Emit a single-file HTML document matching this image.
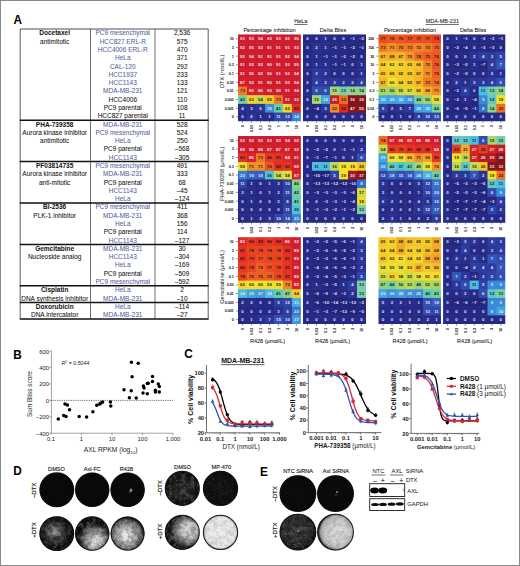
<!DOCTYPE html>
<html><head><meta charset="utf-8"><title>Figure</title>
<style>
html,body{margin:0;padding:0;background:#fff;}
body{width:520px;height:566px;overflow:hidden;}
svg{display:block;font-family:"Liberation Sans", sans-serif;}
</style></head><body>
<svg width="520" height="566" viewBox="0 0 520 566">
<defs>
<style>
text{font-family:"Liberation Sans", sans-serif;}
text.s{stroke-width:0.18px;}
text.w,text.k{font-size:4.3px;text-anchor:middle;font-weight:bold;}
text.w{fill:#e4e4f4;}
text.k{fill:#1c1c1c;}
</style>
<filter id="nW" x="0" y="0" width="1" height="1"><feTurbulence type="fractalNoise" baseFrequency="0.22" numOctaves="3" seed="4"/><feColorMatrix type="matrix" values="0 0 0 0 1  0 0 0 0 1  0 0 0 0 1  4 0 0 0 -1.7"/></filter>
<filter id="nK" x="0" y="0" width="1" height="1"><feTurbulence type="fractalNoise" baseFrequency="0.22" numOctaves="3" seed="11"/><feColorMatrix type="matrix" values="0 0 0 0 0  0 0 0 0 0  0 0 0 0 0  4 0 0 0 -1.6"/></filter>
<filter id="gW" x="0" y="0" width="1" height="1"><feTurbulence type="fractalNoise" baseFrequency="1.1" numOctaves="2" seed="5"/><feColorMatrix type="matrix" values="0 0 0 0 1  0 0 0 0 1  0 0 0 0 1  5 0 0 0 -2.4"/></filter>
<filter id="gK" x="0" y="0" width="1" height="1"><feTurbulence type="fractalNoise" baseFrequency="1.1" numOctaves="2" seed="7"/><feColorMatrix type="matrix" values="0 0 0 0 0  0 0 0 0 0  0 0 0 0 0  5 0 0 0 -2.4"/></filter>
<filter id="sW" x="0" y="0" width="1" height="1"><feTurbulence type="fractalNoise" baseFrequency="0.55" numOctaves="2" seed="21"/><feColorMatrix type="matrix" values="0 0 0 0 1  0 0 0 0 1  0 0 0 0 1  16 0 0 0 -11.2"/></filter>
<filter id="bl"><feGaussianBlur stdDeviation="0.5"/></filter>
<radialGradient id="g0" cx="0.5" cy="0.5" fx="0.5" fy="0.5" r="0.5"><stop offset="0" stop-color="#0b0b0b"/><stop offset="1" stop-color="#080808"/></radialGradient>
<clipPath id="c0"><circle cx="56.8" cy="489.8" r="17.4"/></clipPath>
<radialGradient id="g1" cx="0.5" cy="0.5" fx="0.5" fy="0.5" r="0.5"><stop offset="0" stop-color="#0b0b0b"/><stop offset="1" stop-color="#080808"/></radialGradient>
<clipPath id="c1"><circle cx="92.2" cy="489.8" r="17.2"/></clipPath>
<radialGradient id="g2" cx="0.5" cy="0.5" fx="0.5" fy="0.5" r="0.5"><stop offset="0" stop-color="#0b0b0b"/><stop offset="1" stop-color="#080808"/></radialGradient>
<clipPath id="c2"><circle cx="127.6" cy="489.8" r="17.2"/></clipPath>
<radialGradient id="g3" cx="0.47" cy="0.48" fx="0.4" fy="0.42" r="0.5"><stop offset="0" stop-color="#9a9a9a"/><stop offset="0.3" stop-color="#606060"/><stop offset="0.6" stop-color="#262626"/><stop offset="0.85" stop-color="#0e0e0e"/><stop offset="1" stop-color="#080808"/></radialGradient>
<clipPath id="c3"><circle cx="56.8" cy="533.6" r="17.4"/></clipPath>
<radialGradient id="g4" cx="0.58" cy="0.66" fx="0.6" fy="0.74" r="0.5"><stop offset="0" stop-color="#ececec"/><stop offset="0.3" stop-color="#d0d0d0"/><stop offset="0.6" stop-color="#808080"/><stop offset="0.85" stop-color="#242424"/><stop offset="1" stop-color="#0c0c0c"/></radialGradient>
<clipPath id="c4"><circle cx="92.2" cy="533.6" r="17.2"/></clipPath>
<radialGradient id="g5" cx="0.48" cy="0.54" fx="0.45" fy="0.58" r="0.5"><stop offset="0" stop-color="#f6f6f6"/><stop offset="0.25" stop-color="#e0e0e0"/><stop offset="0.6" stop-color="#a4a4a4"/><stop offset="0.88" stop-color="#5a5a5a"/><stop offset="1" stop-color="#1a1a1a"/></radialGradient>
<clipPath id="c5"><circle cx="127.6" cy="533.6" r="17.0"/></clipPath>
<radialGradient id="g6" cx="0.5" cy="0.55" fx="0.5" fy="0.55" r="0.5"><stop offset="0" stop-color="#262626"/><stop offset="0.5" stop-color="#181818"/><stop offset="0.8" stop-color="#0e0e0e"/><stop offset="1" stop-color="#0a0a0a"/></radialGradient>
<clipPath id="c6"><circle cx="182.3" cy="488.4" r="17.5"/></clipPath>
<radialGradient id="g7" cx="0.5" cy="0.5" fx="0.5" fy="0.5" r="0.5"><stop offset="0" stop-color="#101010"/><stop offset="0.8" stop-color="#0c0c0c"/><stop offset="1" stop-color="#0a0a0a"/></radialGradient>
<clipPath id="c7"><circle cx="220.5" cy="488.4" r="17.6"/></clipPath>
<radialGradient id="g8" cx="0.64" cy="0.45" fx="0.72" fy="0.42" r="0.5"><stop offset="0" stop-color="#e2e2e2"/><stop offset="0.45" stop-color="#c4c4c4"/><stop offset="0.8" stop-color="#505050"/><stop offset="1" stop-color="#101010"/></radialGradient>
<clipPath id="c8"><circle cx="182.3" cy="532.4" r="17.5"/></clipPath>
<radialGradient id="g9" cx="0.5" cy="0.5" fx="0.5" fy="0.5" r="0.5"><stop offset="0" stop-color="#f4f4f4"/><stop offset="0.85" stop-color="#eaeaea"/><stop offset="0.95" stop-color="#bcbcbc"/><stop offset="1" stop-color="#3a3a3a"/></radialGradient>
<clipPath id="c9"><circle cx="220.5" cy="532.4" r="17.6"/></clipPath>
<radialGradient id="g10" cx="0.5" cy="0.5" fx="0.5" fy="0.5" r="0.5"><stop offset="0" stop-color="#0c0c0c"/><stop offset="1" stop-color="#080808"/></radialGradient>
<clipPath id="c10"><circle cx="297.9" cy="493.6" r="18.4"/></clipPath>
<radialGradient id="g11" cx="0.5" cy="0.5" fx="0.5" fy="0.5" r="0.5"><stop offset="0" stop-color="#0c0c0c"/><stop offset="1" stop-color="#090909"/></radialGradient>
<clipPath id="c11"><circle cx="335.5" cy="493.6" r="18.4"/></clipPath>
<radialGradient id="g12" cx="0.45" cy="0.45" fx="0.45" fy="0.45" r="0.5"><stop offset="0" stop-color="#303030"/><stop offset="0.7" stop-color="#242424"/><stop offset="0.9" stop-color="#1c1c1c"/><stop offset="1" stop-color="#0c0c0c"/></radialGradient>
<clipPath id="c12"><circle cx="297.9" cy="532.1" r="18.4"/></clipPath>
<radialGradient id="g13" cx="0.55" cy="0.5" fx="0.58" fy="0.5" r="0.5"><stop offset="0" stop-color="#dedede"/><stop offset="0.6" stop-color="#d2d2d2"/><stop offset="0.86" stop-color="#b4b4b4"/><stop offset="0.96" stop-color="#787878"/><stop offset="1" stop-color="#2a2a2a"/></radialGradient>
<clipPath id="c13"><circle cx="335.5" cy="532.1" r="18.4"/></clipPath>
</defs>
<rect x="0.5" y="0.5" width="519" height="565" fill="#fff" stroke="#8a8a8a" stroke-width="1"/>
<text transform="translate(13.4,23.6) scale(0.88,1)" font-size="13.4" font-weight="bold" fill="#000">A</text>
<text transform="translate(13.2,358.5) scale(0.88,1)" font-size="13.4" font-weight="bold" fill="#000">B</text>
<text transform="translate(184.2,358.4) scale(0.88,1)" font-size="13.4" font-weight="bold" fill="#000">C</text>
<text transform="translate(13.2,475.3) scale(0.88,1)" font-size="13.4" font-weight="bold" fill="#000">D</text>
<text transform="translate(259.9,475.6) scale(0.88,1)" font-size="13.4" font-weight="bold" fill="#000">E</text>
<text x="54.65" y="35.44" font-size="6.5" text-anchor="middle" font-weight="bold" fill="#111" >Docetaxel</text>
<text x="54.65" y="43.73" font-size="6.5" text-anchor="middle" font-weight="normal" fill="#111" stroke="#111" stroke-width="0.05" >antimitotic</text>
<text x="122.75" y="35.44" font-size="6.5" text-anchor="middle" font-weight="normal" fill="#56619f" stroke="#56619f" stroke-width="0.05" >PC9 mesenchymal</text>
<text x="182.10" y="35.44" font-size="6.5" text-anchor="middle" font-weight="normal" fill="#111" stroke="#111" stroke-width="0.05" >2,536</text>
<text x="122.75" y="43.73" font-size="6.5" text-anchor="middle" font-weight="normal" fill="#56619f" stroke="#56619f" stroke-width="0.05" >HCC827 ERL-R</text>
<text x="182.10" y="43.73" font-size="6.5" text-anchor="middle" font-weight="normal" fill="#111" stroke="#111" stroke-width="0.05" >575</text>
<text x="122.75" y="52.01" font-size="6.5" text-anchor="middle" font-weight="normal" fill="#56619f" stroke="#56619f" stroke-width="0.05" >HCC4006 ERL-R</text>
<text x="182.10" y="52.01" font-size="6.5" text-anchor="middle" font-weight="normal" fill="#111" stroke="#111" stroke-width="0.05" >470</text>
<text x="122.75" y="60.30" font-size="6.5" text-anchor="middle" font-weight="normal" fill="#56619f" stroke="#56619f" stroke-width="0.05" >HeLa</text>
<text x="182.10" y="60.30" font-size="6.5" text-anchor="middle" font-weight="normal" fill="#111" stroke="#111" stroke-width="0.05" >371</text>
<text x="122.75" y="68.59" font-size="6.5" text-anchor="middle" font-weight="normal" fill="#56619f" stroke="#56619f" stroke-width="0.05" >CAL-120</text>
<text x="182.10" y="68.59" font-size="6.5" text-anchor="middle" font-weight="normal" fill="#111" stroke="#111" stroke-width="0.05" >292</text>
<text x="122.75" y="76.87" font-size="6.5" text-anchor="middle" font-weight="normal" fill="#56619f" stroke="#56619f" stroke-width="0.05" >HCC1937</text>
<text x="182.10" y="76.87" font-size="6.5" text-anchor="middle" font-weight="normal" fill="#111" stroke="#111" stroke-width="0.05" >233</text>
<text x="122.75" y="85.16" font-size="6.5" text-anchor="middle" font-weight="normal" fill="#56619f" stroke="#56619f" stroke-width="0.05" >HCC1143</text>
<text x="182.10" y="85.16" font-size="6.5" text-anchor="middle" font-weight="normal" fill="#111" stroke="#111" stroke-width="0.05" >133</text>
<text x="122.75" y="93.44" font-size="6.5" text-anchor="middle" font-weight="normal" fill="#56619f" stroke="#56619f" stroke-width="0.05" >MDA-MB-231</text>
<text x="182.10" y="93.44" font-size="6.5" text-anchor="middle" font-weight="normal" fill="#111" stroke="#111" stroke-width="0.05" >121</text>
<text x="122.75" y="101.73" font-size="6.5" text-anchor="middle" font-weight="normal" fill="#111" stroke="#111" stroke-width="0.05" >HCC4006</text>
<text x="182.10" y="101.73" font-size="6.5" text-anchor="middle" font-weight="normal" fill="#111" stroke="#111" stroke-width="0.05" >110</text>
<text x="122.75" y="110.01" font-size="6.5" text-anchor="middle" font-weight="normal" fill="#111" stroke="#111" stroke-width="0.05" >PC9 parental</text>
<text x="182.10" y="110.01" font-size="6.5" text-anchor="middle" font-weight="normal" fill="#111" stroke="#111" stroke-width="0.05" >108</text>
<text x="122.75" y="118.30" font-size="6.5" text-anchor="middle" font-weight="normal" fill="#111" stroke="#111" stroke-width="0.05" >HCC827 parental</text>
<text x="182.10" y="118.30" font-size="6.5" text-anchor="middle" font-weight="normal" fill="#111" stroke="#111" stroke-width="0.05" >11</text>
<text x="54.65" y="126.59" font-size="6.5" text-anchor="middle" font-weight="bold" fill="#111" >PHA-739358</text>
<text x="54.65" y="134.87" font-size="6.5" text-anchor="middle" font-weight="normal" fill="#111" stroke="#111" stroke-width="0.05" >Aurora kinase inhibitor</text>
<text x="54.65" y="143.16" font-size="6.5" text-anchor="middle" font-weight="normal" fill="#111" stroke="#111" stroke-width="0.05" >antimitotic</text>
<text x="122.75" y="126.59" font-size="6.5" text-anchor="middle" font-weight="normal" fill="#56619f" stroke="#56619f" stroke-width="0.05" >MDA-MB-231</text>
<text x="182.10" y="126.59" font-size="6.5" text-anchor="middle" font-weight="normal" fill="#111" stroke="#111" stroke-width="0.05" >528</text>
<text x="122.75" y="134.87" font-size="6.5" text-anchor="middle" font-weight="normal" fill="#56619f" stroke="#56619f" stroke-width="0.05" >PC9 mesenchymal</text>
<text x="182.10" y="134.87" font-size="6.5" text-anchor="middle" font-weight="normal" fill="#111" stroke="#111" stroke-width="0.05" >524</text>
<text x="122.75" y="143.16" font-size="6.5" text-anchor="middle" font-weight="normal" fill="#56619f" stroke="#56619f" stroke-width="0.05" >HeLa</text>
<text x="182.10" y="143.16" font-size="6.5" text-anchor="middle" font-weight="normal" fill="#111" stroke="#111" stroke-width="0.05" >250</text>
<text x="122.75" y="151.44" font-size="6.5" text-anchor="middle" font-weight="normal" fill="#111" stroke="#111" stroke-width="0.05" >PC9 parental</text>
<text x="182.10" y="151.44" font-size="6.5" text-anchor="middle" font-weight="normal" fill="#111" stroke="#111" stroke-width="0.05" >–568</text>
<text x="122.75" y="159.73" font-size="6.5" text-anchor="middle" font-weight="normal" fill="#56619f" stroke="#56619f" stroke-width="0.05" >HCC1143</text>
<text x="182.10" y="159.73" font-size="6.5" text-anchor="middle" font-weight="normal" fill="#111" stroke="#111" stroke-width="0.05" >–305</text>
<text x="54.65" y="168.01" font-size="6.5" text-anchor="middle" font-weight="bold" fill="#111" >PF03814735</text>
<text x="54.65" y="176.30" font-size="6.5" text-anchor="middle" font-weight="normal" fill="#111" stroke="#111" stroke-width="0.05" >Aurora kinase inhibitor</text>
<text x="54.65" y="184.59" font-size="6.5" text-anchor="middle" font-weight="normal" fill="#111" stroke="#111" stroke-width="0.05" >anti-mitotic</text>
<text x="122.75" y="168.01" font-size="6.5" text-anchor="middle" font-weight="normal" fill="#56619f" stroke="#56619f" stroke-width="0.05" >PC9 mesenchymal</text>
<text x="182.10" y="168.01" font-size="6.5" text-anchor="middle" font-weight="normal" fill="#111" stroke="#111" stroke-width="0.05" >491</text>
<text x="122.75" y="176.30" font-size="6.5" text-anchor="middle" font-weight="normal" fill="#56619f" stroke="#56619f" stroke-width="0.05" >MDA-MB-231</text>
<text x="182.10" y="176.30" font-size="6.5" text-anchor="middle" font-weight="normal" fill="#111" stroke="#111" stroke-width="0.05" >333</text>
<text x="122.75" y="184.59" font-size="6.5" text-anchor="middle" font-weight="normal" fill="#111" stroke="#111" stroke-width="0.05" >PC9 parental</text>
<text x="182.10" y="184.59" font-size="6.5" text-anchor="middle" font-weight="normal" fill="#111" stroke="#111" stroke-width="0.05" >68</text>
<text x="122.75" y="192.87" font-size="6.5" text-anchor="middle" font-weight="normal" fill="#56619f" stroke="#56619f" stroke-width="0.05" >HCC1143</text>
<text x="182.10" y="192.87" font-size="6.5" text-anchor="middle" font-weight="normal" fill="#111" stroke="#111" stroke-width="0.05" >–45</text>
<text x="122.75" y="201.16" font-size="6.5" text-anchor="middle" font-weight="normal" fill="#56619f" stroke="#56619f" stroke-width="0.05" >HeLa</text>
<text x="182.10" y="201.16" font-size="6.5" text-anchor="middle" font-weight="normal" fill="#111" stroke="#111" stroke-width="0.05" >–124</text>
<text x="54.65" y="209.44" font-size="6.5" text-anchor="middle" font-weight="bold" fill="#111" >BI-2536</text>
<text x="54.65" y="217.73" font-size="6.5" text-anchor="middle" font-weight="normal" fill="#111" stroke="#111" stroke-width="0.05" >PLK-1 inhibitor</text>
<text x="122.75" y="209.44" font-size="6.5" text-anchor="middle" font-weight="normal" fill="#56619f" stroke="#56619f" stroke-width="0.05" >PC9 mesenchymal</text>
<text x="182.10" y="209.44" font-size="6.5" text-anchor="middle" font-weight="normal" fill="#111" stroke="#111" stroke-width="0.05" >411</text>
<text x="122.75" y="217.73" font-size="6.5" text-anchor="middle" font-weight="normal" fill="#56619f" stroke="#56619f" stroke-width="0.05" >MDA-MB-231</text>
<text x="182.10" y="217.73" font-size="6.5" text-anchor="middle" font-weight="normal" fill="#111" stroke="#111" stroke-width="0.05" >368</text>
<text x="122.75" y="226.01" font-size="6.5" text-anchor="middle" font-weight="normal" fill="#56619f" stroke="#56619f" stroke-width="0.05" >HeLa</text>
<text x="182.10" y="226.01" font-size="6.5" text-anchor="middle" font-weight="normal" fill="#111" stroke="#111" stroke-width="0.05" >156</text>
<text x="122.75" y="234.30" font-size="6.5" text-anchor="middle" font-weight="normal" fill="#111" stroke="#111" stroke-width="0.05" >PC9 parental</text>
<text x="182.10" y="234.30" font-size="6.5" text-anchor="middle" font-weight="normal" fill="#111" stroke="#111" stroke-width="0.05" >114</text>
<text x="122.75" y="242.59" font-size="6.5" text-anchor="middle" font-weight="normal" fill="#56619f" stroke="#56619f" stroke-width="0.05" >HCC1143</text>
<text x="182.10" y="242.59" font-size="6.5" text-anchor="middle" font-weight="normal" fill="#111" stroke="#111" stroke-width="0.05" >–127</text>
<text x="54.65" y="250.87" font-size="6.5" text-anchor="middle" font-weight="bold" fill="#111" >Gemcitabine</text>
<text x="54.65" y="259.16" font-size="6.5" text-anchor="middle" font-weight="normal" fill="#111" stroke="#111" stroke-width="0.05" >Nucleoside analog</text>
<text x="122.75" y="250.87" font-size="6.5" text-anchor="middle" font-weight="normal" fill="#56619f" stroke="#56619f" stroke-width="0.05" >MDA-MB-231</text>
<text x="182.10" y="250.87" font-size="6.5" text-anchor="middle" font-weight="normal" fill="#111" stroke="#111" stroke-width="0.05" >30</text>
<text x="122.75" y="259.16" font-size="6.5" text-anchor="middle" font-weight="normal" fill="#56619f" stroke="#56619f" stroke-width="0.05" >HCC1143</text>
<text x="182.10" y="259.16" font-size="6.5" text-anchor="middle" font-weight="normal" fill="#111" stroke="#111" stroke-width="0.05" >–304</text>
<text x="122.75" y="267.44" font-size="6.5" text-anchor="middle" font-weight="normal" fill="#56619f" stroke="#56619f" stroke-width="0.05" >HeLa</text>
<text x="182.10" y="267.44" font-size="6.5" text-anchor="middle" font-weight="normal" fill="#111" stroke="#111" stroke-width="0.05" >–169</text>
<text x="122.75" y="275.73" font-size="6.5" text-anchor="middle" font-weight="normal" fill="#111" stroke="#111" stroke-width="0.05" >PC9 parental</text>
<text x="182.10" y="275.73" font-size="6.5" text-anchor="middle" font-weight="normal" fill="#111" stroke="#111" stroke-width="0.05" >–509</text>
<text x="122.75" y="284.01" font-size="6.5" text-anchor="middle" font-weight="normal" fill="#56619f" stroke="#56619f" stroke-width="0.05" >PC9 mesenchymal</text>
<text x="182.10" y="284.01" font-size="6.5" text-anchor="middle" font-weight="normal" fill="#111" stroke="#111" stroke-width="0.05" >–592</text>
<text x="54.65" y="292.30" font-size="6.5" text-anchor="middle" font-weight="bold" fill="#111" >Cisplatin</text>
<text x="54.65" y="300.59" font-size="6.5" text-anchor="middle" font-weight="normal" fill="#111" stroke="#111" stroke-width="0.05" >DNA synthesis inhibitor</text>
<text x="122.75" y="292.30" font-size="6.5" text-anchor="middle" font-weight="normal" fill="#56619f" stroke="#56619f" stroke-width="0.05" >HeLa</text>
<text x="182.10" y="292.30" font-size="6.5" text-anchor="middle" font-weight="normal" fill="#111" stroke="#111" stroke-width="0.05" >2</text>
<text x="122.75" y="300.59" font-size="6.5" text-anchor="middle" font-weight="normal" fill="#56619f" stroke="#56619f" stroke-width="0.05" >MDA-MB-231</text>
<text x="182.10" y="300.59" font-size="6.5" text-anchor="middle" font-weight="normal" fill="#111" stroke="#111" stroke-width="0.05" >–10</text>
<text x="54.65" y="308.87" font-size="6.5" text-anchor="middle" font-weight="bold" fill="#111" >Doxorubicin</text>
<text x="54.65" y="317.16" font-size="6.5" text-anchor="middle" font-weight="normal" fill="#111" stroke="#111" stroke-width="0.05" >DNA intercalator</text>
<text x="122.75" y="308.87" font-size="6.5" text-anchor="middle" font-weight="normal" fill="#56619f" stroke="#56619f" stroke-width="0.05" >HeLa</text>
<text x="182.10" y="308.87" font-size="6.5" text-anchor="middle" font-weight="normal" fill="#111" stroke="#111" stroke-width="0.05" >–114</text>
<text x="122.75" y="317.16" font-size="6.5" text-anchor="middle" font-weight="normal" fill="#56619f" stroke="#56619f" stroke-width="0.05" >MDA-MB-231</text>
<text x="182.10" y="317.16" font-size="6.5" text-anchor="middle" font-weight="normal" fill="#111" stroke="#111" stroke-width="0.05" >–27</text>
<line x1="20.20" y1="29.00" x2="208.20" y2="29.00" stroke="#222" stroke-width="0.8" />
<line x1="20.20" y1="29.00" x2="20.20" y2="319.00" stroke="#333" stroke-width="0.8" />
<line x1="208.20" y1="29.00" x2="208.20" y2="319.00" stroke="#333" stroke-width="0.8" />
<line x1="90.50" y1="29.00" x2="90.50" y2="319.00" stroke="#333" stroke-width="0.7" />
<line x1="155.00" y1="29.00" x2="155.00" y2="319.00" stroke="#333" stroke-width="0.7" />
<line x1="19.80" y1="120.14" x2="208.60" y2="120.14" stroke="#111" stroke-width="1.5" />
<line x1="19.80" y1="161.57" x2="208.60" y2="161.57" stroke="#111" stroke-width="1.5" />
<line x1="19.80" y1="203.00" x2="208.60" y2="203.00" stroke="#111" stroke-width="1.5" />
<line x1="19.80" y1="244.43" x2="208.60" y2="244.43" stroke="#111" stroke-width="1.5" />
<line x1="19.80" y1="285.86" x2="208.60" y2="285.86" stroke="#111" stroke-width="1.5" />
<line x1="19.80" y1="302.43" x2="208.60" y2="302.43" stroke="#111" stroke-width="1.5" />
<line x1="19.80" y1="319.00" x2="208.60" y2="319.00" stroke="#111" stroke-width="1.5" />
<g>
<rect x="238.00" y="34.45" width="9.58" height="9.28" fill="#d01c2c"/>
<rect x="246.98" y="34.45" width="9.58" height="9.28" fill="#d01c2c"/>
<rect x="255.96" y="34.45" width="9.58" height="9.28" fill="#d01c2c"/>
<rect x="264.94" y="34.45" width="9.58" height="9.28" fill="#d01c2c"/>
<rect x="273.92" y="34.45" width="9.58" height="9.28" fill="#d01c2c"/>
<rect x="282.90" y="34.45" width="9.58" height="9.28" fill="#d01c2c"/>
<rect x="291.88" y="34.45" width="8.98" height="9.28" fill="#d01c2c"/>
<rect x="238.00" y="43.13" width="9.58" height="9.28" fill="#d01c2c"/>
<rect x="246.98" y="43.13" width="9.58" height="9.28" fill="#d01c2c"/>
<rect x="255.96" y="43.13" width="9.58" height="9.28" fill="#d01c2c"/>
<rect x="264.94" y="43.13" width="9.58" height="9.28" fill="#d11c2c"/>
<rect x="273.92" y="43.13" width="9.58" height="9.28" fill="#d11c2c"/>
<rect x="282.90" y="43.13" width="9.58" height="9.28" fill="#d11c2c"/>
<rect x="291.88" y="43.13" width="8.98" height="9.28" fill="#d01c2c"/>
<rect x="238.00" y="51.81" width="9.58" height="9.28" fill="#d01c2c"/>
<rect x="246.98" y="51.81" width="9.58" height="9.28" fill="#d01c2c"/>
<rect x="255.96" y="51.81" width="9.58" height="9.28" fill="#d11c2c"/>
<rect x="264.94" y="51.81" width="9.58" height="9.28" fill="#d11c2c"/>
<rect x="273.92" y="51.81" width="9.58" height="9.28" fill="#d11c2c"/>
<rect x="282.90" y="51.81" width="9.58" height="9.28" fill="#d01c2c"/>
<rect x="291.88" y="51.81" width="8.98" height="9.28" fill="#d01c2c"/>
<rect x="238.00" y="60.49" width="9.58" height="9.28" fill="#d11c2c"/>
<rect x="246.98" y="60.49" width="9.58" height="9.28" fill="#d01c2c"/>
<rect x="255.96" y="60.49" width="9.58" height="9.28" fill="#d01c2c"/>
<rect x="264.94" y="60.49" width="9.58" height="9.28" fill="#d21d2b"/>
<rect x="273.92" y="60.49" width="9.58" height="9.28" fill="#d11c2c"/>
<rect x="282.90" y="60.49" width="9.58" height="9.28" fill="#d01c2c"/>
<rect x="291.88" y="60.49" width="8.98" height="9.28" fill="#d01c2c"/>
<rect x="238.00" y="69.17" width="9.58" height="9.28" fill="#d11c2c"/>
<rect x="246.98" y="69.17" width="9.58" height="9.28" fill="#d01c2c"/>
<rect x="255.96" y="69.17" width="9.58" height="9.28" fill="#d01c2c"/>
<rect x="264.94" y="69.17" width="9.58" height="9.28" fill="#d21d2b"/>
<rect x="273.92" y="69.17" width="9.58" height="9.28" fill="#d11c2c"/>
<rect x="282.90" y="69.17" width="9.58" height="9.28" fill="#d01c2c"/>
<rect x="291.88" y="69.17" width="8.98" height="9.28" fill="#d01c2c"/>
<rect x="238.00" y="77.85" width="9.58" height="9.28" fill="#d62029"/>
<rect x="246.98" y="77.85" width="9.58" height="9.28" fill="#d01c2c"/>
<rect x="255.96" y="77.85" width="9.58" height="9.28" fill="#d11c2c"/>
<rect x="264.94" y="77.85" width="9.58" height="9.28" fill="#d21d2b"/>
<rect x="273.92" y="77.85" width="9.58" height="9.28" fill="#d11c2c"/>
<rect x="282.90" y="77.85" width="9.58" height="9.28" fill="#d01c2c"/>
<rect x="291.88" y="77.85" width="8.98" height="9.28" fill="#d01c2c"/>
<rect x="238.00" y="86.53" width="9.58" height="9.28" fill="#ef7a25"/>
<rect x="246.98" y="86.53" width="9.58" height="9.28" fill="#d92228"/>
<rect x="255.96" y="86.53" width="9.58" height="9.28" fill="#d92228"/>
<rect x="264.94" y="86.53" width="9.58" height="9.28" fill="#d21d2b"/>
<rect x="273.92" y="86.53" width="9.58" height="9.28" fill="#d21d2b"/>
<rect x="282.90" y="86.53" width="9.58" height="9.28" fill="#d11c2c"/>
<rect x="291.88" y="86.53" width="8.98" height="9.28" fill="#d01c2c"/>
<rect x="238.00" y="95.21" width="9.58" height="9.28" fill="#71cfa0"/>
<rect x="246.98" y="95.21" width="9.58" height="9.28" fill="#f5d22a"/>
<rect x="255.96" y="95.21" width="9.58" height="9.28" fill="#c6da4b"/>
<rect x="264.94" y="95.21" width="9.58" height="9.28" fill="#f5c828"/>
<rect x="273.92" y="95.21" width="9.58" height="9.28" fill="#ef7a25"/>
<rect x="282.90" y="95.21" width="9.58" height="9.28" fill="#d11c2c"/>
<rect x="291.88" y="95.21" width="8.98" height="9.28" fill="#d01c2c"/>
<rect x="238.00" y="103.89" width="9.58" height="9.28" fill="#29308f"/>
<rect x="246.98" y="103.89" width="9.58" height="9.28" fill="#282f8d"/>
<rect x="255.96" y="103.89" width="9.58" height="9.28" fill="#2b3595"/>
<rect x="264.94" y="103.89" width="9.58" height="9.28" fill="#3c8cd7"/>
<rect x="273.92" y="103.89" width="9.58" height="9.28" fill="#64cdaf"/>
<rect x="282.90" y="103.89" width="9.58" height="9.28" fill="#f5d72b"/>
<rect x="291.88" y="103.89" width="8.98" height="9.28" fill="#e22e24"/>
<rect x="238.00" y="112.57" width="9.58" height="8.68" fill="#262a87"/>
<rect x="246.98" y="112.57" width="9.58" height="8.68" fill="#2b3595"/>
<rect x="255.96" y="112.57" width="9.58" height="8.68" fill="#272c89"/>
<rect x="264.94" y="112.57" width="9.58" height="8.68" fill="#272c89"/>
<rect x="273.92" y="112.57" width="9.58" height="8.68" fill="#3144a8"/>
<rect x="282.90" y="112.57" width="9.58" height="8.68" fill="#3247ab"/>
<rect x="291.88" y="112.57" width="8.98" height="8.68" fill="#3b85d4"/>
<text x="242.5" y="40.3" class="w">93</text>
<text x="251.5" y="40.3" class="w">93</text>
<text x="260.4" y="40.3" class="w">94</text>
<text x="269.4" y="40.3" class="w">93</text>
<text x="278.4" y="40.3" class="w">93</text>
<text x="287.4" y="40.3" class="w">92</text>
<text x="296.4" y="40.3" class="w">95</text>
<text x="242.5" y="49.0" class="w">92</text>
<text x="251.5" y="49.0" class="w">95</text>
<text x="260.4" y="49.0" class="w">92</text>
<text x="269.4" y="49.0" class="w">91</text>
<text x="278.4" y="49.0" class="w">91</text>
<text x="287.4" y="49.0" class="w">91</text>
<text x="296.4" y="49.0" class="w">93</text>
<text x="242.5" y="57.7" class="w">92</text>
<text x="251.5" y="57.7" class="w">94</text>
<text x="260.4" y="57.7" class="w">91</text>
<text x="269.4" y="57.7" class="w">91</text>
<text x="278.4" y="57.7" class="w">91</text>
<text x="287.4" y="57.7" class="w">92</text>
<text x="296.4" y="57.7" class="w">94</text>
<text x="242.5" y="66.3" class="w">91</text>
<text x="251.5" y="66.3" class="w">93</text>
<text x="260.4" y="66.3" class="w">92</text>
<text x="269.4" y="66.3" class="w">90</text>
<text x="278.4" y="66.3" class="w">91</text>
<text x="287.4" y="66.3" class="w">93</text>
<text x="296.4" y="66.3" class="w">95</text>
<text x="242.5" y="75.0" class="w">91</text>
<text x="251.5" y="75.0" class="w">95</text>
<text x="260.4" y="75.0" class="w">92</text>
<text x="269.4" y="75.0" class="w">90</text>
<text x="278.4" y="75.0" class="w">91</text>
<text x="287.4" y="75.0" class="w">92</text>
<text x="296.4" y="75.0" class="w">94</text>
<text x="242.5" y="83.7" class="w">87</text>
<text x="251.5" y="83.7" class="w">93</text>
<text x="260.4" y="83.7" class="w">91</text>
<text x="269.4" y="83.7" class="w">90</text>
<text x="278.4" y="83.7" class="w">91</text>
<text x="287.4" y="83.7" class="w">93</text>
<text x="296.4" y="83.7" class="w">94</text>
<text x="242.5" y="92.4" class="k">73</text>
<text x="251.5" y="92.4" class="w">86</text>
<text x="260.4" y="92.4" class="w">86</text>
<text x="269.4" y="92.4" class="w">90</text>
<text x="278.4" y="92.4" class="w">90</text>
<text x="287.4" y="92.4" class="w">91</text>
<text x="296.4" y="92.4" class="w">94</text>
<text x="242.5" y="101.1" class="k">43</text>
<text x="251.5" y="101.1" class="k">63</text>
<text x="260.4" y="101.1" class="k">54</text>
<text x="269.4" y="101.1" class="k">65</text>
<text x="278.4" y="101.1" class="k">73</text>
<text x="287.4" y="101.1" class="w">91</text>
<text x="296.4" y="101.1" class="w">93</text>
<text x="242.5" y="109.7" class="w">4</text>
<text x="251.5" y="109.7" class="w">3</text>
<text x="260.4" y="109.7" class="w">6</text>
<text x="269.4" y="109.7" class="w">25</text>
<text x="278.4" y="109.7" class="k">41</text>
<text x="287.4" y="109.7" class="k">62</text>
<text x="296.4" y="109.7" class="k">82</text>
<text x="242.5" y="118.4" class="w">0</text>
<text x="251.5" y="118.4" class="w">6</text>
<text x="260.4" y="118.4" class="w">1</text>
<text x="269.4" y="118.4" class="w">1</text>
<text x="278.4" y="118.4" class="w">11</text>
<text x="287.4" y="118.4" class="w">12</text>
<text x="296.4" y="118.4" class="w">24</text>
</g>
<line x1="242.49" y1="121.25" x2="242.49" y2="123.05" stroke="#333" stroke-width="0.5" />
<text transform="translate(243.89,125.45) rotate(-90)" font-size="3.8" font-weight="bold" letter-spacing="-0.2" text-anchor="end" fill="#1a1a1a">0</text>
<line x1="251.47" y1="121.25" x2="251.47" y2="123.05" stroke="#333" stroke-width="0.5" />
<text transform="translate(252.87,125.45) rotate(-90)" font-size="3.8" font-weight="bold" letter-spacing="-0.2" text-anchor="end" fill="#1a1a1a">0.03</text>
<line x1="260.45" y1="121.25" x2="260.45" y2="123.05" stroke="#333" stroke-width="0.5" />
<text transform="translate(261.85,125.45) rotate(-90)" font-size="3.8" font-weight="bold" letter-spacing="-0.2" text-anchor="end" fill="#1a1a1a">0.1</text>
<line x1="269.43" y1="121.25" x2="269.43" y2="123.05" stroke="#333" stroke-width="0.5" />
<text transform="translate(270.83,125.45) rotate(-90)" font-size="3.8" font-weight="bold" letter-spacing="-0.2" text-anchor="end" fill="#1a1a1a">0.3</text>
<line x1="278.41" y1="121.25" x2="278.41" y2="123.05" stroke="#333" stroke-width="0.5" />
<text transform="translate(279.81,125.45) rotate(-90)" font-size="3.8" font-weight="bold" letter-spacing="-0.2" text-anchor="end" fill="#1a1a1a">1</text>
<line x1="287.39" y1="121.25" x2="287.39" y2="123.05" stroke="#333" stroke-width="0.5" />
<text transform="translate(288.79,125.45) rotate(-90)" font-size="3.8" font-weight="bold" letter-spacing="-0.2" text-anchor="end" fill="#1a1a1a">3</text>
<line x1="296.37" y1="121.25" x2="296.37" y2="123.05" stroke="#333" stroke-width="0.5" />
<text transform="translate(297.77,125.45) rotate(-90)" font-size="3.8" font-weight="bold" letter-spacing="-0.2" text-anchor="end" fill="#1a1a1a">10</text>
<line x1="235.80" y1="38.79" x2="238.00" y2="38.79" stroke="#333" stroke-width="0.5" />
<text x="233.60" y="40.19" font-size="3.9" text-anchor="end" font-weight="bold" fill="#1a1a1a" letter-spacing="-0.2">10</text>
<line x1="235.80" y1="47.47" x2="238.00" y2="47.47" stroke="#333" stroke-width="0.5" />
<text x="233.60" y="48.87" font-size="3.9" text-anchor="end" font-weight="bold" fill="#1a1a1a" letter-spacing="-0.2">3</text>
<line x1="235.80" y1="56.15" x2="238.00" y2="56.15" stroke="#333" stroke-width="0.5" />
<text x="233.60" y="57.55" font-size="3.9" text-anchor="end" font-weight="bold" fill="#1a1a1a" letter-spacing="-0.2">1</text>
<line x1="235.80" y1="64.83" x2="238.00" y2="64.83" stroke="#333" stroke-width="0.5" />
<text x="233.60" y="66.23" font-size="3.9" text-anchor="end" font-weight="bold" fill="#1a1a1a" letter-spacing="-0.2">0.3</text>
<line x1="235.80" y1="73.51" x2="238.00" y2="73.51" stroke="#333" stroke-width="0.5" />
<text x="233.60" y="74.91" font-size="3.9" text-anchor="end" font-weight="bold" fill="#1a1a1a" letter-spacing="-0.2">0.1</text>
<line x1="235.80" y1="82.19" x2="238.00" y2="82.19" stroke="#333" stroke-width="0.5" />
<text x="233.60" y="83.59" font-size="3.9" text-anchor="end" font-weight="bold" fill="#1a1a1a" letter-spacing="-0.2">0.03</text>
<line x1="235.80" y1="90.87" x2="238.00" y2="90.87" stroke="#333" stroke-width="0.5" />
<text x="233.60" y="92.27" font-size="3.9" text-anchor="end" font-weight="bold" fill="#1a1a1a" letter-spacing="-0.2">0.01</text>
<line x1="235.80" y1="99.55" x2="238.00" y2="99.55" stroke="#333" stroke-width="0.5" />
<text x="233.60" y="100.95" font-size="3.9" text-anchor="end" font-weight="bold" fill="#1a1a1a" letter-spacing="-0.2">0.003</text>
<line x1="235.80" y1="108.23" x2="238.00" y2="108.23" stroke="#333" stroke-width="0.5" />
<text x="233.60" y="109.63" font-size="3.9" text-anchor="end" font-weight="bold" fill="#1a1a1a" letter-spacing="-0.2">0.001</text>
<line x1="235.80" y1="116.91" x2="238.00" y2="116.91" stroke="#333" stroke-width="0.5" />
<text x="233.60" y="118.31" font-size="3.9" text-anchor="end" font-weight="bold" fill="#1a1a1a" letter-spacing="-0.2">0</text>
<g>
<rect x="303.00" y="34.45" width="9.60" height="9.28" fill="#262a87"/>
<rect x="312.00" y="34.45" width="9.60" height="9.28" fill="#262a87"/>
<rect x="321.00" y="34.45" width="9.60" height="9.28" fill="#282e8d"/>
<rect x="330.00" y="34.45" width="9.60" height="9.28" fill="#262a87"/>
<rect x="339.00" y="34.45" width="9.60" height="9.28" fill="#262a87"/>
<rect x="348.00" y="34.45" width="9.60" height="9.28" fill="#262986"/>
<rect x="357.00" y="34.45" width="9.00" height="9.28" fill="#252984"/>
<rect x="303.00" y="43.13" width="9.60" height="9.28" fill="#262a87"/>
<rect x="312.00" y="43.13" width="9.60" height="9.28" fill="#2a3394"/>
<rect x="321.00" y="43.13" width="9.60" height="9.28" fill="#282e8d"/>
<rect x="330.00" y="43.13" width="9.60" height="9.28" fill="#262986"/>
<rect x="339.00" y="43.13" width="9.60" height="9.28" fill="#262986"/>
<rect x="348.00" y="43.13" width="9.60" height="9.28" fill="#252984"/>
<rect x="357.00" y="43.13" width="9.00" height="9.28" fill="#262986"/>
<rect x="303.00" y="51.81" width="9.60" height="9.28" fill="#262a87"/>
<rect x="312.00" y="51.81" width="9.60" height="9.28" fill="#282e8d"/>
<rect x="321.00" y="51.81" width="9.60" height="9.28" fill="#262986"/>
<rect x="330.00" y="51.81" width="9.60" height="9.28" fill="#262986"/>
<rect x="339.00" y="51.81" width="9.60" height="9.28" fill="#252984"/>
<rect x="348.00" y="51.81" width="9.60" height="9.28" fill="#252984"/>
<rect x="357.00" y="51.81" width="9.00" height="9.28" fill="#262a87"/>
<rect x="303.00" y="60.49" width="9.60" height="9.28" fill="#262a87"/>
<rect x="312.00" y="60.49" width="9.60" height="9.28" fill="#282e8d"/>
<rect x="321.00" y="60.49" width="9.60" height="9.28" fill="#282e8d"/>
<rect x="330.00" y="60.49" width="9.60" height="9.28" fill="#262986"/>
<rect x="339.00" y="60.49" width="9.60" height="9.28" fill="#262986"/>
<rect x="348.00" y="60.49" width="9.60" height="9.28" fill="#262a87"/>
<rect x="357.00" y="60.49" width="9.00" height="9.28" fill="#282e8d"/>
<rect x="303.00" y="69.17" width="9.60" height="9.28" fill="#262a87"/>
<rect x="312.00" y="69.17" width="9.60" height="9.28" fill="#2b389a"/>
<rect x="321.00" y="69.17" width="9.60" height="9.28" fill="#2a3394"/>
<rect x="330.00" y="69.17" width="9.60" height="9.28" fill="#262a87"/>
<rect x="339.00" y="69.17" width="9.60" height="9.28" fill="#262a87"/>
<rect x="348.00" y="69.17" width="9.60" height="9.28" fill="#262a87"/>
<rect x="357.00" y="69.17" width="9.00" height="9.28" fill="#282e8d"/>
<rect x="303.00" y="77.85" width="9.60" height="9.28" fill="#262a87"/>
<rect x="312.00" y="77.85" width="9.60" height="9.28" fill="#2d3ca0"/>
<rect x="321.00" y="77.85" width="9.60" height="9.28" fill="#2b389a"/>
<rect x="330.00" y="77.85" width="9.60" height="9.28" fill="#2b389a"/>
<rect x="339.00" y="77.85" width="9.60" height="9.28" fill="#2a3394"/>
<rect x="348.00" y="77.85" width="9.60" height="9.28" fill="#2a3394"/>
<rect x="357.00" y="77.85" width="9.00" height="9.28" fill="#2d3ca0"/>
<rect x="303.00" y="86.53" width="9.60" height="9.28" fill="#262a87"/>
<rect x="312.00" y="86.53" width="9.60" height="9.28" fill="#304db1"/>
<rect x="321.00" y="86.53" width="9.60" height="9.28" fill="#304db1"/>
<rect x="330.00" y="86.53" width="9.60" height="9.28" fill="#a5d773"/>
<rect x="339.00" y="86.53" width="9.60" height="9.28" fill="#78cdaa"/>
<rect x="348.00" y="86.53" width="9.60" height="9.28" fill="#8ed28e"/>
<rect x="357.00" y="86.53" width="9.00" height="9.28" fill="#8ed28e"/>
<rect x="303.00" y="95.21" width="9.60" height="9.28" fill="#262a87"/>
<rect x="312.00" y="95.21" width="9.60" height="9.28" fill="#a5d773"/>
<rect x="321.00" y="95.21" width="9.60" height="9.28" fill="#41a5dc"/>
<rect x="330.00" y="95.21" width="9.60" height="9.28" fill="#c31e20"/>
<rect x="339.00" y="95.21" width="9.60" height="9.28" fill="#f06e23"/>
<rect x="348.00" y="95.21" width="9.60" height="9.28" fill="#871419"/>
<rect x="357.00" y="95.21" width="9.00" height="9.28" fill="#871419"/>
<rect x="303.00" y="103.89" width="9.60" height="9.28" fill="#262a87"/>
<rect x="312.00" y="103.89" width="9.60" height="9.28" fill="#242882"/>
<rect x="321.00" y="103.89" width="9.60" height="9.28" fill="#2b389a"/>
<rect x="330.00" y="103.89" width="9.60" height="9.28" fill="#f28c26"/>
<rect x="339.00" y="103.89" width="9.60" height="9.28" fill="#e12823"/>
<rect x="348.00" y="103.89" width="9.60" height="9.28" fill="#871419"/>
<rect x="357.00" y="103.89" width="9.00" height="9.28" fill="#871419"/>
<rect x="303.00" y="112.57" width="9.60" height="8.68" fill="#262a87"/>
<rect x="312.00" y="112.57" width="9.60" height="8.68" fill="#262a87"/>
<rect x="321.00" y="112.57" width="9.60" height="8.68" fill="#262a87"/>
<rect x="330.00" y="112.57" width="9.60" height="8.68" fill="#262a87"/>
<rect x="339.00" y="112.57" width="9.60" height="8.68" fill="#262a87"/>
<rect x="348.00" y="112.57" width="9.60" height="8.68" fill="#262a87"/>
<rect x="357.00" y="112.57" width="9.00" height="8.68" fill="#262a87"/>
<text x="307.5" y="40.3" class="w">0</text>
<text x="316.5" y="40.3" class="w">0</text>
<text x="325.5" y="40.3" class="w">1</text>
<text x="334.5" y="40.3" class="w">0</text>
<text x="343.5" y="40.3" class="w">0</text>
<text x="352.5" y="40.3" class="w">–1</text>
<text x="361.5" y="40.3" class="w">–2</text>
<text x="307.5" y="49.0" class="w">0</text>
<text x="316.5" y="49.0" class="w">2</text>
<text x="325.5" y="49.0" class="w">1</text>
<text x="334.5" y="49.0" class="w">–1</text>
<text x="343.5" y="49.0" class="w">–1</text>
<text x="352.5" y="49.0" class="w">–2</text>
<text x="361.5" y="49.0" class="w">–1</text>
<text x="307.5" y="57.7" class="w">0</text>
<text x="316.5" y="57.7" class="w">1</text>
<text x="325.5" y="57.7" class="w">–1</text>
<text x="334.5" y="57.7" class="w">–1</text>
<text x="343.5" y="57.7" class="w">–2</text>
<text x="352.5" y="57.7" class="w">–2</text>
<text x="361.5" y="57.7" class="w">0</text>
<text x="307.5" y="66.3" class="w">0</text>
<text x="316.5" y="66.3" class="w">1</text>
<text x="325.5" y="66.3" class="w">1</text>
<text x="334.5" y="66.3" class="w">–1</text>
<text x="343.5" y="66.3" class="w">–1</text>
<text x="352.5" y="66.3" class="w">0</text>
<text x="361.5" y="66.3" class="w">1</text>
<text x="307.5" y="75.0" class="w">0</text>
<text x="316.5" y="75.0" class="w">3</text>
<text x="325.5" y="75.0" class="w">2</text>
<text x="334.5" y="75.0" class="w">0</text>
<text x="343.5" y="75.0" class="w">0</text>
<text x="352.5" y="75.0" class="w">0</text>
<text x="361.5" y="75.0" class="w">1</text>
<text x="307.5" y="83.7" class="w">0</text>
<text x="316.5" y="83.7" class="w">4</text>
<text x="325.5" y="83.7" class="w">3</text>
<text x="334.5" y="83.7" class="w">3</text>
<text x="343.5" y="83.7" class="w">2</text>
<text x="352.5" y="83.7" class="w">2</text>
<text x="361.5" y="83.7" class="w">4</text>
<text x="307.5" y="92.4" class="w">0</text>
<text x="316.5" y="92.4" class="w">6</text>
<text x="325.5" y="92.4" class="w">6</text>
<text x="334.5" y="92.4" class="k">15</text>
<text x="343.5" y="92.4" class="k">13</text>
<text x="352.5" y="92.4" class="k">14</text>
<text x="361.5" y="92.4" class="k">14</text>
<text x="307.5" y="101.1" class="w">0</text>
<text x="316.5" y="101.1" class="k">15</text>
<text x="325.5" y="101.1" class="w">10</text>
<text x="334.5" y="101.1" class="w">28</text>
<text x="343.5" y="101.1" class="k">23</text>
<text x="352.5" y="101.1" class="w">36</text>
<text x="361.5" y="101.1" class="w">39</text>
<text x="307.5" y="109.7" class="w">0</text>
<text x="316.5" y="109.7" class="w">–4</text>
<text x="325.5" y="109.7" class="w">3</text>
<text x="334.5" y="109.7" class="k">22</text>
<text x="343.5" y="109.7" class="k">26</text>
<text x="352.5" y="109.7" class="w">47</text>
<text x="361.5" y="109.7" class="w">55</text>
<text x="307.5" y="118.4" class="w">0</text>
<text x="316.5" y="118.4" class="w">0</text>
<text x="325.5" y="118.4" class="w">0</text>
<text x="334.5" y="118.4" class="w">0</text>
<text x="343.5" y="118.4" class="w">0</text>
<text x="352.5" y="118.4" class="w">0</text>
<text x="361.5" y="118.4" class="w">0</text>
</g>
<line x1="307.50" y1="121.25" x2="307.50" y2="123.05" stroke="#333" stroke-width="0.5" />
<text transform="translate(308.90,125.45) rotate(-90)" font-size="3.8" font-weight="bold" letter-spacing="-0.2" text-anchor="end" fill="#1a1a1a">0</text>
<line x1="316.50" y1="121.25" x2="316.50" y2="123.05" stroke="#333" stroke-width="0.5" />
<text transform="translate(317.90,125.45) rotate(-90)" font-size="3.8" font-weight="bold" letter-spacing="-0.2" text-anchor="end" fill="#1a1a1a">0.03</text>
<line x1="325.50" y1="121.25" x2="325.50" y2="123.05" stroke="#333" stroke-width="0.5" />
<text transform="translate(326.90,125.45) rotate(-90)" font-size="3.8" font-weight="bold" letter-spacing="-0.2" text-anchor="end" fill="#1a1a1a">0.1</text>
<line x1="334.50" y1="121.25" x2="334.50" y2="123.05" stroke="#333" stroke-width="0.5" />
<text transform="translate(335.90,125.45) rotate(-90)" font-size="3.8" font-weight="bold" letter-spacing="-0.2" text-anchor="end" fill="#1a1a1a">0.3</text>
<line x1="343.50" y1="121.25" x2="343.50" y2="123.05" stroke="#333" stroke-width="0.5" />
<text transform="translate(344.90,125.45) rotate(-90)" font-size="3.8" font-weight="bold" letter-spacing="-0.2" text-anchor="end" fill="#1a1a1a">1</text>
<line x1="352.50" y1="121.25" x2="352.50" y2="123.05" stroke="#333" stroke-width="0.5" />
<text transform="translate(353.90,125.45) rotate(-90)" font-size="3.8" font-weight="bold" letter-spacing="-0.2" text-anchor="end" fill="#1a1a1a">3</text>
<line x1="361.50" y1="121.25" x2="361.50" y2="123.05" stroke="#333" stroke-width="0.5" />
<text transform="translate(362.90,125.45) rotate(-90)" font-size="3.8" font-weight="bold" letter-spacing="-0.2" text-anchor="end" fill="#1a1a1a">10</text>
<g>
<rect x="378.50" y="34.45" width="9.52" height="9.28" fill="#eb4d23"/>
<rect x="387.42" y="34.45" width="9.52" height="9.28" fill="#ed5624"/>
<rect x="396.34" y="34.45" width="9.52" height="9.28" fill="#ed5624"/>
<rect x="405.26" y="34.45" width="9.52" height="9.28" fill="#eb4d23"/>
<rect x="414.18" y="34.45" width="9.52" height="9.28" fill="#eb4d23"/>
<rect x="423.10" y="34.45" width="9.52" height="9.28" fill="#eb4d23"/>
<rect x="432.02" y="34.45" width="8.92" height="9.28" fill="#e83e23"/>
<rect x="378.50" y="43.13" width="9.52" height="9.28" fill="#ef7a25"/>
<rect x="387.42" y="43.13" width="9.52" height="9.28" fill="#f19026"/>
<rect x="396.34" y="43.13" width="9.52" height="9.28" fill="#ef7a25"/>
<rect x="405.26" y="43.13" width="9.52" height="9.28" fill="#ef7a25"/>
<rect x="414.18" y="43.13" width="9.52" height="9.28" fill="#f08726"/>
<rect x="423.10" y="43.13" width="9.52" height="9.28" fill="#ef7a25"/>
<rect x="432.02" y="43.13" width="8.92" height="9.28" fill="#ee5f24"/>
<rect x="378.50" y="51.81" width="9.52" height="9.28" fill="#f5b428"/>
<rect x="387.42" y="51.81" width="9.52" height="9.28" fill="#f5aa28"/>
<rect x="396.34" y="51.81" width="9.52" height="9.28" fill="#f5b428"/>
<rect x="405.26" y="51.81" width="9.52" height="9.28" fill="#f29827"/>
<rect x="414.18" y="51.81" width="9.52" height="9.28" fill="#ef6c25"/>
<rect x="423.10" y="51.81" width="9.52" height="9.28" fill="#ee5f24"/>
<rect x="432.02" y="51.81" width="8.92" height="9.28" fill="#ed5624"/>
<rect x="378.50" y="60.49" width="9.52" height="9.28" fill="#f5cd29"/>
<rect x="387.42" y="60.49" width="9.52" height="9.28" fill="#f5d72b"/>
<rect x="396.34" y="60.49" width="9.52" height="9.28" fill="#f5d22a"/>
<rect x="405.26" y="60.49" width="9.52" height="9.28" fill="#f5c828"/>
<rect x="414.18" y="60.49" width="9.52" height="9.28" fill="#f5be28"/>
<rect x="423.10" y="60.49" width="9.52" height="9.28" fill="#f08726"/>
<rect x="432.02" y="60.49" width="8.92" height="9.28" fill="#ed5624"/>
<rect x="378.50" y="69.17" width="9.52" height="9.28" fill="#f5c828"/>
<rect x="387.42" y="69.17" width="9.52" height="9.28" fill="#f5c828"/>
<rect x="396.34" y="69.17" width="9.52" height="9.28" fill="#f5c828"/>
<rect x="405.26" y="69.17" width="9.52" height="9.28" fill="#f5c828"/>
<rect x="414.18" y="69.17" width="9.52" height="9.28" fill="#f5b428"/>
<rect x="423.10" y="69.17" width="9.52" height="9.28" fill="#f19026"/>
<rect x="432.02" y="69.17" width="8.92" height="9.28" fill="#ee5f24"/>
<rect x="378.50" y="77.85" width="9.52" height="9.28" fill="#f5b428"/>
<rect x="387.42" y="77.85" width="9.52" height="9.28" fill="#f5e12d"/>
<rect x="396.34" y="77.85" width="9.52" height="9.28" fill="#f5cd29"/>
<rect x="405.26" y="77.85" width="9.52" height="9.28" fill="#f5c828"/>
<rect x="414.18" y="77.85" width="9.52" height="9.28" fill="#f5b428"/>
<rect x="423.10" y="77.85" width="9.52" height="9.28" fill="#ef7a25"/>
<rect x="432.02" y="77.85" width="8.92" height="9.28" fill="#ef6c25"/>
<rect x="378.50" y="86.53" width="9.52" height="9.28" fill="#acd662"/>
<rect x="387.42" y="86.53" width="9.52" height="9.28" fill="#a4d56a"/>
<rect x="396.34" y="86.53" width="9.52" height="9.28" fill="#cedb44"/>
<rect x="405.26" y="86.53" width="9.52" height="9.28" fill="#dedd38"/>
<rect x="414.18" y="86.53" width="9.52" height="9.28" fill="#f5c828"/>
<rect x="423.10" y="86.53" width="9.52" height="9.28" fill="#f5aa28"/>
<rect x="432.02" y="86.53" width="8.92" height="9.28" fill="#f19026"/>
<rect x="378.50" y="95.21" width="9.52" height="9.28" fill="#41aae1"/>
<rect x="387.42" y="95.21" width="9.52" height="9.28" fill="#40a4df"/>
<rect x="396.34" y="95.21" width="9.52" height="9.28" fill="#41aae1"/>
<rect x="405.26" y="95.21" width="9.52" height="9.28" fill="#3d92d9"/>
<rect x="414.18" y="95.21" width="9.52" height="9.28" fill="#78d098"/>
<rect x="423.10" y="95.21" width="9.52" height="9.28" fill="#a4d56a"/>
<rect x="432.02" y="95.21" width="8.92" height="9.28" fill="#e6de34"/>
<rect x="378.50" y="103.89" width="9.52" height="9.28" fill="#2f3ea1"/>
<rect x="387.42" y="103.89" width="9.52" height="9.28" fill="#282d8b"/>
<rect x="396.34" y="103.89" width="9.52" height="9.28" fill="#2a3291"/>
<rect x="405.26" y="103.89" width="9.52" height="9.28" fill="#2c3899"/>
<rect x="414.18" y="103.89" width="9.52" height="9.28" fill="#3f9edd"/>
<rect x="423.10" y="103.89" width="9.52" height="9.28" fill="#41aae1"/>
<rect x="432.02" y="103.89" width="8.92" height="9.28" fill="#78d098"/>
<rect x="378.50" y="112.57" width="9.52" height="8.68" fill="#262a87"/>
<rect x="387.42" y="112.57" width="9.52" height="8.68" fill="#262a87"/>
<rect x="396.34" y="112.57" width="9.52" height="8.68" fill="#272c89"/>
<rect x="405.26" y="112.57" width="9.52" height="8.68" fill="#262a87"/>
<rect x="414.18" y="112.57" width="9.52" height="8.68" fill="#2e3b9d"/>
<rect x="423.10" y="112.57" width="9.52" height="8.68" fill="#3041a5"/>
<rect x="432.02" y="112.57" width="8.92" height="8.68" fill="#324aae"/>
<text x="383.0" y="40.3" class="k">77</text>
<text x="391.9" y="40.3" class="k">76</text>
<text x="400.8" y="40.3" class="k">76</text>
<text x="409.7" y="40.3" class="k">77</text>
<text x="418.6" y="40.3" class="k">77</text>
<text x="427.6" y="40.3" class="k">77</text>
<text x="436.5" y="40.3" class="k">79</text>
<text x="383.0" y="49.0" class="k">73</text>
<text x="391.9" y="49.0" class="k">71</text>
<text x="400.8" y="49.0" class="k">73</text>
<text x="409.7" y="49.0" class="k">73</text>
<text x="418.6" y="49.0" class="k">72</text>
<text x="427.6" y="49.0" class="k">73</text>
<text x="436.5" y="49.0" class="k">75</text>
<text x="383.0" y="57.7" class="k">67</text>
<text x="391.9" y="57.7" class="k">68</text>
<text x="400.8" y="57.7" class="k">67</text>
<text x="409.7" y="57.7" class="k">70</text>
<text x="418.6" y="57.7" class="k">74</text>
<text x="427.6" y="57.7" class="k">75</text>
<text x="436.5" y="57.7" class="k">76</text>
<text x="383.0" y="66.3" class="k">64</text>
<text x="391.9" y="66.3" class="k">62</text>
<text x="400.8" y="66.3" class="k">63</text>
<text x="409.7" y="66.3" class="k">65</text>
<text x="418.6" y="66.3" class="k">66</text>
<text x="427.6" y="66.3" class="k">72</text>
<text x="436.5" y="66.3" class="k">76</text>
<text x="383.0" y="75.0" class="k">65</text>
<text x="391.9" y="75.0" class="k">65</text>
<text x="400.8" y="75.0" class="k">65</text>
<text x="409.7" y="75.0" class="k">65</text>
<text x="418.6" y="75.0" class="k">67</text>
<text x="427.6" y="75.0" class="k">71</text>
<text x="436.5" y="75.0" class="k">75</text>
<text x="383.0" y="83.7" class="k">67</text>
<text x="391.9" y="83.7" class="k">60</text>
<text x="400.8" y="83.7" class="k">64</text>
<text x="409.7" y="83.7" class="k">65</text>
<text x="418.6" y="83.7" class="k">67</text>
<text x="427.6" y="83.7" class="k">73</text>
<text x="436.5" y="83.7" class="k">74</text>
<text x="383.0" y="92.4" class="k">51</text>
<text x="391.9" y="92.4" class="k">50</text>
<text x="400.8" y="92.4" class="k">55</text>
<text x="409.7" y="92.4" class="k">57</text>
<text x="418.6" y="92.4" class="k">65</text>
<text x="427.6" y="92.4" class="k">68</text>
<text x="436.5" y="92.4" class="k">71</text>
<text x="383.0" y="101.1" class="w">30</text>
<text x="391.9" y="101.1" class="w">29</text>
<text x="400.8" y="101.1" class="w">30</text>
<text x="409.7" y="101.1" class="w">26</text>
<text x="418.6" y="101.1" class="k">44</text>
<text x="427.6" y="101.1" class="k">50</text>
<text x="436.5" y="101.1" class="k">58</text>
<text x="383.0" y="109.7" class="w">9</text>
<text x="391.9" y="109.7" class="w">2</text>
<text x="400.8" y="109.7" class="w">5</text>
<text x="409.7" y="109.7" class="w">7</text>
<text x="418.6" y="109.7" class="w">28</text>
<text x="427.6" y="109.7" class="w">30</text>
<text x="436.5" y="109.7" class="k">44</text>
<text x="383.0" y="118.4" class="w">0</text>
<text x="391.9" y="118.4" class="w">0</text>
<text x="400.8" y="118.4" class="w">1</text>
<text x="409.7" y="118.4" class="w">0</text>
<text x="418.6" y="118.4" class="w">8</text>
<text x="427.6" y="118.4" class="w">10</text>
<text x="436.5" y="118.4" class="w">13</text>
</g>
<line x1="382.96" y1="121.25" x2="382.96" y2="123.05" stroke="#333" stroke-width="0.5" />
<text transform="translate(384.36,125.45) rotate(-90)" font-size="3.8" font-weight="bold" letter-spacing="-0.2" text-anchor="end" fill="#1a1a1a">0</text>
<line x1="391.88" y1="121.25" x2="391.88" y2="123.05" stroke="#333" stroke-width="0.5" />
<text transform="translate(393.28,125.45) rotate(-90)" font-size="3.8" font-weight="bold" letter-spacing="-0.2" text-anchor="end" fill="#1a1a1a">0.03</text>
<line x1="400.80" y1="121.25" x2="400.80" y2="123.05" stroke="#333" stroke-width="0.5" />
<text transform="translate(402.20,125.45) rotate(-90)" font-size="3.8" font-weight="bold" letter-spacing="-0.2" text-anchor="end" fill="#1a1a1a">0.1</text>
<line x1="409.72" y1="121.25" x2="409.72" y2="123.05" stroke="#333" stroke-width="0.5" />
<text transform="translate(411.12,125.45) rotate(-90)" font-size="3.8" font-weight="bold" letter-spacing="-0.2" text-anchor="end" fill="#1a1a1a">0.3</text>
<line x1="418.64" y1="121.25" x2="418.64" y2="123.05" stroke="#333" stroke-width="0.5" />
<text transform="translate(420.04,125.45) rotate(-90)" font-size="3.8" font-weight="bold" letter-spacing="-0.2" text-anchor="end" fill="#1a1a1a">1</text>
<line x1="427.56" y1="121.25" x2="427.56" y2="123.05" stroke="#333" stroke-width="0.5" />
<text transform="translate(428.96,125.45) rotate(-90)" font-size="3.8" font-weight="bold" letter-spacing="-0.2" text-anchor="end" fill="#1a1a1a">3</text>
<line x1="436.48" y1="121.25" x2="436.48" y2="123.05" stroke="#333" stroke-width="0.5" />
<text transform="translate(437.88,125.45) rotate(-90)" font-size="3.8" font-weight="bold" letter-spacing="-0.2" text-anchor="end" fill="#1a1a1a">10</text>
<line x1="376.30" y1="38.79" x2="378.50" y2="38.79" stroke="#333" stroke-width="0.5" />
<text x="374.10" y="40.19" font-size="3.9" text-anchor="end" font-weight="bold" fill="#1a1a1a" letter-spacing="-0.2">200</text>
<line x1="376.30" y1="47.47" x2="378.50" y2="47.47" stroke="#333" stroke-width="0.5" />
<text x="374.10" y="48.87" font-size="3.9" text-anchor="end" font-weight="bold" fill="#1a1a1a" letter-spacing="-0.2">100</text>
<line x1="376.30" y1="56.15" x2="378.50" y2="56.15" stroke="#333" stroke-width="0.5" />
<text x="374.10" y="57.55" font-size="3.9" text-anchor="end" font-weight="bold" fill="#1a1a1a" letter-spacing="-0.2">30</text>
<line x1="376.30" y1="64.83" x2="378.50" y2="64.83" stroke="#333" stroke-width="0.5" />
<text x="374.10" y="66.23" font-size="3.9" text-anchor="end" font-weight="bold" fill="#1a1a1a" letter-spacing="-0.2">10</text>
<line x1="376.30" y1="73.51" x2="378.50" y2="73.51" stroke="#333" stroke-width="0.5" />
<text x="374.10" y="74.91" font-size="3.9" text-anchor="end" font-weight="bold" fill="#1a1a1a" letter-spacing="-0.2">3</text>
<line x1="376.30" y1="82.19" x2="378.50" y2="82.19" stroke="#333" stroke-width="0.5" />
<text x="374.10" y="83.59" font-size="3.9" text-anchor="end" font-weight="bold" fill="#1a1a1a" letter-spacing="-0.2">1</text>
<line x1="376.30" y1="90.87" x2="378.50" y2="90.87" stroke="#333" stroke-width="0.5" />
<text x="374.10" y="92.27" font-size="3.9" text-anchor="end" font-weight="bold" fill="#1a1a1a" letter-spacing="-0.2">0.3</text>
<line x1="376.30" y1="99.55" x2="378.50" y2="99.55" stroke="#333" stroke-width="0.5" />
<text x="374.10" y="100.95" font-size="3.9" text-anchor="end" font-weight="bold" fill="#1a1a1a" letter-spacing="-0.2">0.1</text>
<line x1="376.30" y1="108.23" x2="378.50" y2="108.23" stroke="#333" stroke-width="0.5" />
<text x="374.10" y="109.63" font-size="3.9" text-anchor="end" font-weight="bold" fill="#1a1a1a" letter-spacing="-0.2">0.03</text>
<line x1="376.30" y1="116.91" x2="378.50" y2="116.91" stroke="#333" stroke-width="0.5" />
<text x="374.10" y="118.31" font-size="3.9" text-anchor="end" font-weight="bold" fill="#1a1a1a" letter-spacing="-0.2">0</text>
<g>
<rect x="443.10" y="34.45" width="9.48" height="9.28" fill="#262a87"/>
<rect x="451.98" y="34.45" width="9.48" height="9.28" fill="#282e8d"/>
<rect x="460.86" y="34.45" width="9.48" height="9.28" fill="#262986"/>
<rect x="469.74" y="34.45" width="9.48" height="9.28" fill="#262a87"/>
<rect x="478.62" y="34.45" width="9.48" height="9.28" fill="#252984"/>
<rect x="487.50" y="34.45" width="9.48" height="9.28" fill="#252984"/>
<rect x="496.38" y="34.45" width="8.88" height="9.28" fill="#262986"/>
<rect x="443.10" y="43.13" width="9.48" height="9.28" fill="#262a87"/>
<rect x="451.98" y="43.13" width="9.48" height="9.28" fill="#252984"/>
<rect x="460.86" y="43.13" width="9.48" height="9.28" fill="#242882"/>
<rect x="469.74" y="43.13" width="9.48" height="9.28" fill="#262a87"/>
<rect x="478.62" y="43.13" width="9.48" height="9.28" fill="#242883"/>
<rect x="487.50" y="43.13" width="9.48" height="9.28" fill="#242883"/>
<rect x="496.38" y="43.13" width="8.88" height="9.28" fill="#262a87"/>
<rect x="443.10" y="51.81" width="9.48" height="9.28" fill="#262a87"/>
<rect x="451.98" y="51.81" width="9.48" height="9.28" fill="#262a87"/>
<rect x="460.86" y="51.81" width="9.48" height="9.28" fill="#262a87"/>
<rect x="469.74" y="51.81" width="9.48" height="9.28" fill="#2a3394"/>
<rect x="478.62" y="51.81" width="9.48" height="9.28" fill="#2d3ca0"/>
<rect x="487.50" y="51.81" width="9.48" height="9.28" fill="#2b389a"/>
<rect x="496.38" y="51.81" width="8.88" height="9.28" fill="#2f44a8"/>
<rect x="443.10" y="60.49" width="9.48" height="9.28" fill="#262a87"/>
<rect x="451.98" y="60.49" width="9.48" height="9.28" fill="#242883"/>
<rect x="460.86" y="60.49" width="9.48" height="9.28" fill="#252984"/>
<rect x="469.74" y="60.49" width="9.48" height="9.28" fill="#282e8d"/>
<rect x="478.62" y="60.49" width="9.48" height="9.28" fill="#22267e"/>
<rect x="487.50" y="60.49" width="9.48" height="9.28" fill="#2d3ca0"/>
<rect x="496.38" y="60.49" width="8.88" height="9.28" fill="#3255b9"/>
<rect x="443.10" y="69.17" width="9.48" height="9.28" fill="#262a87"/>
<rect x="451.98" y="69.17" width="9.48" height="9.28" fill="#252984"/>
<rect x="460.86" y="69.17" width="9.48" height="9.28" fill="#252984"/>
<rect x="469.74" y="69.17" width="9.48" height="9.28" fill="#262a87"/>
<rect x="478.62" y="69.17" width="9.48" height="9.28" fill="#262a87"/>
<rect x="487.50" y="69.17" width="9.48" height="9.28" fill="#2a3394"/>
<rect x="496.38" y="69.17" width="8.88" height="9.28" fill="#282e8d"/>
<rect x="443.10" y="77.85" width="9.48" height="9.28" fill="#262a87"/>
<rect x="451.98" y="77.85" width="9.48" height="9.28" fill="#2a3394"/>
<rect x="460.86" y="77.85" width="9.48" height="9.28" fill="#282e8d"/>
<rect x="469.74" y="77.85" width="9.48" height="9.28" fill="#2b389a"/>
<rect x="478.62" y="77.85" width="9.48" height="9.28" fill="#2b389a"/>
<rect x="487.50" y="77.85" width="9.48" height="9.28" fill="#2d3ca0"/>
<rect x="496.38" y="77.85" width="8.88" height="9.28" fill="#304db1"/>
<rect x="443.10" y="86.53" width="9.48" height="9.28" fill="#262a87"/>
<rect x="451.98" y="86.53" width="9.48" height="9.28" fill="#252984"/>
<rect x="460.86" y="86.53" width="9.48" height="9.28" fill="#2d3ca0"/>
<rect x="469.74" y="86.53" width="9.48" height="9.28" fill="#262a87"/>
<rect x="478.62" y="86.53" width="9.48" height="9.28" fill="#4bbee1"/>
<rect x="487.50" y="86.53" width="9.48" height="9.28" fill="#78cdaa"/>
<rect x="496.38" y="86.53" width="8.88" height="9.28" fill="#8ed28e"/>
<rect x="443.10" y="95.21" width="9.48" height="9.28" fill="#262a87"/>
<rect x="451.98" y="95.21" width="9.48" height="9.28" fill="#252984"/>
<rect x="460.86" y="95.21" width="9.48" height="9.28" fill="#282e8d"/>
<rect x="469.74" y="95.21" width="9.48" height="9.28" fill="#242882"/>
<rect x="478.62" y="95.21" width="9.48" height="9.28" fill="#378cd7"/>
<rect x="487.50" y="95.21" width="9.48" height="9.28" fill="#62c6c6"/>
<rect x="496.38" y="95.21" width="8.88" height="9.28" fill="#f5e128"/>
<rect x="443.10" y="103.89" width="9.48" height="9.28" fill="#262a87"/>
<rect x="451.98" y="103.89" width="9.48" height="9.28" fill="#23267f"/>
<rect x="460.86" y="103.89" width="9.48" height="9.28" fill="#242780"/>
<rect x="469.74" y="103.89" width="9.48" height="9.28" fill="#262986"/>
<rect x="478.62" y="103.89" width="9.48" height="9.28" fill="#3470c8"/>
<rect x="487.50" y="103.89" width="9.48" height="9.28" fill="#8ed28e"/>
<rect x="496.38" y="103.89" width="8.88" height="9.28" fill="#f06e23"/>
<rect x="443.10" y="112.57" width="9.48" height="8.68" fill="#262a87"/>
<rect x="451.98" y="112.57" width="9.48" height="8.68" fill="#262a87"/>
<rect x="460.86" y="112.57" width="9.48" height="8.68" fill="#262a87"/>
<rect x="469.74" y="112.57" width="9.48" height="8.68" fill="#262a87"/>
<rect x="478.62" y="112.57" width="9.48" height="8.68" fill="#262a87"/>
<rect x="487.50" y="112.57" width="9.48" height="8.68" fill="#262a87"/>
<rect x="496.38" y="112.57" width="8.88" height="8.68" fill="#262a87"/>
<text x="447.5" y="40.3" class="w">0</text>
<text x="456.4" y="40.3" class="w">1</text>
<text x="465.3" y="40.3" class="w">–1</text>
<text x="474.2" y="40.3" class="w">0</text>
<text x="483.1" y="40.3" class="w">–2</text>
<text x="491.9" y="40.3" class="w">–2</text>
<text x="500.8" y="40.3" class="w">–1</text>
<text x="447.5" y="49.0" class="w">0</text>
<text x="456.4" y="49.0" class="w">–2</text>
<text x="465.3" y="49.0" class="w">–4</text>
<text x="474.2" y="49.0" class="w">0</text>
<text x="483.1" y="49.0" class="w">–3</text>
<text x="491.9" y="49.0" class="w">–3</text>
<text x="500.8" y="49.0" class="w">0</text>
<text x="447.5" y="57.7" class="w">0</text>
<text x="456.4" y="57.7" class="w">0</text>
<text x="465.3" y="57.7" class="w">0</text>
<text x="474.2" y="57.7" class="w">2</text>
<text x="483.1" y="57.7" class="w">4</text>
<text x="491.9" y="57.7" class="w">3</text>
<text x="500.8" y="57.7" class="w">5</text>
<text x="447.5" y="66.3" class="w">0</text>
<text x="456.4" y="66.3" class="w">–3</text>
<text x="465.3" y="66.3" class="w">–2</text>
<text x="474.2" y="66.3" class="w">1</text>
<text x="483.1" y="66.3" class="w">–7</text>
<text x="491.9" y="66.3" class="w">4</text>
<text x="500.8" y="66.3" class="w">7</text>
<text x="447.5" y="75.0" class="w">0</text>
<text x="456.4" y="75.0" class="w">–2</text>
<text x="465.3" y="75.0" class="w">–2</text>
<text x="474.2" y="75.0" class="w">0</text>
<text x="483.1" y="75.0" class="w">0</text>
<text x="491.9" y="75.0" class="w">2</text>
<text x="500.8" y="75.0" class="w">1</text>
<text x="447.5" y="83.7" class="w">0</text>
<text x="456.4" y="83.7" class="w">2</text>
<text x="465.3" y="83.7" class="w">1</text>
<text x="474.2" y="83.7" class="w">3</text>
<text x="483.1" y="83.7" class="w">3</text>
<text x="491.9" y="83.7" class="w">4</text>
<text x="500.8" y="83.7" class="w">6</text>
<text x="447.5" y="92.4" class="w">0</text>
<text x="456.4" y="92.4" class="w">–2</text>
<text x="465.3" y="92.4" class="w">4</text>
<text x="474.2" y="92.4" class="w">0</text>
<text x="483.1" y="92.4" class="k">11</text>
<text x="491.9" y="92.4" class="k">13</text>
<text x="500.8" y="92.4" class="k">14</text>
<text x="447.5" y="101.1" class="w">0</text>
<text x="456.4" y="101.1" class="w">–2</text>
<text x="465.3" y="101.1" class="w">1</text>
<text x="474.2" y="101.1" class="w">–4</text>
<text x="483.1" y="101.1" class="w">9</text>
<text x="491.9" y="101.1" class="k">12</text>
<text x="500.8" y="101.1" class="k">19</text>
<text x="447.5" y="109.7" class="w">0</text>
<text x="456.4" y="109.7" class="w">–6</text>
<text x="465.3" y="109.7" class="w">–5</text>
<text x="474.2" y="109.7" class="w">–1</text>
<text x="483.1" y="109.7" class="w">8</text>
<text x="491.9" y="109.7" class="k">14</text>
<text x="500.8" y="109.7" class="k">23</text>
<text x="447.5" y="118.4" class="w">0</text>
<text x="456.4" y="118.4" class="w">0</text>
<text x="465.3" y="118.4" class="w">0</text>
<text x="474.2" y="118.4" class="w">0</text>
<text x="483.1" y="118.4" class="w">0</text>
<text x="491.9" y="118.4" class="w">0</text>
<text x="500.8" y="118.4" class="w">0</text>
</g>
<line x1="447.54" y1="121.25" x2="447.54" y2="123.05" stroke="#333" stroke-width="0.5" />
<text transform="translate(448.94,125.45) rotate(-90)" font-size="3.8" font-weight="bold" letter-spacing="-0.2" text-anchor="end" fill="#1a1a1a">0</text>
<line x1="456.42" y1="121.25" x2="456.42" y2="123.05" stroke="#333" stroke-width="0.5" />
<text transform="translate(457.82,125.45) rotate(-90)" font-size="3.8" font-weight="bold" letter-spacing="-0.2" text-anchor="end" fill="#1a1a1a">0.03</text>
<line x1="465.30" y1="121.25" x2="465.30" y2="123.05" stroke="#333" stroke-width="0.5" />
<text transform="translate(466.70,125.45) rotate(-90)" font-size="3.8" font-weight="bold" letter-spacing="-0.2" text-anchor="end" fill="#1a1a1a">0.1</text>
<line x1="474.18" y1="121.25" x2="474.18" y2="123.05" stroke="#333" stroke-width="0.5" />
<text transform="translate(475.58,125.45) rotate(-90)" font-size="3.8" font-weight="bold" letter-spacing="-0.2" text-anchor="end" fill="#1a1a1a">0.3</text>
<line x1="483.06" y1="121.25" x2="483.06" y2="123.05" stroke="#333" stroke-width="0.5" />
<text transform="translate(484.46,125.45) rotate(-90)" font-size="3.8" font-weight="bold" letter-spacing="-0.2" text-anchor="end" fill="#1a1a1a">1</text>
<line x1="491.94" y1="121.25" x2="491.94" y2="123.05" stroke="#333" stroke-width="0.5" />
<text transform="translate(493.34,125.45) rotate(-90)" font-size="3.8" font-weight="bold" letter-spacing="-0.2" text-anchor="end" fill="#1a1a1a">3</text>
<line x1="500.82" y1="121.25" x2="500.82" y2="123.05" stroke="#333" stroke-width="0.5" />
<text transform="translate(502.22,125.45) rotate(-90)" font-size="3.8" font-weight="bold" letter-spacing="-0.2" text-anchor="end" fill="#1a1a1a">10</text>
<g>
<rect x="238.00" y="136.00" width="9.58" height="9.28" fill="#d01c2c"/>
<rect x="246.98" y="136.00" width="9.58" height="9.28" fill="#d01c2c"/>
<rect x="255.96" y="136.00" width="9.58" height="9.28" fill="#d01c2c"/>
<rect x="264.94" y="136.00" width="9.58" height="9.28" fill="#d01c2c"/>
<rect x="273.92" y="136.00" width="9.58" height="9.28" fill="#d01c2c"/>
<rect x="282.90" y="136.00" width="9.58" height="9.28" fill="#d01c2c"/>
<rect x="291.88" y="136.00" width="8.98" height="9.28" fill="#d01c2c"/>
<rect x="238.00" y="144.68" width="9.58" height="9.28" fill="#d31e2a"/>
<rect x="246.98" y="144.68" width="9.58" height="9.28" fill="#d21d2b"/>
<rect x="255.96" y="144.68" width="9.58" height="9.28" fill="#d41e2a"/>
<rect x="264.94" y="144.68" width="9.58" height="9.28" fill="#d62029"/>
<rect x="273.92" y="144.68" width="9.58" height="9.28" fill="#d62029"/>
<rect x="282.90" y="144.68" width="9.58" height="9.28" fill="#d62029"/>
<rect x="291.88" y="144.68" width="8.98" height="9.28" fill="#d01c2c"/>
<rect x="238.00" y="153.36" width="9.58" height="9.28" fill="#e43223"/>
<rect x="246.98" y="153.36" width="9.58" height="9.28" fill="#d92228"/>
<rect x="255.96" y="153.36" width="9.58" height="9.28" fill="#ef7a25"/>
<rect x="264.94" y="153.36" width="9.58" height="9.28" fill="#e63823"/>
<rect x="273.92" y="153.36" width="9.58" height="9.28" fill="#e43223"/>
<rect x="282.90" y="153.36" width="9.58" height="9.28" fill="#de2626"/>
<rect x="291.88" y="153.36" width="8.98" height="9.28" fill="#d11c2c"/>
<rect x="238.00" y="162.04" width="9.58" height="9.28" fill="#eee031"/>
<rect x="246.98" y="162.04" width="9.58" height="9.28" fill="#f19026"/>
<rect x="255.96" y="162.04" width="9.58" height="9.28" fill="#f19026"/>
<rect x="264.94" y="162.04" width="9.58" height="9.28" fill="#ed5624"/>
<rect x="273.92" y="162.04" width="9.58" height="9.28" fill="#e22e24"/>
<rect x="282.90" y="162.04" width="9.58" height="9.28" fill="#e43223"/>
<rect x="291.88" y="162.04" width="8.98" height="9.28" fill="#d41e2a"/>
<rect x="238.00" y="170.72" width="9.58" height="9.28" fill="#3a7ed1"/>
<rect x="246.98" y="170.72" width="9.58" height="9.28" fill="#3664c4"/>
<rect x="255.96" y="170.72" width="9.58" height="9.28" fill="#365fc0"/>
<rect x="264.94" y="170.72" width="9.58" height="9.28" fill="#4bc3dc"/>
<rect x="273.92" y="170.72" width="9.58" height="9.28" fill="#c6da4b"/>
<rect x="282.90" y="170.72" width="9.58" height="9.28" fill="#e6de34"/>
<rect x="291.88" y="170.72" width="8.98" height="9.28" fill="#d62029"/>
<rect x="238.00" y="179.40" width="9.58" height="9.28" fill="#3144a8"/>
<rect x="246.98" y="179.40" width="9.58" height="9.28" fill="#272c89"/>
<rect x="255.96" y="179.40" width="9.58" height="9.28" fill="#262a87"/>
<rect x="264.94" y="179.40" width="9.58" height="9.28" fill="#272c89"/>
<rect x="273.92" y="179.40" width="9.58" height="9.28" fill="#282f8d"/>
<rect x="282.90" y="179.40" width="9.58" height="9.28" fill="#3041a5"/>
<rect x="291.88" y="179.40" width="8.98" height="9.28" fill="#85d18a"/>
<rect x="238.00" y="188.08" width="9.58" height="9.28" fill="#282f8d"/>
<rect x="246.98" y="188.08" width="9.58" height="9.28" fill="#272c89"/>
<rect x="255.96" y="188.08" width="9.58" height="9.28" fill="#262a87"/>
<rect x="264.94" y="188.08" width="9.58" height="9.28" fill="#272c89"/>
<rect x="273.92" y="188.08" width="9.58" height="9.28" fill="#282d8b"/>
<rect x="282.90" y="188.08" width="9.58" height="9.28" fill="#3144a8"/>
<rect x="291.88" y="188.08" width="8.98" height="9.28" fill="#6bcea8"/>
<rect x="238.00" y="196.76" width="9.58" height="9.28" fill="#262a87"/>
<rect x="246.98" y="196.76" width="9.58" height="9.28" fill="#272c89"/>
<rect x="255.96" y="196.76" width="9.58" height="9.28" fill="#262a87"/>
<rect x="264.94" y="196.76" width="9.58" height="9.28" fill="#262a87"/>
<rect x="273.92" y="196.76" width="9.58" height="9.28" fill="#282d8b"/>
<rect x="282.90" y="196.76" width="9.58" height="9.28" fill="#2e3b9d"/>
<rect x="291.88" y="196.76" width="8.98" height="9.28" fill="#64cdaf"/>
<rect x="238.00" y="205.44" width="9.58" height="9.28" fill="#262a87"/>
<rect x="246.98" y="205.44" width="9.58" height="9.28" fill="#262a87"/>
<rect x="255.96" y="205.44" width="9.58" height="9.28" fill="#262a87"/>
<rect x="264.94" y="205.44" width="9.58" height="9.28" fill="#262a87"/>
<rect x="273.92" y="205.44" width="9.58" height="9.28" fill="#262a87"/>
<rect x="282.90" y="205.44" width="9.58" height="9.28" fill="#3144a8"/>
<rect x="291.88" y="205.44" width="8.98" height="9.28" fill="#4bc3dc"/>
<rect x="238.00" y="214.12" width="9.58" height="8.68" fill="#262a87"/>
<rect x="246.98" y="214.12" width="9.58" height="8.68" fill="#272c89"/>
<rect x="255.96" y="214.12" width="9.58" height="8.68" fill="#282d8b"/>
<rect x="264.94" y="214.12" width="9.58" height="8.68" fill="#282f8d"/>
<rect x="273.92" y="214.12" width="9.58" height="8.68" fill="#3041a5"/>
<rect x="282.90" y="214.12" width="9.58" height="8.68" fill="#334db1"/>
<rect x="291.88" y="214.12" width="8.98" height="8.68" fill="#3a7ed1"/>
<text x="242.5" y="141.8" class="w">93</text>
<text x="251.5" y="141.8" class="w">93</text>
<text x="260.4" y="141.8" class="w">93</text>
<text x="269.4" y="141.8" class="w">93</text>
<text x="278.4" y="141.8" class="w">93</text>
<text x="287.4" y="141.8" class="w">94</text>
<text x="296.4" y="141.8" class="w">95</text>
<text x="242.5" y="150.5" class="w">89</text>
<text x="251.5" y="150.5" class="w">90</text>
<text x="260.4" y="150.5" class="w">88</text>
<text x="269.4" y="150.5" class="w">87</text>
<text x="278.4" y="150.5" class="w">87</text>
<text x="287.4" y="150.5" class="w">87</text>
<text x="296.4" y="150.5" class="w">92</text>
<text x="242.5" y="159.2" class="k">81</text>
<text x="251.5" y="159.2" class="w">86</text>
<text x="260.4" y="159.2" class="k">73</text>
<text x="269.4" y="159.2" class="k">80</text>
<text x="278.4" y="159.2" class="k">81</text>
<text x="287.4" y="159.2" class="w">84</text>
<text x="296.4" y="159.2" class="w">91</text>
<text x="242.5" y="167.9" class="k">59</text>
<text x="251.5" y="167.9" class="k">71</text>
<text x="260.4" y="167.9" class="k">71</text>
<text x="269.4" y="167.9" class="k">76</text>
<text x="278.4" y="167.9" class="k">82</text>
<text x="287.4" y="167.9" class="k">81</text>
<text x="296.4" y="167.9" class="w">88</text>
<text x="242.5" y="176.6" class="w">23</text>
<text x="251.5" y="176.6" class="w">19</text>
<text x="260.4" y="176.6" class="w">18</text>
<text x="269.4" y="176.6" class="k">36</text>
<text x="278.4" y="176.6" class="k">54</text>
<text x="287.4" y="176.6" class="k">58</text>
<text x="296.4" y="176.6" class="w">87</text>
<text x="242.5" y="185.2" class="w">11</text>
<text x="251.5" y="185.2" class="w">1</text>
<text x="260.4" y="185.2" class="w">0</text>
<text x="269.4" y="185.2" class="w">1</text>
<text x="278.4" y="185.2" class="w">3</text>
<text x="287.4" y="185.2" class="w">10</text>
<text x="296.4" y="185.2" class="k">46</text>
<text x="242.5" y="193.9" class="w">3</text>
<text x="251.5" y="193.9" class="w">1</text>
<text x="260.4" y="193.9" class="w">0</text>
<text x="269.4" y="193.9" class="w">1</text>
<text x="278.4" y="193.9" class="w">2</text>
<text x="287.4" y="193.9" class="w">11</text>
<text x="296.4" y="193.9" class="k">42</text>
<text x="242.5" y="202.6" class="w">0</text>
<text x="251.5" y="202.6" class="w">1</text>
<text x="260.4" y="202.6" class="w">0</text>
<text x="269.4" y="202.6" class="w">0</text>
<text x="278.4" y="202.6" class="w">2</text>
<text x="287.4" y="202.6" class="w">8</text>
<text x="296.4" y="202.6" class="k">41</text>
<text x="242.5" y="211.3" class="w">0</text>
<text x="251.5" y="211.3" class="w">0</text>
<text x="260.4" y="211.3" class="w">0</text>
<text x="269.4" y="211.3" class="w">0</text>
<text x="278.4" y="211.3" class="w">0</text>
<text x="287.4" y="211.3" class="w">11</text>
<text x="296.4" y="211.3" class="k">36</text>
<text x="242.5" y="220.0" class="w">0</text>
<text x="251.5" y="220.0" class="w">1</text>
<text x="260.4" y="220.0" class="w">2</text>
<text x="269.4" y="220.0" class="w">3</text>
<text x="278.4" y="220.0" class="w">10</text>
<text x="287.4" y="220.0" class="w">14</text>
<text x="296.4" y="220.0" class="w">23</text>
</g>
<line x1="242.49" y1="222.80" x2="242.49" y2="224.60" stroke="#333" stroke-width="0.5" />
<text transform="translate(243.89,227.00) rotate(-90)" font-size="3.8" font-weight="bold" letter-spacing="-0.2" text-anchor="end" fill="#1a1a1a">0</text>
<line x1="251.47" y1="222.80" x2="251.47" y2="224.60" stroke="#333" stroke-width="0.5" />
<text transform="translate(252.87,227.00) rotate(-90)" font-size="3.8" font-weight="bold" letter-spacing="-0.2" text-anchor="end" fill="#1a1a1a">0.03</text>
<line x1="260.45" y1="222.80" x2="260.45" y2="224.60" stroke="#333" stroke-width="0.5" />
<text transform="translate(261.85,227.00) rotate(-90)" font-size="3.8" font-weight="bold" letter-spacing="-0.2" text-anchor="end" fill="#1a1a1a">0.1</text>
<line x1="269.43" y1="222.80" x2="269.43" y2="224.60" stroke="#333" stroke-width="0.5" />
<text transform="translate(270.83,227.00) rotate(-90)" font-size="3.8" font-weight="bold" letter-spacing="-0.2" text-anchor="end" fill="#1a1a1a">0.3</text>
<line x1="278.41" y1="222.80" x2="278.41" y2="224.60" stroke="#333" stroke-width="0.5" />
<text transform="translate(279.81,227.00) rotate(-90)" font-size="3.8" font-weight="bold" letter-spacing="-0.2" text-anchor="end" fill="#1a1a1a">1</text>
<line x1="287.39" y1="222.80" x2="287.39" y2="224.60" stroke="#333" stroke-width="0.5" />
<text transform="translate(288.79,227.00) rotate(-90)" font-size="3.8" font-weight="bold" letter-spacing="-0.2" text-anchor="end" fill="#1a1a1a">3</text>
<line x1="296.37" y1="222.80" x2="296.37" y2="224.60" stroke="#333" stroke-width="0.5" />
<text transform="translate(297.77,227.00) rotate(-90)" font-size="3.8" font-weight="bold" letter-spacing="-0.2" text-anchor="end" fill="#1a1a1a">10</text>
<line x1="235.80" y1="140.34" x2="238.00" y2="140.34" stroke="#333" stroke-width="0.5" />
<text x="233.60" y="141.74" font-size="3.9" text-anchor="end" font-weight="bold" fill="#1a1a1a" letter-spacing="-0.2">10</text>
<line x1="235.80" y1="149.02" x2="238.00" y2="149.02" stroke="#333" stroke-width="0.5" />
<text x="233.60" y="150.42" font-size="3.9" text-anchor="end" font-weight="bold" fill="#1a1a1a" letter-spacing="-0.2">3</text>
<line x1="235.80" y1="157.70" x2="238.00" y2="157.70" stroke="#333" stroke-width="0.5" />
<text x="233.60" y="159.10" font-size="3.9" text-anchor="end" font-weight="bold" fill="#1a1a1a" letter-spacing="-0.2">1</text>
<line x1="235.80" y1="166.38" x2="238.00" y2="166.38" stroke="#333" stroke-width="0.5" />
<text x="233.60" y="167.78" font-size="3.9" text-anchor="end" font-weight="bold" fill="#1a1a1a" letter-spacing="-0.2">0.3</text>
<line x1="235.80" y1="175.06" x2="238.00" y2="175.06" stroke="#333" stroke-width="0.5" />
<text x="233.60" y="176.46" font-size="3.9" text-anchor="end" font-weight="bold" fill="#1a1a1a" letter-spacing="-0.2">0.1</text>
<line x1="235.80" y1="183.74" x2="238.00" y2="183.74" stroke="#333" stroke-width="0.5" />
<text x="233.60" y="185.14" font-size="3.9" text-anchor="end" font-weight="bold" fill="#1a1a1a" letter-spacing="-0.2">0.03</text>
<line x1="235.80" y1="192.42" x2="238.00" y2="192.42" stroke="#333" stroke-width="0.5" />
<text x="233.60" y="193.82" font-size="3.9" text-anchor="end" font-weight="bold" fill="#1a1a1a" letter-spacing="-0.2">0.01</text>
<line x1="235.80" y1="201.10" x2="238.00" y2="201.10" stroke="#333" stroke-width="0.5" />
<text x="233.60" y="202.50" font-size="3.9" text-anchor="end" font-weight="bold" fill="#1a1a1a" letter-spacing="-0.2">0.003</text>
<line x1="235.80" y1="209.78" x2="238.00" y2="209.78" stroke="#333" stroke-width="0.5" />
<text x="233.60" y="211.18" font-size="3.9" text-anchor="end" font-weight="bold" fill="#1a1a1a" letter-spacing="-0.2">0.001</text>
<line x1="235.80" y1="218.46" x2="238.00" y2="218.46" stroke="#333" stroke-width="0.5" />
<text x="233.60" y="219.86" font-size="3.9" text-anchor="end" font-weight="bold" fill="#1a1a1a" letter-spacing="-0.2">0</text>
<g>
<rect x="303.00" y="136.00" width="9.60" height="9.28" fill="#262a87"/>
<rect x="312.00" y="136.00" width="9.60" height="9.28" fill="#262a87"/>
<rect x="321.00" y="136.00" width="9.60" height="9.28" fill="#262a87"/>
<rect x="330.00" y="136.00" width="9.60" height="9.28" fill="#262a87"/>
<rect x="339.00" y="136.00" width="9.60" height="9.28" fill="#262a87"/>
<rect x="348.00" y="136.00" width="9.60" height="9.28" fill="#262a87"/>
<rect x="357.00" y="136.00" width="9.00" height="9.28" fill="#262a87"/>
<rect x="303.00" y="144.68" width="9.60" height="9.28" fill="#262a87"/>
<rect x="312.00" y="144.68" width="9.60" height="9.28" fill="#252984"/>
<rect x="321.00" y="144.68" width="9.60" height="9.28" fill="#252984"/>
<rect x="330.00" y="144.68" width="9.60" height="9.28" fill="#262a87"/>
<rect x="339.00" y="144.68" width="9.60" height="9.28" fill="#262986"/>
<rect x="348.00" y="144.68" width="9.60" height="9.28" fill="#262986"/>
<rect x="357.00" y="144.68" width="9.00" height="9.28" fill="#2a3394"/>
<rect x="303.00" y="153.36" width="9.60" height="9.28" fill="#262a87"/>
<rect x="312.00" y="153.36" width="9.60" height="9.28" fill="#262986"/>
<rect x="321.00" y="153.36" width="9.60" height="9.28" fill="#22267e"/>
<rect x="330.00" y="153.36" width="9.60" height="9.28" fill="#262986"/>
<rect x="339.00" y="153.36" width="9.60" height="9.28" fill="#262a87"/>
<rect x="348.00" y="153.36" width="9.60" height="9.28" fill="#282e8d"/>
<rect x="357.00" y="153.36" width="9.00" height="9.28" fill="#304db1"/>
<rect x="303.00" y="162.04" width="9.60" height="9.28" fill="#262a87"/>
<rect x="312.00" y="162.04" width="9.60" height="9.28" fill="#4bbee1"/>
<rect x="321.00" y="162.04" width="9.60" height="9.28" fill="#4bbee1"/>
<rect x="330.00" y="162.04" width="9.60" height="9.28" fill="#bcda58"/>
<rect x="339.00" y="162.04" width="9.60" height="9.28" fill="#f5e128"/>
<rect x="348.00" y="162.04" width="9.60" height="9.28" fill="#f5e128"/>
<rect x="357.00" y="162.04" width="9.00" height="9.28" fill="#f5c628"/>
<rect x="303.00" y="170.72" width="9.60" height="9.28" fill="#262a87"/>
<rect x="312.00" y="170.72" width="9.60" height="9.28" fill="#21247a"/>
<rect x="321.00" y="170.72" width="9.60" height="9.28" fill="#21247a"/>
<rect x="330.00" y="170.72" width="9.60" height="9.28" fill="#2f44a8"/>
<rect x="339.00" y="170.72" width="9.60" height="9.28" fill="#f5e128"/>
<rect x="348.00" y="170.72" width="9.60" height="9.28" fill="#a9181d"/>
<rect x="357.00" y="170.72" width="9.00" height="9.28" fill="#871419"/>
<rect x="303.00" y="179.40" width="9.60" height="9.28" fill="#262a87"/>
<rect x="312.00" y="179.40" width="9.60" height="9.28" fill="#21247a"/>
<rect x="321.00" y="179.40" width="9.60" height="9.28" fill="#21247a"/>
<rect x="330.00" y="179.40" width="9.60" height="9.28" fill="#21247a"/>
<rect x="339.00" y="179.40" width="9.60" height="9.28" fill="#21247a"/>
<rect x="348.00" y="179.40" width="9.60" height="9.28" fill="#21247a"/>
<rect x="357.00" y="179.40" width="9.00" height="9.28" fill="#3470c8"/>
<rect x="303.00" y="188.08" width="9.60" height="9.28" fill="#262a87"/>
<rect x="312.00" y="188.08" width="9.60" height="9.28" fill="#242883"/>
<rect x="321.00" y="188.08" width="9.60" height="9.28" fill="#242883"/>
<rect x="330.00" y="188.08" width="9.60" height="9.28" fill="#242883"/>
<rect x="339.00" y="188.08" width="9.60" height="9.28" fill="#242883"/>
<rect x="348.00" y="188.08" width="9.60" height="9.28" fill="#23267f"/>
<rect x="357.00" y="188.08" width="9.00" height="9.28" fill="#d2dc3c"/>
<rect x="303.00" y="196.76" width="9.60" height="9.28" fill="#262a87"/>
<rect x="312.00" y="196.76" width="9.60" height="9.28" fill="#262a87"/>
<rect x="321.00" y="196.76" width="9.60" height="9.28" fill="#242883"/>
<rect x="330.00" y="196.76" width="9.60" height="9.28" fill="#242883"/>
<rect x="339.00" y="196.76" width="9.60" height="9.28" fill="#242883"/>
<rect x="348.00" y="196.76" width="9.60" height="9.28" fill="#242882"/>
<rect x="357.00" y="196.76" width="9.00" height="9.28" fill="#e4de32"/>
<rect x="303.00" y="205.44" width="9.60" height="9.28" fill="#262a87"/>
<rect x="312.00" y="205.44" width="9.60" height="9.28" fill="#262986"/>
<rect x="321.00" y="205.44" width="9.60" height="9.28" fill="#242883"/>
<rect x="330.00" y="205.44" width="9.60" height="9.28" fill="#252984"/>
<rect x="339.00" y="205.44" width="9.60" height="9.28" fill="#262986"/>
<rect x="348.00" y="205.44" width="9.60" height="9.28" fill="#252984"/>
<rect x="357.00" y="205.44" width="9.00" height="9.28" fill="#78cdaa"/>
<rect x="303.00" y="214.12" width="9.60" height="8.68" fill="#262a87"/>
<rect x="312.00" y="214.12" width="9.60" height="8.68" fill="#262a87"/>
<rect x="321.00" y="214.12" width="9.60" height="8.68" fill="#262a87"/>
<rect x="330.00" y="214.12" width="9.60" height="8.68" fill="#262a87"/>
<rect x="339.00" y="214.12" width="9.60" height="8.68" fill="#262a87"/>
<rect x="348.00" y="214.12" width="9.60" height="8.68" fill="#262a87"/>
<rect x="357.00" y="214.12" width="9.00" height="8.68" fill="#262a87"/>
<text x="307.5" y="141.8" class="w">0</text>
<text x="316.5" y="141.8" class="w">0</text>
<text x="325.5" y="141.8" class="w">0</text>
<text x="334.5" y="141.8" class="w">0</text>
<text x="343.5" y="141.8" class="w">0</text>
<text x="352.5" y="141.8" class="w">0</text>
<text x="361.5" y="141.8" class="w">0</text>
<text x="307.5" y="150.5" class="w">0</text>
<text x="316.5" y="150.5" class="w">–2</text>
<text x="325.5" y="150.5" class="w">–2</text>
<text x="334.5" y="150.5" class="w">0</text>
<text x="343.5" y="150.5" class="w">–1</text>
<text x="352.5" y="150.5" class="w">–1</text>
<text x="361.5" y="150.5" class="w">2</text>
<text x="307.5" y="159.2" class="w">0</text>
<text x="316.5" y="159.2" class="w">–1</text>
<text x="325.5" y="159.2" class="w">–7</text>
<text x="334.5" y="159.2" class="w">–1</text>
<text x="343.5" y="159.2" class="w">0</text>
<text x="352.5" y="159.2" class="w">1</text>
<text x="361.5" y="159.2" class="w">6</text>
<text x="307.5" y="167.9" class="w">0</text>
<text x="316.5" y="167.9" class="k">11</text>
<text x="325.5" y="167.9" class="k">11</text>
<text x="334.5" y="167.9" class="k">16</text>
<text x="343.5" y="167.9" class="k">19</text>
<text x="352.5" y="167.9" class="k">19</text>
<text x="361.5" y="167.9" class="k">20</text>
<text x="307.5" y="176.6" class="w">0</text>
<text x="316.5" y="176.6" class="w">–10</text>
<text x="325.5" y="176.6" class="w">–17</text>
<text x="334.5" y="176.6" class="w">5</text>
<text x="343.5" y="176.6" class="k">19</text>
<text x="352.5" y="176.6" class="w">30</text>
<text x="361.5" y="176.6" class="w">37</text>
<text x="307.5" y="185.2" class="w">0</text>
<text x="316.5" y="185.2" class="w">–13</text>
<text x="325.5" y="185.2" class="w">–13</text>
<text x="334.5" y="185.2" class="w">–12</text>
<text x="343.5" y="185.2" class="w">–12</text>
<text x="352.5" y="185.2" class="w">–10</text>
<text x="361.5" y="185.2" class="w">8</text>
<text x="307.5" y="193.9" class="w">0</text>
<text x="316.5" y="193.9" class="w">–3</text>
<text x="325.5" y="193.9" class="w">–3</text>
<text x="334.5" y="193.9" class="w">–3</text>
<text x="343.5" y="193.9" class="w">–3</text>
<text x="352.5" y="193.9" class="w">–6</text>
<text x="361.5" y="193.9" class="k">17</text>
<text x="307.5" y="202.6" class="w">0</text>
<text x="316.5" y="202.6" class="w">0</text>
<text x="325.5" y="202.6" class="w">–3</text>
<text x="334.5" y="202.6" class="w">–3</text>
<text x="343.5" y="202.6" class="w">–3</text>
<text x="352.5" y="202.6" class="w">–4</text>
<text x="361.5" y="202.6" class="k">18</text>
<text x="307.5" y="211.3" class="w">0</text>
<text x="316.5" y="211.3" class="w">–1</text>
<text x="325.5" y="211.3" class="w">–3</text>
<text x="334.5" y="211.3" class="w">–2</text>
<text x="343.5" y="211.3" class="w">–1</text>
<text x="352.5" y="211.3" class="w">–2</text>
<text x="361.5" y="211.3" class="k">13</text>
<text x="307.5" y="220.0" class="w">0</text>
<text x="316.5" y="220.0" class="w">0</text>
<text x="325.5" y="220.0" class="w">0</text>
<text x="334.5" y="220.0" class="w">0</text>
<text x="343.5" y="220.0" class="w">0</text>
<text x="352.5" y="220.0" class="w">0</text>
<text x="361.5" y="220.0" class="w">0</text>
</g>
<line x1="307.50" y1="222.80" x2="307.50" y2="224.60" stroke="#333" stroke-width="0.5" />
<text transform="translate(308.90,227.00) rotate(-90)" font-size="3.8" font-weight="bold" letter-spacing="-0.2" text-anchor="end" fill="#1a1a1a">0</text>
<line x1="316.50" y1="222.80" x2="316.50" y2="224.60" stroke="#333" stroke-width="0.5" />
<text transform="translate(317.90,227.00) rotate(-90)" font-size="3.8" font-weight="bold" letter-spacing="-0.2" text-anchor="end" fill="#1a1a1a">0.03</text>
<line x1="325.50" y1="222.80" x2="325.50" y2="224.60" stroke="#333" stroke-width="0.5" />
<text transform="translate(326.90,227.00) rotate(-90)" font-size="3.8" font-weight="bold" letter-spacing="-0.2" text-anchor="end" fill="#1a1a1a">0.1</text>
<line x1="334.50" y1="222.80" x2="334.50" y2="224.60" stroke="#333" stroke-width="0.5" />
<text transform="translate(335.90,227.00) rotate(-90)" font-size="3.8" font-weight="bold" letter-spacing="-0.2" text-anchor="end" fill="#1a1a1a">0.3</text>
<line x1="343.50" y1="222.80" x2="343.50" y2="224.60" stroke="#333" stroke-width="0.5" />
<text transform="translate(344.90,227.00) rotate(-90)" font-size="3.8" font-weight="bold" letter-spacing="-0.2" text-anchor="end" fill="#1a1a1a">1</text>
<line x1="352.50" y1="222.80" x2="352.50" y2="224.60" stroke="#333" stroke-width="0.5" />
<text transform="translate(353.90,227.00) rotate(-90)" font-size="3.8" font-weight="bold" letter-spacing="-0.2" text-anchor="end" fill="#1a1a1a">3</text>
<line x1="361.50" y1="222.80" x2="361.50" y2="224.60" stroke="#333" stroke-width="0.5" />
<text transform="translate(362.90,227.00) rotate(-90)" font-size="3.8" font-weight="bold" letter-spacing="-0.2" text-anchor="end" fill="#1a1a1a">10</text>
<g>
<rect x="378.50" y="136.00" width="9.52" height="9.28" fill="#ef6c25"/>
<rect x="387.42" y="136.00" width="9.52" height="9.28" fill="#d62029"/>
<rect x="396.34" y="136.00" width="9.52" height="9.28" fill="#d41e2a"/>
<rect x="405.26" y="136.00" width="9.52" height="9.28" fill="#dc2427"/>
<rect x="414.18" y="136.00" width="9.52" height="9.28" fill="#d41e2a"/>
<rect x="423.10" y="136.00" width="9.52" height="9.28" fill="#d41e2a"/>
<rect x="432.02" y="136.00" width="8.92" height="9.28" fill="#d11c2c"/>
<rect x="378.50" y="144.68" width="9.52" height="9.28" fill="#c6da4b"/>
<rect x="387.42" y="144.68" width="9.52" height="9.28" fill="#e63823"/>
<rect x="396.34" y="144.68" width="9.52" height="9.28" fill="#e83e23"/>
<rect x="405.26" y="144.68" width="9.52" height="9.28" fill="#e43223"/>
<rect x="414.18" y="144.68" width="9.52" height="9.28" fill="#e22e24"/>
<rect x="423.10" y="144.68" width="9.52" height="9.28" fill="#e22e24"/>
<rect x="432.02" y="144.68" width="8.92" height="9.28" fill="#de2626"/>
<rect x="378.50" y="153.36" width="9.52" height="9.28" fill="#40a4df"/>
<rect x="387.42" y="153.36" width="9.52" height="9.28" fill="#f5e12d"/>
<rect x="396.34" y="153.36" width="9.52" height="9.28" fill="#eee031"/>
<rect x="405.26" y="153.36" width="9.52" height="9.28" fill="#f5be28"/>
<rect x="414.18" y="153.36" width="9.52" height="9.28" fill="#f19026"/>
<rect x="423.10" y="153.36" width="9.52" height="9.28" fill="#f4a128"/>
<rect x="432.02" y="153.36" width="8.92" height="9.28" fill="#e63823"/>
<rect x="378.50" y="162.04" width="9.52" height="9.28" fill="#3c8cd7"/>
<rect x="387.42" y="162.04" width="9.52" height="9.28" fill="#5fcbb8"/>
<rect x="396.34" y="162.04" width="9.52" height="9.28" fill="#50c5d3"/>
<rect x="405.26" y="162.04" width="9.52" height="9.28" fill="#64cdaf"/>
<rect x="414.18" y="162.04" width="9.52" height="9.28" fill="#9cd472"/>
<rect x="423.10" y="162.04" width="9.52" height="9.28" fill="#eee031"/>
<rect x="432.02" y="162.04" width="8.92" height="9.28" fill="#f29827"/>
<rect x="378.50" y="170.72" width="9.52" height="9.28" fill="#3247ab"/>
<rect x="387.42" y="170.72" width="9.52" height="9.28" fill="#365fc0"/>
<rect x="396.34" y="170.72" width="9.52" height="9.28" fill="#3450b4"/>
<rect x="405.26" y="170.72" width="9.52" height="9.28" fill="#3555b8"/>
<rect x="414.18" y="170.72" width="9.52" height="9.28" fill="#3b85d4"/>
<rect x="423.10" y="170.72" width="9.52" height="9.28" fill="#46b6de"/>
<rect x="432.02" y="170.72" width="8.92" height="9.28" fill="#6bcea8"/>
<rect x="378.50" y="179.40" width="9.52" height="9.28" fill="#2a3291"/>
<rect x="387.42" y="179.40" width="9.52" height="9.28" fill="#262a87"/>
<rect x="396.34" y="179.40" width="9.52" height="9.28" fill="#262a87"/>
<rect x="405.26" y="179.40" width="9.52" height="9.28" fill="#262a87"/>
<rect x="414.18" y="179.40" width="9.52" height="9.28" fill="#2a3291"/>
<rect x="423.10" y="179.40" width="9.52" height="9.28" fill="#3247ab"/>
<rect x="432.02" y="179.40" width="8.92" height="9.28" fill="#3870cb"/>
<rect x="378.50" y="188.08" width="9.52" height="9.28" fill="#282f8d"/>
<rect x="387.42" y="188.08" width="9.52" height="9.28" fill="#262a87"/>
<rect x="396.34" y="188.08" width="9.52" height="9.28" fill="#262a87"/>
<rect x="405.26" y="188.08" width="9.52" height="9.28" fill="#262a87"/>
<rect x="414.18" y="188.08" width="9.52" height="9.28" fill="#272c89"/>
<rect x="423.10" y="188.08" width="9.52" height="9.28" fill="#3041a5"/>
<rect x="432.02" y="188.08" width="8.92" height="9.28" fill="#3769c8"/>
<rect x="378.50" y="196.76" width="9.52" height="9.28" fill="#2b3595"/>
<rect x="387.42" y="196.76" width="9.52" height="9.28" fill="#282d8b"/>
<rect x="396.34" y="196.76" width="9.52" height="9.28" fill="#262a87"/>
<rect x="405.26" y="196.76" width="9.52" height="9.28" fill="#262a87"/>
<rect x="414.18" y="196.76" width="9.52" height="9.28" fill="#29308f"/>
<rect x="423.10" y="196.76" width="9.52" height="9.28" fill="#2a3291"/>
<rect x="432.02" y="196.76" width="8.92" height="9.28" fill="#3555b8"/>
<rect x="378.50" y="205.44" width="9.52" height="9.28" fill="#262a87"/>
<rect x="387.42" y="205.44" width="9.52" height="9.28" fill="#282d8b"/>
<rect x="396.34" y="205.44" width="9.52" height="9.28" fill="#262a87"/>
<rect x="405.26" y="205.44" width="9.52" height="9.28" fill="#262a87"/>
<rect x="414.18" y="205.44" width="9.52" height="9.28" fill="#2a3291"/>
<rect x="423.10" y="205.44" width="9.52" height="9.28" fill="#3247ab"/>
<rect x="432.02" y="205.44" width="8.92" height="9.28" fill="#355abc"/>
<rect x="378.50" y="214.12" width="9.52" height="8.68" fill="#262a87"/>
<rect x="387.42" y="214.12" width="9.52" height="8.68" fill="#282f8d"/>
<rect x="396.34" y="214.12" width="9.52" height="8.68" fill="#272c89"/>
<rect x="405.26" y="214.12" width="9.52" height="8.68" fill="#262a87"/>
<rect x="414.18" y="214.12" width="9.52" height="8.68" fill="#262a87"/>
<rect x="423.10" y="214.12" width="9.52" height="8.68" fill="#282d8b"/>
<rect x="432.02" y="214.12" width="8.92" height="8.68" fill="#2e3b9d"/>
<text x="383.0" y="141.8" class="k">74</text>
<text x="391.9" y="141.8" class="w">87</text>
<text x="400.8" y="141.8" class="w">88</text>
<text x="409.7" y="141.8" class="w">85</text>
<text x="418.6" y="141.8" class="w">88</text>
<text x="427.6" y="141.8" class="w">88</text>
<text x="436.5" y="141.8" class="w">91</text>
<text x="383.0" y="150.5" class="k">54</text>
<text x="391.9" y="150.5" class="k">80</text>
<text x="400.8" y="150.5" class="k">79</text>
<text x="409.7" y="150.5" class="k">81</text>
<text x="418.6" y="150.5" class="k">82</text>
<text x="427.6" y="150.5" class="k">82</text>
<text x="436.5" y="150.5" class="w">84</text>
<text x="383.0" y="159.2" class="w">29</text>
<text x="391.9" y="159.2" class="k">60</text>
<text x="400.8" y="159.2" class="k">59</text>
<text x="409.7" y="159.2" class="k">66</text>
<text x="418.6" y="159.2" class="k">71</text>
<text x="427.6" y="159.2" class="k">69</text>
<text x="436.5" y="159.2" class="k">80</text>
<text x="383.0" y="167.9" class="w">25</text>
<text x="391.9" y="167.9" class="k">40</text>
<text x="400.8" y="167.9" class="k">37</text>
<text x="409.7" y="167.9" class="k">41</text>
<text x="418.6" y="167.9" class="k">49</text>
<text x="427.6" y="167.9" class="k">59</text>
<text x="436.5" y="167.9" class="k">70</text>
<text x="383.0" y="176.6" class="w">12</text>
<text x="391.9" y="176.6" class="w">18</text>
<text x="400.8" y="176.6" class="w">15</text>
<text x="409.7" y="176.6" class="w">16</text>
<text x="418.6" y="176.6" class="w">24</text>
<text x="427.6" y="176.6" class="w">33</text>
<text x="436.5" y="176.6" class="k">42</text>
<text x="383.0" y="185.2" class="w">5</text>
<text x="391.9" y="185.2" class="w">0</text>
<text x="400.8" y="185.2" class="w">0</text>
<text x="409.7" y="185.2" class="w">0</text>
<text x="418.6" y="185.2" class="w">5</text>
<text x="427.6" y="185.2" class="w">12</text>
<text x="436.5" y="185.2" class="w">21</text>
<text x="383.0" y="193.9" class="w">3</text>
<text x="391.9" y="193.9" class="w">0</text>
<text x="400.8" y="193.9" class="w">0</text>
<text x="409.7" y="193.9" class="w">0</text>
<text x="418.6" y="193.9" class="w">1</text>
<text x="427.6" y="193.9" class="w">10</text>
<text x="436.5" y="193.9" class="w">20</text>
<text x="383.0" y="202.6" class="w">6</text>
<text x="391.9" y="202.6" class="w">2</text>
<text x="400.8" y="202.6" class="w">0</text>
<text x="409.7" y="202.6" class="w">0</text>
<text x="418.6" y="202.6" class="w">4</text>
<text x="427.6" y="202.6" class="w">5</text>
<text x="436.5" y="202.6" class="w">16</text>
<text x="383.0" y="211.3" class="w">0</text>
<text x="391.9" y="211.3" class="w">2</text>
<text x="400.8" y="211.3" class="w">0</text>
<text x="409.7" y="211.3" class="w">0</text>
<text x="418.6" y="211.3" class="w">5</text>
<text x="427.6" y="211.3" class="w">12</text>
<text x="436.5" y="211.3" class="w">17</text>
<text x="383.0" y="220.0" class="w">0</text>
<text x="391.9" y="220.0" class="w">3</text>
<text x="400.8" y="220.0" class="w">1</text>
<text x="409.7" y="220.0" class="w">0</text>
<text x="418.6" y="220.0" class="w">0</text>
<text x="427.6" y="220.0" class="w">2</text>
<text x="436.5" y="220.0" class="w">8</text>
</g>
<line x1="382.96" y1="222.80" x2="382.96" y2="224.60" stroke="#333" stroke-width="0.5" />
<text transform="translate(384.36,227.00) rotate(-90)" font-size="3.8" font-weight="bold" letter-spacing="-0.2" text-anchor="end" fill="#1a1a1a">0</text>
<line x1="391.88" y1="222.80" x2="391.88" y2="224.60" stroke="#333" stroke-width="0.5" />
<text transform="translate(393.28,227.00) rotate(-90)" font-size="3.8" font-weight="bold" letter-spacing="-0.2" text-anchor="end" fill="#1a1a1a">0.03</text>
<line x1="400.80" y1="222.80" x2="400.80" y2="224.60" stroke="#333" stroke-width="0.5" />
<text transform="translate(402.20,227.00) rotate(-90)" font-size="3.8" font-weight="bold" letter-spacing="-0.2" text-anchor="end" fill="#1a1a1a">0.1</text>
<line x1="409.72" y1="222.80" x2="409.72" y2="224.60" stroke="#333" stroke-width="0.5" />
<text transform="translate(411.12,227.00) rotate(-90)" font-size="3.8" font-weight="bold" letter-spacing="-0.2" text-anchor="end" fill="#1a1a1a">0.3</text>
<line x1="418.64" y1="222.80" x2="418.64" y2="224.60" stroke="#333" stroke-width="0.5" />
<text transform="translate(420.04,227.00) rotate(-90)" font-size="3.8" font-weight="bold" letter-spacing="-0.2" text-anchor="end" fill="#1a1a1a">1</text>
<line x1="427.56" y1="222.80" x2="427.56" y2="224.60" stroke="#333" stroke-width="0.5" />
<text transform="translate(428.96,227.00) rotate(-90)" font-size="3.8" font-weight="bold" letter-spacing="-0.2" text-anchor="end" fill="#1a1a1a">3</text>
<line x1="436.48" y1="222.80" x2="436.48" y2="224.60" stroke="#333" stroke-width="0.5" />
<text transform="translate(437.88,227.00) rotate(-90)" font-size="3.8" font-weight="bold" letter-spacing="-0.2" text-anchor="end" fill="#1a1a1a">10</text>
<g>
<rect x="443.10" y="136.00" width="9.48" height="9.28" fill="#262a87"/>
<rect x="451.98" y="136.00" width="9.48" height="9.28" fill="#62c6c6"/>
<rect x="460.86" y="136.00" width="9.48" height="9.28" fill="#62c6c6"/>
<rect x="469.74" y="136.00" width="9.48" height="9.28" fill="#4bbee1"/>
<rect x="478.62" y="136.00" width="9.48" height="9.28" fill="#304db1"/>
<rect x="487.50" y="136.00" width="9.48" height="9.28" fill="#a5d773"/>
<rect x="496.38" y="136.00" width="8.88" height="9.28" fill="#78cdaa"/>
<rect x="443.10" y="144.68" width="9.48" height="9.28" fill="#262a87"/>
<rect x="451.98" y="144.68" width="9.48" height="9.28" fill="#e63f23"/>
<rect x="460.86" y="144.68" width="9.48" height="9.28" fill="#f5aa28"/>
<rect x="469.74" y="144.68" width="9.48" height="9.28" fill="#d22321"/>
<rect x="478.62" y="144.68" width="9.48" height="9.28" fill="#e63f23"/>
<rect x="487.50" y="144.68" width="9.48" height="9.28" fill="#d22321"/>
<rect x="496.38" y="144.68" width="8.88" height="9.28" fill="#c31e20"/>
<rect x="443.10" y="153.36" width="9.48" height="9.28" fill="#262a87"/>
<rect x="451.98" y="153.36" width="9.48" height="9.28" fill="#f5e128"/>
<rect x="460.86" y="153.36" width="9.48" height="9.28" fill="#bcda58"/>
<rect x="469.74" y="153.36" width="9.48" height="9.28" fill="#d22321"/>
<rect x="478.62" y="153.36" width="9.48" height="9.28" fill="#b4191e"/>
<rect x="487.50" y="153.36" width="9.48" height="9.28" fill="#b4191e"/>
<rect x="496.38" y="153.36" width="8.88" height="9.28" fill="#871419"/>
<rect x="443.10" y="162.04" width="9.48" height="9.28" fill="#262a87"/>
<rect x="451.98" y="162.04" width="9.48" height="9.28" fill="#bcda58"/>
<rect x="460.86" y="162.04" width="9.48" height="9.28" fill="#62c6c6"/>
<rect x="469.74" y="162.04" width="9.48" height="9.28" fill="#bcda58"/>
<rect x="478.62" y="162.04" width="9.48" height="9.28" fill="#f5c628"/>
<rect x="487.50" y="162.04" width="9.48" height="9.28" fill="#871419"/>
<rect x="496.38" y="162.04" width="8.88" height="9.28" fill="#871419"/>
<rect x="443.10" y="170.72" width="9.48" height="9.28" fill="#262a87"/>
<rect x="451.98" y="170.72" width="9.48" height="9.28" fill="#2b389a"/>
<rect x="460.86" y="170.72" width="9.48" height="9.28" fill="#2b389a"/>
<rect x="469.74" y="170.72" width="9.48" height="9.28" fill="#3255b9"/>
<rect x="478.62" y="170.72" width="9.48" height="9.28" fill="#2a3394"/>
<rect x="487.50" y="170.72" width="9.48" height="9.28" fill="#f5e128"/>
<rect x="496.38" y="170.72" width="8.88" height="9.28" fill="#f06e23"/>
<rect x="443.10" y="179.40" width="9.48" height="9.28" fill="#262a87"/>
<rect x="451.98" y="179.40" width="9.48" height="9.28" fill="#242780"/>
<rect x="460.86" y="179.40" width="9.48" height="9.28" fill="#242883"/>
<rect x="469.74" y="179.40" width="9.48" height="9.28" fill="#242883"/>
<rect x="478.62" y="179.40" width="9.48" height="9.28" fill="#242780"/>
<rect x="487.50" y="179.40" width="9.48" height="9.28" fill="#62c6c6"/>
<rect x="496.38" y="179.40" width="8.88" height="9.28" fill="#4bbee1"/>
<rect x="443.10" y="188.08" width="9.48" height="9.28" fill="#262a87"/>
<rect x="451.98" y="188.08" width="9.48" height="9.28" fill="#242780"/>
<rect x="460.86" y="188.08" width="9.48" height="9.28" fill="#242883"/>
<rect x="469.74" y="188.08" width="9.48" height="9.28" fill="#242883"/>
<rect x="478.62" y="188.08" width="9.48" height="9.28" fill="#23267f"/>
<rect x="487.50" y="188.08" width="9.48" height="9.28" fill="#304db1"/>
<rect x="496.38" y="188.08" width="8.88" height="9.28" fill="#378cd7"/>
<rect x="443.10" y="196.76" width="9.48" height="9.28" fill="#262a87"/>
<rect x="451.98" y="196.76" width="9.48" height="9.28" fill="#22267e"/>
<rect x="460.86" y="196.76" width="9.48" height="9.28" fill="#22267e"/>
<rect x="469.74" y="196.76" width="9.48" height="9.28" fill="#22267e"/>
<rect x="478.62" y="196.76" width="9.48" height="9.28" fill="#242882"/>
<rect x="487.50" y="196.76" width="9.48" height="9.28" fill="#242883"/>
<rect x="496.38" y="196.76" width="8.88" height="9.28" fill="#2d3ca0"/>
<rect x="443.10" y="205.44" width="9.48" height="9.28" fill="#262a87"/>
<rect x="451.98" y="205.44" width="9.48" height="9.28" fill="#22267e"/>
<rect x="460.86" y="205.44" width="9.48" height="9.28" fill="#22267e"/>
<rect x="469.74" y="205.44" width="9.48" height="9.28" fill="#22267e"/>
<rect x="478.62" y="205.44" width="9.48" height="9.28" fill="#22267e"/>
<rect x="487.50" y="205.44" width="9.48" height="9.28" fill="#2f44a8"/>
<rect x="496.38" y="205.44" width="8.88" height="9.28" fill="#2a3394"/>
<rect x="443.10" y="214.12" width="9.48" height="8.68" fill="#262a87"/>
<rect x="451.98" y="214.12" width="9.48" height="8.68" fill="#262a87"/>
<rect x="460.86" y="214.12" width="9.48" height="8.68" fill="#262a87"/>
<rect x="469.74" y="214.12" width="9.48" height="8.68" fill="#262a87"/>
<rect x="478.62" y="214.12" width="9.48" height="8.68" fill="#262a87"/>
<rect x="487.50" y="214.12" width="9.48" height="8.68" fill="#262a87"/>
<rect x="496.38" y="214.12" width="8.88" height="8.68" fill="#262a87"/>
<text x="447.5" y="141.8" class="w">0</text>
<text x="456.4" y="141.8" class="k">12</text>
<text x="465.3" y="141.8" class="k">12</text>
<text x="474.2" y="141.8" class="k">11</text>
<text x="483.1" y="141.8" class="w">6</text>
<text x="491.9" y="141.8" class="k">15</text>
<text x="500.8" y="141.8" class="k">13</text>
<text x="447.5" y="150.5" class="w">0</text>
<text x="456.4" y="150.5" class="k">25</text>
<text x="465.3" y="150.5" class="k">21</text>
<text x="474.2" y="150.5" class="w">27</text>
<text x="483.1" y="150.5" class="k">25</text>
<text x="491.9" y="150.5" class="w">27</text>
<text x="500.8" y="150.5" class="w">28</text>
<text x="447.5" y="159.2" class="w">0</text>
<text x="456.4" y="159.2" class="k">19</text>
<text x="465.3" y="159.2" class="k">16</text>
<text x="474.2" y="159.2" class="w">27</text>
<text x="483.1" y="159.2" class="w">29</text>
<text x="491.9" y="159.2" class="w">29</text>
<text x="500.8" y="159.2" class="w">36</text>
<text x="447.5" y="167.9" class="w">0</text>
<text x="456.4" y="167.9" class="k">16</text>
<text x="465.3" y="167.9" class="k">12</text>
<text x="474.2" y="167.9" class="k">16</text>
<text x="483.1" y="167.9" class="k">20</text>
<text x="491.9" y="167.9" class="w">33</text>
<text x="500.8" y="167.9" class="w">33</text>
<text x="447.5" y="176.6" class="w">0</text>
<text x="456.4" y="176.6" class="w">3</text>
<text x="465.3" y="176.6" class="w">3</text>
<text x="474.2" y="176.6" class="w">7</text>
<text x="483.1" y="176.6" class="w">2</text>
<text x="491.9" y="176.6" class="k">19</text>
<text x="500.8" y="176.6" class="k">23</text>
<text x="447.5" y="185.2" class="w">0</text>
<text x="456.4" y="185.2" class="w">–5</text>
<text x="465.3" y="185.2" class="w">–3</text>
<text x="474.2" y="185.2" class="w">–3</text>
<text x="483.1" y="185.2" class="w">–5</text>
<text x="491.9" y="185.2" class="k">12</text>
<text x="500.8" y="185.2" class="k">11</text>
<text x="447.5" y="193.9" class="w">0</text>
<text x="456.4" y="193.9" class="w">–5</text>
<text x="465.3" y="193.9" class="w">–3</text>
<text x="474.2" y="193.9" class="w">–3</text>
<text x="483.1" y="193.9" class="w">–6</text>
<text x="491.9" y="193.9" class="w">6</text>
<text x="500.8" y="193.9" class="w">9</text>
<text x="447.5" y="202.6" class="w">0</text>
<text x="456.4" y="202.6" class="w">–7</text>
<text x="465.3" y="202.6" class="w">–7</text>
<text x="474.2" y="202.6" class="w">–7</text>
<text x="483.1" y="202.6" class="w">–4</text>
<text x="491.9" y="202.6" class="w">–3</text>
<text x="500.8" y="202.6" class="w">4</text>
<text x="447.5" y="211.3" class="w">0</text>
<text x="456.4" y="211.3" class="w">–7</text>
<text x="465.3" y="211.3" class="w">–7</text>
<text x="474.2" y="211.3" class="w">–7</text>
<text x="483.1" y="211.3" class="w">–7</text>
<text x="491.9" y="211.3" class="w">5</text>
<text x="500.8" y="211.3" class="w">2</text>
<text x="447.5" y="220.0" class="w">0</text>
<text x="456.4" y="220.0" class="w">0</text>
<text x="465.3" y="220.0" class="w">0</text>
<text x="474.2" y="220.0" class="w">0</text>
<text x="483.1" y="220.0" class="w">0</text>
<text x="491.9" y="220.0" class="w">0</text>
<text x="500.8" y="220.0" class="w">0</text>
</g>
<line x1="447.54" y1="222.80" x2="447.54" y2="224.60" stroke="#333" stroke-width="0.5" />
<text transform="translate(448.94,227.00) rotate(-90)" font-size="3.8" font-weight="bold" letter-spacing="-0.2" text-anchor="end" fill="#1a1a1a">0</text>
<line x1="456.42" y1="222.80" x2="456.42" y2="224.60" stroke="#333" stroke-width="0.5" />
<text transform="translate(457.82,227.00) rotate(-90)" font-size="3.8" font-weight="bold" letter-spacing="-0.2" text-anchor="end" fill="#1a1a1a">0.03</text>
<line x1="465.30" y1="222.80" x2="465.30" y2="224.60" stroke="#333" stroke-width="0.5" />
<text transform="translate(466.70,227.00) rotate(-90)" font-size="3.8" font-weight="bold" letter-spacing="-0.2" text-anchor="end" fill="#1a1a1a">0.1</text>
<line x1="474.18" y1="222.80" x2="474.18" y2="224.60" stroke="#333" stroke-width="0.5" />
<text transform="translate(475.58,227.00) rotate(-90)" font-size="3.8" font-weight="bold" letter-spacing="-0.2" text-anchor="end" fill="#1a1a1a">0.3</text>
<line x1="483.06" y1="222.80" x2="483.06" y2="224.60" stroke="#333" stroke-width="0.5" />
<text transform="translate(484.46,227.00) rotate(-90)" font-size="3.8" font-weight="bold" letter-spacing="-0.2" text-anchor="end" fill="#1a1a1a">1</text>
<line x1="491.94" y1="222.80" x2="491.94" y2="224.60" stroke="#333" stroke-width="0.5" />
<text transform="translate(493.34,227.00) rotate(-90)" font-size="3.8" font-weight="bold" letter-spacing="-0.2" text-anchor="end" fill="#1a1a1a">3</text>
<line x1="500.82" y1="222.80" x2="500.82" y2="224.60" stroke="#333" stroke-width="0.5" />
<text transform="translate(502.22,227.00) rotate(-90)" font-size="3.8" font-weight="bold" letter-spacing="-0.2" text-anchor="end" fill="#1a1a1a">10</text>
<g>
<rect x="238.00" y="237.20" width="9.58" height="9.28" fill="#e02a25"/>
<rect x="246.98" y="237.20" width="9.58" height="9.28" fill="#e63823"/>
<rect x="255.96" y="237.20" width="9.58" height="9.28" fill="#e22e24"/>
<rect x="264.94" y="237.20" width="9.58" height="9.28" fill="#e63823"/>
<rect x="273.92" y="237.20" width="9.58" height="9.28" fill="#e22e24"/>
<rect x="282.90" y="237.20" width="9.58" height="9.28" fill="#d92228"/>
<rect x="291.88" y="237.20" width="8.98" height="9.28" fill="#d01c2c"/>
<rect x="238.00" y="245.88" width="9.58" height="9.28" fill="#e43223"/>
<rect x="246.98" y="245.88" width="9.58" height="9.28" fill="#ea4423"/>
<rect x="255.96" y="245.88" width="9.58" height="9.28" fill="#ea4423"/>
<rect x="264.94" y="245.88" width="9.58" height="9.28" fill="#ea4423"/>
<rect x="273.92" y="245.88" width="9.58" height="9.28" fill="#ea4423"/>
<rect x="282.90" y="245.88" width="9.58" height="9.28" fill="#e22e24"/>
<rect x="291.88" y="245.88" width="8.98" height="9.28" fill="#d31e2a"/>
<rect x="238.00" y="254.56" width="9.58" height="9.28" fill="#e43223"/>
<rect x="246.98" y="254.56" width="9.58" height="9.28" fill="#e83e23"/>
<rect x="255.96" y="254.56" width="9.58" height="9.28" fill="#eb4d23"/>
<rect x="264.94" y="254.56" width="9.58" height="9.28" fill="#ea4423"/>
<rect x="273.92" y="254.56" width="9.58" height="9.28" fill="#ea4423"/>
<rect x="282.90" y="254.56" width="9.58" height="9.28" fill="#e43223"/>
<rect x="291.88" y="254.56" width="8.98" height="9.28" fill="#d31e2a"/>
<rect x="238.00" y="263.24" width="9.58" height="9.28" fill="#e63823"/>
<rect x="246.98" y="263.24" width="9.58" height="9.28" fill="#ea4423"/>
<rect x="255.96" y="263.24" width="9.58" height="9.28" fill="#ee5f24"/>
<rect x="264.94" y="263.24" width="9.58" height="9.28" fill="#eb4d23"/>
<rect x="273.92" y="263.24" width="9.58" height="9.28" fill="#ea4423"/>
<rect x="282.90" y="263.24" width="9.58" height="9.28" fill="#e43223"/>
<rect x="291.88" y="263.24" width="8.98" height="9.28" fill="#d31e2a"/>
<rect x="238.00" y="271.92" width="9.58" height="9.28" fill="#ea4423"/>
<rect x="246.98" y="271.92" width="9.58" height="9.28" fill="#ee5f24"/>
<rect x="255.96" y="271.92" width="9.58" height="9.28" fill="#ee5f24"/>
<rect x="264.94" y="271.92" width="9.58" height="9.28" fill="#ee5f24"/>
<rect x="273.92" y="271.92" width="9.58" height="9.28" fill="#ea4423"/>
<rect x="282.90" y="271.92" width="9.58" height="9.28" fill="#e43223"/>
<rect x="291.88" y="271.92" width="8.98" height="9.28" fill="#d31e2a"/>
<rect x="238.00" y="280.60" width="9.58" height="9.28" fill="#f5d72b"/>
<rect x="246.98" y="280.60" width="9.58" height="9.28" fill="#f5e12d"/>
<rect x="255.96" y="280.60" width="9.58" height="9.28" fill="#f5e12d"/>
<rect x="264.94" y="280.60" width="9.58" height="9.28" fill="#eee031"/>
<rect x="273.92" y="280.60" width="9.58" height="9.28" fill="#eee031"/>
<rect x="282.90" y="280.60" width="9.58" height="9.28" fill="#f08726"/>
<rect x="291.88" y="280.60" width="8.98" height="9.28" fill="#dc2427"/>
<rect x="238.00" y="289.28" width="9.58" height="9.28" fill="#48bbde"/>
<rect x="246.98" y="289.28" width="9.58" height="9.28" fill="#40a4df"/>
<rect x="255.96" y="289.28" width="9.58" height="9.28" fill="#3e98db"/>
<rect x="264.94" y="289.28" width="9.58" height="9.28" fill="#48bbde"/>
<rect x="273.92" y="289.28" width="9.58" height="9.28" fill="#64cdaf"/>
<rect x="282.90" y="289.28" width="9.58" height="9.28" fill="#8cd282"/>
<rect x="291.88" y="289.28" width="8.98" height="9.28" fill="#f5cd29"/>
<rect x="238.00" y="297.96" width="9.58" height="9.28" fill="#282d8b"/>
<rect x="246.98" y="297.96" width="9.58" height="9.28" fill="#282d8b"/>
<rect x="255.96" y="297.96" width="9.58" height="9.28" fill="#262a87"/>
<rect x="264.94" y="297.96" width="9.58" height="9.28" fill="#262a87"/>
<rect x="273.92" y="297.96" width="9.58" height="9.28" fill="#2f3ea1"/>
<rect x="282.90" y="297.96" width="9.58" height="9.28" fill="#3247ab"/>
<rect x="291.88" y="297.96" width="8.98" height="9.28" fill="#43aee0"/>
<rect x="238.00" y="306.64" width="9.58" height="9.28" fill="#262a87"/>
<rect x="246.98" y="306.64" width="9.58" height="9.28" fill="#262a87"/>
<rect x="255.96" y="306.64" width="9.58" height="9.28" fill="#262a87"/>
<rect x="264.94" y="306.64" width="9.58" height="9.28" fill="#262a87"/>
<rect x="273.92" y="306.64" width="9.58" height="9.28" fill="#282f8d"/>
<rect x="282.90" y="306.64" width="9.58" height="9.28" fill="#2f3ea1"/>
<rect x="291.88" y="306.64" width="8.98" height="9.28" fill="#3977ce"/>
<rect x="238.00" y="315.32" width="9.58" height="8.68" fill="#262a87"/>
<rect x="246.98" y="315.32" width="9.58" height="8.68" fill="#272c89"/>
<rect x="255.96" y="315.32" width="9.58" height="8.68" fill="#282f8d"/>
<rect x="264.94" y="315.32" width="9.58" height="8.68" fill="#2c3899"/>
<rect x="273.92" y="315.32" width="9.58" height="8.68" fill="#3450b4"/>
<rect x="282.90" y="315.32" width="9.58" height="8.68" fill="#3041a5"/>
<rect x="291.88" y="315.32" width="8.98" height="8.68" fill="#3e98db"/>
<text x="242.5" y="243.0" class="w">83</text>
<text x="251.5" y="243.0" class="k">80</text>
<text x="260.4" y="243.0" class="k">82</text>
<text x="269.4" y="243.0" class="k">80</text>
<text x="278.4" y="243.0" class="k">82</text>
<text x="287.4" y="243.0" class="w">86</text>
<text x="296.4" y="243.0" class="w">92</text>
<text x="242.5" y="251.7" class="k">81</text>
<text x="251.5" y="251.7" class="k">78</text>
<text x="260.4" y="251.7" class="k">78</text>
<text x="269.4" y="251.7" class="k">78</text>
<text x="278.4" y="251.7" class="k">78</text>
<text x="287.4" y="251.7" class="k">82</text>
<text x="296.4" y="251.7" class="w">89</text>
<text x="242.5" y="260.4" class="k">81</text>
<text x="251.5" y="260.4" class="k">79</text>
<text x="260.4" y="260.4" class="k">77</text>
<text x="269.4" y="260.4" class="k">78</text>
<text x="278.4" y="260.4" class="k">78</text>
<text x="287.4" y="260.4" class="k">81</text>
<text x="296.4" y="260.4" class="w">89</text>
<text x="242.5" y="269.1" class="k">80</text>
<text x="251.5" y="269.1" class="k">78</text>
<text x="260.4" y="269.1" class="k">75</text>
<text x="269.4" y="269.1" class="k">77</text>
<text x="278.4" y="269.1" class="k">78</text>
<text x="287.4" y="269.1" class="k">81</text>
<text x="296.4" y="269.1" class="w">89</text>
<text x="242.5" y="277.8" class="k">78</text>
<text x="251.5" y="277.8" class="k">75</text>
<text x="260.4" y="277.8" class="k">75</text>
<text x="269.4" y="277.8" class="k">75</text>
<text x="278.4" y="277.8" class="k">78</text>
<text x="287.4" y="277.8" class="k">81</text>
<text x="296.4" y="277.8" class="w">89</text>
<text x="242.5" y="286.4" class="k">62</text>
<text x="251.5" y="286.4" class="k">60</text>
<text x="260.4" y="286.4" class="k">60</text>
<text x="269.4" y="286.4" class="k">59</text>
<text x="278.4" y="286.4" class="k">59</text>
<text x="287.4" y="286.4" class="k">72</text>
<text x="296.4" y="286.4" class="w">85</text>
<text x="242.5" y="295.1" class="w">34</text>
<text x="251.5" y="295.1" class="w">29</text>
<text x="260.4" y="295.1" class="w">27</text>
<text x="269.4" y="295.1" class="w">34</text>
<text x="278.4" y="295.1" class="k">41</text>
<text x="287.4" y="295.1" class="k">47</text>
<text x="296.4" y="295.1" class="k">64</text>
<text x="242.5" y="303.8" class="w">2</text>
<text x="251.5" y="303.8" class="w">2</text>
<text x="260.4" y="303.8" class="w">0</text>
<text x="269.4" y="303.8" class="w">0</text>
<text x="278.4" y="303.8" class="w">9</text>
<text x="287.4" y="303.8" class="w">12</text>
<text x="296.4" y="303.8" class="w">31</text>
<text x="242.5" y="312.5" class="w">0</text>
<text x="251.5" y="312.5" class="w">0</text>
<text x="260.4" y="312.5" class="w">0</text>
<text x="269.4" y="312.5" class="w">0</text>
<text x="278.4" y="312.5" class="w">3</text>
<text x="287.4" y="312.5" class="w">9</text>
<text x="296.4" y="312.5" class="w">22</text>
<text x="242.5" y="321.2" class="w">0</text>
<text x="251.5" y="321.2" class="w">1</text>
<text x="260.4" y="321.2" class="w">3</text>
<text x="269.4" y="321.2" class="w">7</text>
<text x="278.4" y="321.2" class="w">15</text>
<text x="287.4" y="321.2" class="w">10</text>
<text x="296.4" y="321.2" class="w">27</text>
</g>
<line x1="242.49" y1="324.00" x2="242.49" y2="325.80" stroke="#333" stroke-width="0.5" />
<text transform="translate(243.89,328.20) rotate(-90)" font-size="3.8" font-weight="bold" letter-spacing="-0.2" text-anchor="end" fill="#1a1a1a">0</text>
<line x1="251.47" y1="324.00" x2="251.47" y2="325.80" stroke="#333" stroke-width="0.5" />
<text transform="translate(252.87,328.20) rotate(-90)" font-size="3.8" font-weight="bold" letter-spacing="-0.2" text-anchor="end" fill="#1a1a1a">0.03</text>
<line x1="260.45" y1="324.00" x2="260.45" y2="325.80" stroke="#333" stroke-width="0.5" />
<text transform="translate(261.85,328.20) rotate(-90)" font-size="3.8" font-weight="bold" letter-spacing="-0.2" text-anchor="end" fill="#1a1a1a">0.1</text>
<line x1="269.43" y1="324.00" x2="269.43" y2="325.80" stroke="#333" stroke-width="0.5" />
<text transform="translate(270.83,328.20) rotate(-90)" font-size="3.8" font-weight="bold" letter-spacing="-0.2" text-anchor="end" fill="#1a1a1a">0.3</text>
<line x1="278.41" y1="324.00" x2="278.41" y2="325.80" stroke="#333" stroke-width="0.5" />
<text transform="translate(279.81,328.20) rotate(-90)" font-size="3.8" font-weight="bold" letter-spacing="-0.2" text-anchor="end" fill="#1a1a1a">1</text>
<line x1="287.39" y1="324.00" x2="287.39" y2="325.80" stroke="#333" stroke-width="0.5" />
<text transform="translate(288.79,328.20) rotate(-90)" font-size="3.8" font-weight="bold" letter-spacing="-0.2" text-anchor="end" fill="#1a1a1a">3</text>
<line x1="296.37" y1="324.00" x2="296.37" y2="325.80" stroke="#333" stroke-width="0.5" />
<text transform="translate(297.77,328.20) rotate(-90)" font-size="3.8" font-weight="bold" letter-spacing="-0.2" text-anchor="end" fill="#1a1a1a">10</text>
<line x1="235.80" y1="241.54" x2="238.00" y2="241.54" stroke="#333" stroke-width="0.5" />
<text x="233.60" y="242.94" font-size="3.9" text-anchor="end" font-weight="bold" fill="#1a1a1a" letter-spacing="-0.2">10</text>
<line x1="235.80" y1="250.22" x2="238.00" y2="250.22" stroke="#333" stroke-width="0.5" />
<text x="233.60" y="251.62" font-size="3.9" text-anchor="end" font-weight="bold" fill="#1a1a1a" letter-spacing="-0.2">3</text>
<line x1="235.80" y1="258.90" x2="238.00" y2="258.90" stroke="#333" stroke-width="0.5" />
<text x="233.60" y="260.30" font-size="3.9" text-anchor="end" font-weight="bold" fill="#1a1a1a" letter-spacing="-0.2">1</text>
<line x1="235.80" y1="267.58" x2="238.00" y2="267.58" stroke="#333" stroke-width="0.5" />
<text x="233.60" y="268.98" font-size="3.9" text-anchor="end" font-weight="bold" fill="#1a1a1a" letter-spacing="-0.2">0.3</text>
<line x1="235.80" y1="276.26" x2="238.00" y2="276.26" stroke="#333" stroke-width="0.5" />
<text x="233.60" y="277.66" font-size="3.9" text-anchor="end" font-weight="bold" fill="#1a1a1a" letter-spacing="-0.2">0.1</text>
<line x1="235.80" y1="284.94" x2="238.00" y2="284.94" stroke="#333" stroke-width="0.5" />
<text x="233.60" y="286.34" font-size="3.9" text-anchor="end" font-weight="bold" fill="#1a1a1a" letter-spacing="-0.2">0.03</text>
<line x1="235.80" y1="293.62" x2="238.00" y2="293.62" stroke="#333" stroke-width="0.5" />
<text x="233.60" y="295.02" font-size="3.9" text-anchor="end" font-weight="bold" fill="#1a1a1a" letter-spacing="-0.2">0.01</text>
<line x1="235.80" y1="302.30" x2="238.00" y2="302.30" stroke="#333" stroke-width="0.5" />
<text x="233.60" y="303.70" font-size="3.9" text-anchor="end" font-weight="bold" fill="#1a1a1a" letter-spacing="-0.2">0.003</text>
<line x1="235.80" y1="310.98" x2="238.00" y2="310.98" stroke="#333" stroke-width="0.5" />
<text x="233.60" y="312.38" font-size="3.9" text-anchor="end" font-weight="bold" fill="#1a1a1a" letter-spacing="-0.2">0.001</text>
<line x1="235.80" y1="319.66" x2="238.00" y2="319.66" stroke="#333" stroke-width="0.5" />
<text x="233.60" y="321.06" font-size="3.9" text-anchor="end" font-weight="bold" fill="#1a1a1a" letter-spacing="-0.2">0</text>
<g>
<rect x="303.00" y="237.20" width="9.60" height="9.28" fill="#262a87"/>
<rect x="312.00" y="237.20" width="9.60" height="9.28" fill="#252984"/>
<rect x="321.00" y="237.20" width="9.60" height="9.28" fill="#252984"/>
<rect x="330.00" y="237.20" width="9.60" height="9.28" fill="#242780"/>
<rect x="339.00" y="237.20" width="9.60" height="9.28" fill="#23267f"/>
<rect x="348.00" y="237.20" width="9.60" height="9.28" fill="#262986"/>
<rect x="357.00" y="237.20" width="9.00" height="9.28" fill="#2d3ca0"/>
<rect x="303.00" y="245.88" width="9.60" height="9.28" fill="#262a87"/>
<rect x="312.00" y="245.88" width="9.60" height="9.28" fill="#252984"/>
<rect x="321.00" y="245.88" width="9.60" height="9.28" fill="#23267f"/>
<rect x="330.00" y="245.88" width="9.60" height="9.28" fill="#23267f"/>
<rect x="339.00" y="245.88" width="9.60" height="9.28" fill="#242780"/>
<rect x="348.00" y="245.88" width="9.60" height="9.28" fill="#252984"/>
<rect x="357.00" y="245.88" width="9.00" height="9.28" fill="#2b389a"/>
<rect x="303.00" y="254.56" width="9.60" height="9.28" fill="#262a87"/>
<rect x="312.00" y="254.56" width="9.60" height="9.28" fill="#242883"/>
<rect x="321.00" y="254.56" width="9.60" height="9.28" fill="#242883"/>
<rect x="330.00" y="254.56" width="9.60" height="9.28" fill="#23267f"/>
<rect x="339.00" y="254.56" width="9.60" height="9.28" fill="#23267f"/>
<rect x="348.00" y="254.56" width="9.60" height="9.28" fill="#242883"/>
<rect x="357.00" y="254.56" width="9.00" height="9.28" fill="#2b389a"/>
<rect x="303.00" y="263.24" width="9.60" height="9.28" fill="#262a87"/>
<rect x="312.00" y="263.24" width="9.60" height="9.28" fill="#242882"/>
<rect x="321.00" y="263.24" width="9.60" height="9.28" fill="#242882"/>
<rect x="330.00" y="263.24" width="9.60" height="9.28" fill="#23267f"/>
<rect x="339.00" y="263.24" width="9.60" height="9.28" fill="#23267f"/>
<rect x="348.00" y="263.24" width="9.60" height="9.28" fill="#242883"/>
<rect x="357.00" y="263.24" width="9.00" height="9.28" fill="#2a3394"/>
<rect x="303.00" y="271.92" width="9.60" height="9.28" fill="#262a87"/>
<rect x="312.00" y="271.92" width="9.60" height="9.28" fill="#242883"/>
<rect x="321.00" y="271.92" width="9.60" height="9.28" fill="#23267f"/>
<rect x="330.00" y="271.92" width="9.60" height="9.28" fill="#242780"/>
<rect x="339.00" y="271.92" width="9.60" height="9.28" fill="#242883"/>
<rect x="348.00" y="271.92" width="9.60" height="9.28" fill="#262986"/>
<rect x="357.00" y="271.92" width="9.00" height="9.28" fill="#2f44a8"/>
<rect x="303.00" y="280.60" width="9.60" height="9.28" fill="#262a87"/>
<rect x="312.00" y="280.60" width="9.60" height="9.28" fill="#282e8d"/>
<rect x="321.00" y="280.60" width="9.60" height="9.28" fill="#242883"/>
<rect x="330.00" y="280.60" width="9.60" height="9.28" fill="#242780"/>
<rect x="339.00" y="280.60" width="9.60" height="9.28" fill="#282e8d"/>
<rect x="348.00" y="280.60" width="9.60" height="9.28" fill="#2d3ca0"/>
<rect x="357.00" y="280.60" width="9.00" height="9.28" fill="#78cdaa"/>
<rect x="303.00" y="289.28" width="9.60" height="9.28" fill="#262a87"/>
<rect x="312.00" y="289.28" width="9.60" height="9.28" fill="#23267f"/>
<rect x="321.00" y="289.28" width="9.60" height="9.28" fill="#22257b"/>
<rect x="330.00" y="289.28" width="9.60" height="9.28" fill="#242882"/>
<rect x="339.00" y="289.28" width="9.60" height="9.28" fill="#242883"/>
<rect x="348.00" y="289.28" width="9.60" height="9.28" fill="#2a3394"/>
<rect x="357.00" y="289.28" width="9.00" height="9.28" fill="#78cdaa"/>
<rect x="303.00" y="297.96" width="9.60" height="9.28" fill="#262a87"/>
<rect x="312.00" y="297.96" width="9.60" height="9.28" fill="#23267f"/>
<rect x="321.00" y="297.96" width="9.60" height="9.28" fill="#21247a"/>
<rect x="330.00" y="297.96" width="9.60" height="9.28" fill="#21247a"/>
<rect x="339.00" y="297.96" width="9.60" height="9.28" fill="#21247a"/>
<rect x="348.00" y="297.96" width="9.60" height="9.28" fill="#21247a"/>
<rect x="357.00" y="297.96" width="9.00" height="9.28" fill="#252984"/>
<rect x="303.00" y="306.64" width="9.60" height="9.28" fill="#262a87"/>
<rect x="312.00" y="306.64" width="9.60" height="9.28" fill="#262986"/>
<rect x="321.00" y="306.64" width="9.60" height="9.28" fill="#242883"/>
<rect x="330.00" y="306.64" width="9.60" height="9.28" fill="#22267e"/>
<rect x="339.00" y="306.64" width="9.60" height="9.28" fill="#21247a"/>
<rect x="348.00" y="306.64" width="9.60" height="9.28" fill="#22257b"/>
<rect x="357.00" y="306.64" width="9.00" height="9.28" fill="#242780"/>
<rect x="303.00" y="315.32" width="9.60" height="8.68" fill="#262a87"/>
<rect x="312.00" y="315.32" width="9.60" height="8.68" fill="#262a87"/>
<rect x="321.00" y="315.32" width="9.60" height="8.68" fill="#262a87"/>
<rect x="330.00" y="315.32" width="9.60" height="8.68" fill="#262a87"/>
<rect x="339.00" y="315.32" width="9.60" height="8.68" fill="#262a87"/>
<rect x="348.00" y="315.32" width="9.60" height="8.68" fill="#262a87"/>
<rect x="357.00" y="315.32" width="9.00" height="8.68" fill="#262a87"/>
<text x="307.5" y="243.0" class="w">0</text>
<text x="316.5" y="243.0" class="w">–2</text>
<text x="325.5" y="243.0" class="w">–2</text>
<text x="334.5" y="243.0" class="w">–5</text>
<text x="343.5" y="243.0" class="w">–6</text>
<text x="352.5" y="243.0" class="w">–1</text>
<text x="361.5" y="243.0" class="w">4</text>
<text x="307.5" y="251.7" class="w">0</text>
<text x="316.5" y="251.7" class="w">–2</text>
<text x="325.5" y="251.7" class="w">–6</text>
<text x="334.5" y="251.7" class="w">–6</text>
<text x="343.5" y="251.7" class="w">–5</text>
<text x="352.5" y="251.7" class="w">–2</text>
<text x="361.5" y="251.7" class="w">3</text>
<text x="307.5" y="260.4" class="w">0</text>
<text x="316.5" y="260.4" class="w">–3</text>
<text x="325.5" y="260.4" class="w">–3</text>
<text x="334.5" y="260.4" class="w">–6</text>
<text x="343.5" y="260.4" class="w">–6</text>
<text x="352.5" y="260.4" class="w">–3</text>
<text x="361.5" y="260.4" class="w">3</text>
<text x="307.5" y="269.1" class="w">0</text>
<text x="316.5" y="269.1" class="w">–4</text>
<text x="325.5" y="269.1" class="w">–4</text>
<text x="334.5" y="269.1" class="w">–6</text>
<text x="343.5" y="269.1" class="w">–6</text>
<text x="352.5" y="269.1" class="w">–3</text>
<text x="361.5" y="269.1" class="w">2</text>
<text x="307.5" y="277.8" class="w">0</text>
<text x="316.5" y="277.8" class="w">–3</text>
<text x="325.5" y="277.8" class="w">–6</text>
<text x="334.5" y="277.8" class="w">–5</text>
<text x="343.5" y="277.8" class="w">–3</text>
<text x="352.5" y="277.8" class="w">–1</text>
<text x="361.5" y="277.8" class="w">5</text>
<text x="307.5" y="286.4" class="w">0</text>
<text x="316.5" y="286.4" class="w">1</text>
<text x="325.5" y="286.4" class="w">–3</text>
<text x="334.5" y="286.4" class="w">–5</text>
<text x="343.5" y="286.4" class="w">1</text>
<text x="352.5" y="286.4" class="w">4</text>
<text x="361.5" y="286.4" class="k">13</text>
<text x="307.5" y="295.1" class="w">0</text>
<text x="316.5" y="295.1" class="w">–6</text>
<text x="325.5" y="295.1" class="w">–9</text>
<text x="334.5" y="295.1" class="w">–4</text>
<text x="343.5" y="295.1" class="w">–3</text>
<text x="352.5" y="295.1" class="w">2</text>
<text x="361.5" y="295.1" class="k">13</text>
<text x="307.5" y="303.8" class="w">0</text>
<text x="316.5" y="303.8" class="w">–6</text>
<text x="325.5" y="303.8" class="w">–10</text>
<text x="334.5" y="303.8" class="w">–14</text>
<text x="343.5" y="303.8" class="w">–13</text>
<text x="352.5" y="303.8" class="w">–12</text>
<text x="361.5" y="303.8" class="w">–2</text>
<text x="307.5" y="312.5" class="w">0</text>
<text x="316.5" y="312.5" class="w">–1</text>
<text x="325.5" y="312.5" class="w">–3</text>
<text x="334.5" y="312.5" class="w">–7</text>
<text x="343.5" y="312.5" class="w">–12</text>
<text x="352.5" y="312.5" class="w">–9</text>
<text x="361.5" y="312.5" class="w">–5</text>
<text x="307.5" y="321.2" class="w">0</text>
<text x="316.5" y="321.2" class="w">0</text>
<text x="325.5" y="321.2" class="w">0</text>
<text x="334.5" y="321.2" class="w">0</text>
<text x="343.5" y="321.2" class="w">0</text>
<text x="352.5" y="321.2" class="w">0</text>
<text x="361.5" y="321.2" class="w">0</text>
</g>
<line x1="307.50" y1="324.00" x2="307.50" y2="325.80" stroke="#333" stroke-width="0.5" />
<text transform="translate(308.90,328.20) rotate(-90)" font-size="3.8" font-weight="bold" letter-spacing="-0.2" text-anchor="end" fill="#1a1a1a">0</text>
<line x1="316.50" y1="324.00" x2="316.50" y2="325.80" stroke="#333" stroke-width="0.5" />
<text transform="translate(317.90,328.20) rotate(-90)" font-size="3.8" font-weight="bold" letter-spacing="-0.2" text-anchor="end" fill="#1a1a1a">0.03</text>
<line x1="325.50" y1="324.00" x2="325.50" y2="325.80" stroke="#333" stroke-width="0.5" />
<text transform="translate(326.90,328.20) rotate(-90)" font-size="3.8" font-weight="bold" letter-spacing="-0.2" text-anchor="end" fill="#1a1a1a">0.1</text>
<line x1="334.50" y1="324.00" x2="334.50" y2="325.80" stroke="#333" stroke-width="0.5" />
<text transform="translate(335.90,328.20) rotate(-90)" font-size="3.8" font-weight="bold" letter-spacing="-0.2" text-anchor="end" fill="#1a1a1a">0.3</text>
<line x1="343.50" y1="324.00" x2="343.50" y2="325.80" stroke="#333" stroke-width="0.5" />
<text transform="translate(344.90,328.20) rotate(-90)" font-size="3.8" font-weight="bold" letter-spacing="-0.2" text-anchor="end" fill="#1a1a1a">1</text>
<line x1="352.50" y1="324.00" x2="352.50" y2="325.80" stroke="#333" stroke-width="0.5" />
<text transform="translate(353.90,328.20) rotate(-90)" font-size="3.8" font-weight="bold" letter-spacing="-0.2" text-anchor="end" fill="#1a1a1a">3</text>
<line x1="361.50" y1="324.00" x2="361.50" y2="325.80" stroke="#333" stroke-width="0.5" />
<text transform="translate(362.90,328.20) rotate(-90)" font-size="3.8" font-weight="bold" letter-spacing="-0.2" text-anchor="end" fill="#1a1a1a">10</text>
<g>
<rect x="378.50" y="237.20" width="9.52" height="9.28" fill="#f5c828"/>
<rect x="387.42" y="237.20" width="9.52" height="9.28" fill="#f5d22a"/>
<rect x="396.34" y="237.20" width="9.52" height="9.28" fill="#f5aa28"/>
<rect x="405.26" y="237.20" width="9.52" height="9.28" fill="#f5be28"/>
<rect x="414.18" y="237.20" width="9.52" height="9.28" fill="#f5c828"/>
<rect x="423.10" y="237.20" width="9.52" height="9.28" fill="#f5c828"/>
<rect x="432.02" y="237.20" width="8.92" height="9.28" fill="#f5aa28"/>
<rect x="378.50" y="245.88" width="9.52" height="9.28" fill="#f5cd29"/>
<rect x="387.42" y="245.88" width="9.52" height="9.28" fill="#f5cd29"/>
<rect x="396.34" y="245.88" width="9.52" height="9.28" fill="#f5aa28"/>
<rect x="405.26" y="245.88" width="9.52" height="9.28" fill="#f5cd29"/>
<rect x="414.18" y="245.88" width="9.52" height="9.28" fill="#f5cd29"/>
<rect x="423.10" y="245.88" width="9.52" height="9.28" fill="#f5be28"/>
<rect x="432.02" y="245.88" width="8.92" height="9.28" fill="#f5aa28"/>
<rect x="378.50" y="254.56" width="9.52" height="9.28" fill="#f5c828"/>
<rect x="387.42" y="254.56" width="9.52" height="9.28" fill="#f5d72b"/>
<rect x="396.34" y="254.56" width="9.52" height="9.28" fill="#f5dc2c"/>
<rect x="405.26" y="254.56" width="9.52" height="9.28" fill="#f5cd29"/>
<rect x="414.18" y="254.56" width="9.52" height="9.28" fill="#f5d72b"/>
<rect x="423.10" y="254.56" width="9.52" height="9.28" fill="#f5aa28"/>
<rect x="432.02" y="254.56" width="8.92" height="9.28" fill="#f4a128"/>
<rect x="378.50" y="263.24" width="9.52" height="9.28" fill="#e6de34"/>
<rect x="387.42" y="263.24" width="9.52" height="9.28" fill="#eee031"/>
<rect x="396.34" y="263.24" width="9.52" height="9.28" fill="#e6de34"/>
<rect x="405.26" y="263.24" width="9.52" height="9.28" fill="#f5d22a"/>
<rect x="414.18" y="263.24" width="9.52" height="9.28" fill="#f5b428"/>
<rect x="423.10" y="263.24" width="9.52" height="9.28" fill="#f5c828"/>
<rect x="432.02" y="263.24" width="8.92" height="9.28" fill="#f5be28"/>
<rect x="378.50" y="271.92" width="9.52" height="9.28" fill="#cedb44"/>
<rect x="387.42" y="271.92" width="9.52" height="9.28" fill="#f5d22a"/>
<rect x="396.34" y="271.92" width="9.52" height="9.28" fill="#e6de34"/>
<rect x="405.26" y="271.92" width="9.52" height="9.28" fill="#cedb44"/>
<rect x="414.18" y="271.92" width="9.52" height="9.28" fill="#e6de34"/>
<rect x="423.10" y="271.92" width="9.52" height="9.28" fill="#f5dc2c"/>
<rect x="432.02" y="271.92" width="8.92" height="9.28" fill="#f5dc2c"/>
<rect x="378.50" y="280.60" width="9.52" height="9.28" fill="#8cd282"/>
<rect x="387.42" y="280.60" width="9.52" height="9.28" fill="#78d098"/>
<rect x="396.34" y="280.60" width="9.52" height="9.28" fill="#a4d56a"/>
<rect x="405.26" y="280.60" width="9.52" height="9.28" fill="#bdd852"/>
<rect x="414.18" y="280.60" width="9.52" height="9.28" fill="#94d37a"/>
<rect x="423.10" y="280.60" width="9.52" height="9.28" fill="#b4d75a"/>
<rect x="432.02" y="280.60" width="8.92" height="9.28" fill="#a4d56a"/>
<rect x="378.50" y="289.28" width="9.52" height="9.28" fill="#40a4df"/>
<rect x="387.42" y="289.28" width="9.52" height="9.28" fill="#3d92d9"/>
<rect x="396.34" y="289.28" width="9.52" height="9.28" fill="#3f9edd"/>
<rect x="405.26" y="289.28" width="9.52" height="9.28" fill="#3c8cd7"/>
<rect x="414.18" y="289.28" width="9.52" height="9.28" fill="#3c8cd7"/>
<rect x="423.10" y="289.28" width="9.52" height="9.28" fill="#5fcbb8"/>
<rect x="432.02" y="289.28" width="8.92" height="9.28" fill="#71cfa0"/>
<rect x="378.50" y="297.96" width="9.52" height="9.28" fill="#2a3291"/>
<rect x="387.42" y="297.96" width="9.52" height="9.28" fill="#282d8b"/>
<rect x="396.34" y="297.96" width="9.52" height="9.28" fill="#282d8b"/>
<rect x="405.26" y="297.96" width="9.52" height="9.28" fill="#272c89"/>
<rect x="414.18" y="297.96" width="9.52" height="9.28" fill="#272c89"/>
<rect x="423.10" y="297.96" width="9.52" height="9.28" fill="#3450b4"/>
<rect x="432.02" y="297.96" width="8.92" height="9.28" fill="#365fc0"/>
<rect x="378.50" y="306.64" width="9.52" height="9.28" fill="#262a87"/>
<rect x="387.42" y="306.64" width="9.52" height="9.28" fill="#262a87"/>
<rect x="396.34" y="306.64" width="9.52" height="9.28" fill="#262a87"/>
<rect x="405.26" y="306.64" width="9.52" height="9.28" fill="#262a87"/>
<rect x="414.18" y="306.64" width="9.52" height="9.28" fill="#262a87"/>
<rect x="423.10" y="306.64" width="9.52" height="9.28" fill="#324aae"/>
<rect x="432.02" y="306.64" width="8.92" height="9.28" fill="#3144a8"/>
<rect x="378.50" y="315.32" width="9.52" height="8.68" fill="#262a87"/>
<rect x="387.42" y="315.32" width="9.52" height="8.68" fill="#262a87"/>
<rect x="396.34" y="315.32" width="9.52" height="8.68" fill="#262a87"/>
<rect x="405.26" y="315.32" width="9.52" height="8.68" fill="#262a87"/>
<rect x="414.18" y="315.32" width="9.52" height="8.68" fill="#262a87"/>
<rect x="423.10" y="315.32" width="9.52" height="8.68" fill="#282d8b"/>
<rect x="432.02" y="315.32" width="8.92" height="8.68" fill="#272c89"/>
<text x="383.0" y="243.0" class="k">65</text>
<text x="391.9" y="243.0" class="k">63</text>
<text x="400.8" y="243.0" class="k">68</text>
<text x="409.7" y="243.0" class="k">66</text>
<text x="418.6" y="243.0" class="k">65</text>
<text x="427.6" y="243.0" class="k">65</text>
<text x="436.5" y="243.0" class="k">68</text>
<text x="383.0" y="251.7" class="k">64</text>
<text x="391.9" y="251.7" class="k">64</text>
<text x="400.8" y="251.7" class="k">68</text>
<text x="409.7" y="251.7" class="k">64</text>
<text x="418.6" y="251.7" class="k">64</text>
<text x="427.6" y="251.7" class="k">66</text>
<text x="436.5" y="251.7" class="k">68</text>
<text x="383.0" y="260.4" class="k">65</text>
<text x="391.9" y="260.4" class="k">62</text>
<text x="400.8" y="260.4" class="k">61</text>
<text x="409.7" y="260.4" class="k">64</text>
<text x="418.6" y="260.4" class="k">62</text>
<text x="427.6" y="260.4" class="k">68</text>
<text x="436.5" y="260.4" class="k">69</text>
<text x="383.0" y="269.1" class="k">58</text>
<text x="391.9" y="269.1" class="k">59</text>
<text x="400.8" y="269.1" class="k">58</text>
<text x="409.7" y="269.1" class="k">63</text>
<text x="418.6" y="269.1" class="k">67</text>
<text x="427.6" y="269.1" class="k">65</text>
<text x="436.5" y="269.1" class="k">66</text>
<text x="383.0" y="277.8" class="k">55</text>
<text x="391.9" y="277.8" class="k">63</text>
<text x="400.8" y="277.8" class="k">58</text>
<text x="409.7" y="277.8" class="k">55</text>
<text x="418.6" y="277.8" class="k">58</text>
<text x="427.6" y="277.8" class="k">61</text>
<text x="436.5" y="277.8" class="k">61</text>
<text x="383.0" y="286.4" class="k">47</text>
<text x="391.9" y="286.4" class="k">44</text>
<text x="400.8" y="286.4" class="k">50</text>
<text x="409.7" y="286.4" class="k">53</text>
<text x="418.6" y="286.4" class="k">48</text>
<text x="427.6" y="286.4" class="k">52</text>
<text x="436.5" y="286.4" class="k">50</text>
<text x="383.0" y="295.1" class="w">29</text>
<text x="391.9" y="295.1" class="w">26</text>
<text x="400.8" y="295.1" class="w">28</text>
<text x="409.7" y="295.1" class="w">25</text>
<text x="418.6" y="295.1" class="w">25</text>
<text x="427.6" y="295.1" class="k">40</text>
<text x="436.5" y="295.1" class="k">43</text>
<text x="383.0" y="303.8" class="w">5</text>
<text x="391.9" y="303.8" class="w">2</text>
<text x="400.8" y="303.8" class="w">2</text>
<text x="409.7" y="303.8" class="w">1</text>
<text x="418.6" y="303.8" class="w">1</text>
<text x="427.6" y="303.8" class="w">15</text>
<text x="436.5" y="303.8" class="w">18</text>
<text x="383.0" y="312.5" class="w">0</text>
<text x="391.9" y="312.5" class="w">0</text>
<text x="400.8" y="312.5" class="w">0</text>
<text x="409.7" y="312.5" class="w">0</text>
<text x="418.6" y="312.5" class="w">0</text>
<text x="427.6" y="312.5" class="w">13</text>
<text x="436.5" y="312.5" class="w">11</text>
<text x="383.0" y="321.2" class="w">0</text>
<text x="391.9" y="321.2" class="w">0</text>
<text x="400.8" y="321.2" class="w">0</text>
<text x="409.7" y="321.2" class="w">0</text>
<text x="418.6" y="321.2" class="w">0</text>
<text x="427.6" y="321.2" class="w">2</text>
<text x="436.5" y="321.2" class="w">1</text>
</g>
<line x1="382.96" y1="324.00" x2="382.96" y2="325.80" stroke="#333" stroke-width="0.5" />
<text transform="translate(384.36,328.20) rotate(-90)" font-size="3.8" font-weight="bold" letter-spacing="-0.2" text-anchor="end" fill="#1a1a1a">0</text>
<line x1="391.88" y1="324.00" x2="391.88" y2="325.80" stroke="#333" stroke-width="0.5" />
<text transform="translate(393.28,328.20) rotate(-90)" font-size="3.8" font-weight="bold" letter-spacing="-0.2" text-anchor="end" fill="#1a1a1a">0.03</text>
<line x1="400.80" y1="324.00" x2="400.80" y2="325.80" stroke="#333" stroke-width="0.5" />
<text transform="translate(402.20,328.20) rotate(-90)" font-size="3.8" font-weight="bold" letter-spacing="-0.2" text-anchor="end" fill="#1a1a1a">0.1</text>
<line x1="409.72" y1="324.00" x2="409.72" y2="325.80" stroke="#333" stroke-width="0.5" />
<text transform="translate(411.12,328.20) rotate(-90)" font-size="3.8" font-weight="bold" letter-spacing="-0.2" text-anchor="end" fill="#1a1a1a">0.3</text>
<line x1="418.64" y1="324.00" x2="418.64" y2="325.80" stroke="#333" stroke-width="0.5" />
<text transform="translate(420.04,328.20) rotate(-90)" font-size="3.8" font-weight="bold" letter-spacing="-0.2" text-anchor="end" fill="#1a1a1a">1</text>
<line x1="427.56" y1="324.00" x2="427.56" y2="325.80" stroke="#333" stroke-width="0.5" />
<text transform="translate(428.96,328.20) rotate(-90)" font-size="3.8" font-weight="bold" letter-spacing="-0.2" text-anchor="end" fill="#1a1a1a">3</text>
<line x1="436.48" y1="324.00" x2="436.48" y2="325.80" stroke="#333" stroke-width="0.5" />
<text transform="translate(437.88,328.20) rotate(-90)" font-size="3.8" font-weight="bold" letter-spacing="-0.2" text-anchor="end" fill="#1a1a1a">10</text>
<g>
<rect x="443.10" y="237.20" width="9.48" height="9.28" fill="#262a87"/>
<rect x="451.98" y="237.20" width="9.48" height="9.28" fill="#242883"/>
<rect x="460.86" y="237.20" width="9.48" height="9.28" fill="#2b389a"/>
<rect x="469.74" y="237.20" width="9.48" height="9.28" fill="#2a3394"/>
<rect x="478.62" y="237.20" width="9.48" height="9.28" fill="#262a87"/>
<rect x="487.50" y="237.20" width="9.48" height="9.28" fill="#2d3ca0"/>
<rect x="496.38" y="237.20" width="8.88" height="9.28" fill="#2b389a"/>
<rect x="443.10" y="245.88" width="9.48" height="9.28" fill="#262a87"/>
<rect x="451.98" y="245.88" width="9.48" height="9.28" fill="#262a87"/>
<rect x="460.86" y="245.88" width="9.48" height="9.28" fill="#2d3ca0"/>
<rect x="469.74" y="245.88" width="9.48" height="9.28" fill="#262a87"/>
<rect x="478.62" y="245.88" width="9.48" height="9.28" fill="#262a87"/>
<rect x="487.50" y="245.88" width="9.48" height="9.28" fill="#2b389a"/>
<rect x="496.38" y="245.88" width="8.88" height="9.28" fill="#2d3ca0"/>
<rect x="443.10" y="254.56" width="9.48" height="9.28" fill="#262a87"/>
<rect x="451.98" y="254.56" width="9.48" height="9.28" fill="#2a3394"/>
<rect x="460.86" y="254.56" width="9.48" height="9.28" fill="#282e8d"/>
<rect x="469.74" y="254.56" width="9.48" height="9.28" fill="#2b389a"/>
<rect x="478.62" y="254.56" width="9.48" height="9.28" fill="#282e8d"/>
<rect x="487.50" y="254.56" width="9.48" height="9.28" fill="#3255b9"/>
<rect x="496.38" y="254.56" width="8.88" height="9.28" fill="#304db1"/>
<rect x="443.10" y="263.24" width="9.48" height="9.28" fill="#262a87"/>
<rect x="451.98" y="263.24" width="9.48" height="9.28" fill="#262a87"/>
<rect x="460.86" y="263.24" width="9.48" height="9.28" fill="#242882"/>
<rect x="469.74" y="263.24" width="9.48" height="9.28" fill="#2d3ca0"/>
<rect x="478.62" y="263.24" width="9.48" height="9.28" fill="#2d3ca0"/>
<rect x="487.50" y="263.24" width="9.48" height="9.28" fill="#2d3ca0"/>
<rect x="496.38" y="263.24" width="8.88" height="9.28" fill="#3255b9"/>
<rect x="443.10" y="271.92" width="9.48" height="9.28" fill="#262a87"/>
<rect x="451.98" y="271.92" width="9.48" height="9.28" fill="#3255b9"/>
<rect x="460.86" y="271.92" width="9.48" height="9.28" fill="#2b389a"/>
<rect x="469.74" y="271.92" width="9.48" height="9.28" fill="#262986"/>
<rect x="478.62" y="271.92" width="9.48" height="9.28" fill="#2b389a"/>
<rect x="487.50" y="271.92" width="9.48" height="9.28" fill="#2f44a8"/>
<rect x="496.38" y="271.92" width="8.88" height="9.28" fill="#304db1"/>
<rect x="443.10" y="280.60" width="9.48" height="9.28" fill="#262a87"/>
<rect x="451.98" y="280.60" width="9.48" height="9.28" fill="#2b389a"/>
<rect x="460.86" y="280.60" width="9.48" height="9.28" fill="#304db1"/>
<rect x="469.74" y="280.60" width="9.48" height="9.28" fill="#4bbee1"/>
<rect x="478.62" y="280.60" width="9.48" height="9.28" fill="#2f44a8"/>
<rect x="487.50" y="280.60" width="9.48" height="9.28" fill="#378cd7"/>
<rect x="496.38" y="280.60" width="8.88" height="9.28" fill="#378cd7"/>
<rect x="443.10" y="289.28" width="9.48" height="9.28" fill="#262a87"/>
<rect x="451.98" y="289.28" width="9.48" height="9.28" fill="#262a87"/>
<rect x="460.86" y="289.28" width="9.48" height="9.28" fill="#2a3394"/>
<rect x="469.74" y="289.28" width="9.48" height="9.28" fill="#262a87"/>
<rect x="478.62" y="289.28" width="9.48" height="9.28" fill="#304db1"/>
<rect x="487.50" y="289.28" width="9.48" height="9.28" fill="#62c6c6"/>
<rect x="496.38" y="289.28" width="8.88" height="9.28" fill="#78cdaa"/>
<rect x="443.10" y="297.96" width="9.48" height="9.28" fill="#262a87"/>
<rect x="451.98" y="297.96" width="9.48" height="9.28" fill="#23267f"/>
<rect x="460.86" y="297.96" width="9.48" height="9.28" fill="#23267f"/>
<rect x="469.74" y="297.96" width="9.48" height="9.28" fill="#22267e"/>
<rect x="478.62" y="297.96" width="9.48" height="9.28" fill="#22267e"/>
<rect x="487.50" y="297.96" width="9.48" height="9.28" fill="#378cd7"/>
<rect x="496.38" y="297.96" width="8.88" height="9.28" fill="#378cd7"/>
<rect x="443.10" y="306.64" width="9.48" height="9.28" fill="#262a87"/>
<rect x="451.98" y="306.64" width="9.48" height="9.28" fill="#262a87"/>
<rect x="460.86" y="306.64" width="9.48" height="9.28" fill="#262a87"/>
<rect x="469.74" y="306.64" width="9.48" height="9.28" fill="#262a87"/>
<rect x="478.62" y="306.64" width="9.48" height="9.28" fill="#262a87"/>
<rect x="487.50" y="306.64" width="9.48" height="9.28" fill="#378cd7"/>
<rect x="496.38" y="306.64" width="8.88" height="9.28" fill="#41a5dc"/>
<rect x="443.10" y="315.32" width="9.48" height="8.68" fill="#262a87"/>
<rect x="451.98" y="315.32" width="9.48" height="8.68" fill="#262a87"/>
<rect x="460.86" y="315.32" width="9.48" height="8.68" fill="#262a87"/>
<rect x="469.74" y="315.32" width="9.48" height="8.68" fill="#262a87"/>
<rect x="478.62" y="315.32" width="9.48" height="8.68" fill="#262a87"/>
<rect x="487.50" y="315.32" width="9.48" height="8.68" fill="#262a87"/>
<rect x="496.38" y="315.32" width="8.88" height="8.68" fill="#262a87"/>
<text x="447.5" y="243.0" class="w">0</text>
<text x="456.4" y="243.0" class="w">–3</text>
<text x="465.3" y="243.0" class="w">3</text>
<text x="474.2" y="243.0" class="w">2</text>
<text x="483.1" y="243.0" class="w">0</text>
<text x="491.9" y="243.0" class="w">4</text>
<text x="500.8" y="243.0" class="w">3</text>
<text x="447.5" y="251.7" class="w">0</text>
<text x="456.4" y="251.7" class="w">0</text>
<text x="465.3" y="251.7" class="w">4</text>
<text x="474.2" y="251.7" class="w">0</text>
<text x="483.1" y="251.7" class="w">0</text>
<text x="491.9" y="251.7" class="w">3</text>
<text x="500.8" y="251.7" class="w">4</text>
<text x="447.5" y="260.4" class="w">0</text>
<text x="456.4" y="260.4" class="w">2</text>
<text x="465.3" y="260.4" class="w">1</text>
<text x="474.2" y="260.4" class="w">3</text>
<text x="483.1" y="260.4" class="w">1</text>
<text x="491.9" y="260.4" class="w">7</text>
<text x="500.8" y="260.4" class="w">6</text>
<text x="447.5" y="269.1" class="w">0</text>
<text x="456.4" y="269.1" class="w">0</text>
<text x="465.3" y="269.1" class="w">–4</text>
<text x="474.2" y="269.1" class="w">4</text>
<text x="483.1" y="269.1" class="w">4</text>
<text x="491.9" y="269.1" class="w">4</text>
<text x="500.8" y="269.1" class="w">7</text>
<text x="447.5" y="277.8" class="w">0</text>
<text x="456.4" y="277.8" class="w">7</text>
<text x="465.3" y="277.8" class="w">3</text>
<text x="474.2" y="277.8" class="w">–1</text>
<text x="483.1" y="277.8" class="w">3</text>
<text x="491.9" y="277.8" class="w">5</text>
<text x="500.8" y="277.8" class="w">6</text>
<text x="447.5" y="286.4" class="w">0</text>
<text x="456.4" y="286.4" class="w">3</text>
<text x="465.3" y="286.4" class="w">6</text>
<text x="474.2" y="286.4" class="k">11</text>
<text x="483.1" y="286.4" class="w">5</text>
<text x="491.9" y="286.4" class="w">9</text>
<text x="500.8" y="286.4" class="w">9</text>
<text x="447.5" y="295.1" class="w">0</text>
<text x="456.4" y="295.1" class="w">0</text>
<text x="465.3" y="295.1" class="w">2</text>
<text x="474.2" y="295.1" class="w">0</text>
<text x="483.1" y="295.1" class="w">6</text>
<text x="491.9" y="295.1" class="k">12</text>
<text x="500.8" y="295.1" class="k">13</text>
<text x="447.5" y="303.8" class="w">0</text>
<text x="456.4" y="303.8" class="w">–6</text>
<text x="465.3" y="303.8" class="w">–6</text>
<text x="474.2" y="303.8" class="w">–7</text>
<text x="483.1" y="303.8" class="w">–7</text>
<text x="491.9" y="303.8" class="w">9</text>
<text x="500.8" y="303.8" class="w">9</text>
<text x="447.5" y="312.5" class="w">0</text>
<text x="456.4" y="312.5" class="w">0</text>
<text x="465.3" y="312.5" class="w">0</text>
<text x="474.2" y="312.5" class="w">0</text>
<text x="483.1" y="312.5" class="w">0</text>
<text x="491.9" y="312.5" class="w">9</text>
<text x="500.8" y="312.5" class="w">10</text>
<text x="447.5" y="321.2" class="w">0</text>
<text x="456.4" y="321.2" class="w">0</text>
<text x="465.3" y="321.2" class="w">0</text>
<text x="474.2" y="321.2" class="w">0</text>
<text x="483.1" y="321.2" class="w">0</text>
<text x="491.9" y="321.2" class="w">0</text>
<text x="500.8" y="321.2" class="w">0</text>
</g>
<line x1="447.54" y1="324.00" x2="447.54" y2="325.80" stroke="#333" stroke-width="0.5" />
<text transform="translate(448.94,328.20) rotate(-90)" font-size="3.8" font-weight="bold" letter-spacing="-0.2" text-anchor="end" fill="#1a1a1a">0</text>
<line x1="456.42" y1="324.00" x2="456.42" y2="325.80" stroke="#333" stroke-width="0.5" />
<text transform="translate(457.82,328.20) rotate(-90)" font-size="3.8" font-weight="bold" letter-spacing="-0.2" text-anchor="end" fill="#1a1a1a">0.03</text>
<line x1="465.30" y1="324.00" x2="465.30" y2="325.80" stroke="#333" stroke-width="0.5" />
<text transform="translate(466.70,328.20) rotate(-90)" font-size="3.8" font-weight="bold" letter-spacing="-0.2" text-anchor="end" fill="#1a1a1a">0.1</text>
<line x1="474.18" y1="324.00" x2="474.18" y2="325.80" stroke="#333" stroke-width="0.5" />
<text transform="translate(475.58,328.20) rotate(-90)" font-size="3.8" font-weight="bold" letter-spacing="-0.2" text-anchor="end" fill="#1a1a1a">0.3</text>
<line x1="483.06" y1="324.00" x2="483.06" y2="325.80" stroke="#333" stroke-width="0.5" />
<text transform="translate(484.46,328.20) rotate(-90)" font-size="3.8" font-weight="bold" letter-spacing="-0.2" text-anchor="end" fill="#1a1a1a">1</text>
<line x1="491.94" y1="324.00" x2="491.94" y2="325.80" stroke="#333" stroke-width="0.5" />
<text transform="translate(493.34,328.20) rotate(-90)" font-size="3.8" font-weight="bold" letter-spacing="-0.2" text-anchor="end" fill="#1a1a1a">3</text>
<line x1="500.82" y1="324.00" x2="500.82" y2="325.80" stroke="#333" stroke-width="0.5" />
<text transform="translate(502.22,328.20) rotate(-90)" font-size="3.8" font-weight="bold" letter-spacing="-0.2" text-anchor="end" fill="#1a1a1a">10</text>
<text x="300.80" y="23.00" font-size="5.5" text-anchor="middle" font-weight="normal" fill="#111" stroke="#111" stroke-width="0.05" text-decoration="underline">HeLa</text>
<text x="442.30" y="23.00" font-size="5.5" text-anchor="middle" font-weight="normal" fill="#111" stroke="#111" stroke-width="0.05" text-decoration="underline">MDA-MB-231</text>
<text x="269.50" y="31.60" font-size="5.6" text-anchor="middle" font-weight="normal" fill="#111" stroke="#111" stroke-width="0.05" >Percentage inhibition</text>
<text x="267.50" y="342.60" font-size="5.5" text-anchor="middle" font-weight="normal" fill="#111" stroke="#111" stroke-width="0.05" >R428 (µmol/L)</text>
<text x="333.00" y="31.60" font-size="5.6" text-anchor="middle" font-weight="normal" fill="#111" stroke="#111" stroke-width="0.05" >Delta Bliss</text>
<text x="332.50" y="342.60" font-size="5.5" text-anchor="middle" font-weight="normal" fill="#111" stroke="#111" stroke-width="0.05" >R428 (µmol/L)</text>
<text x="410.00" y="31.60" font-size="5.6" text-anchor="middle" font-weight="normal" fill="#111" stroke="#111" stroke-width="0.05" >Percentage inhibition</text>
<text x="410.00" y="342.60" font-size="5.5" text-anchor="middle" font-weight="normal" fill="#111" stroke="#111" stroke-width="0.05" >R428 (µmol/L)</text>
<text x="473.10" y="31.60" font-size="5.6" text-anchor="middle" font-weight="normal" fill="#111" stroke="#111" stroke-width="0.05" >Delta Bliss</text>
<text x="474.60" y="342.60" font-size="5.5" text-anchor="middle" font-weight="normal" fill="#111" stroke="#111" stroke-width="0.05" >R428 (µmol/L)</text>
<text transform="translate(224.0,71.30) rotate(-90)" font-size="5.6" text-anchor="middle" fill="#111">DTX (nmol/L)</text>
<text transform="translate(224.0,173.80) rotate(-90)" font-size="5.6" text-anchor="middle" fill="#111">PHA-739358 (µmol/L)</text>
<text transform="translate(224.0,277.00) rotate(-90)" font-size="5.6" text-anchor="middle" fill="#111">Gemcitabine (µmol/L)</text>
<line x1="51.40" y1="350.70" x2="51.40" y2="433.20" stroke="#666" stroke-width="0.6" />
<line x1="51.40" y1="433.20" x2="173.00" y2="433.20" stroke="#666" stroke-width="0.6" />
<line x1="49.40" y1="351.20" x2="51.40" y2="351.20" stroke="#666" stroke-width="0.6" />
<text x="49.00" y="353.60" font-size="5.9" text-anchor="end" font-weight="normal" fill="#222" >600</text>
<line x1="49.40" y1="367.60" x2="51.40" y2="367.60" stroke="#666" stroke-width="0.6" />
<text x="49.00" y="370.00" font-size="5.9" text-anchor="end" font-weight="normal" fill="#222" >400</text>
<line x1="49.40" y1="384.00" x2="51.40" y2="384.00" stroke="#666" stroke-width="0.6" />
<text x="49.00" y="386.40" font-size="5.9" text-anchor="end" font-weight="normal" fill="#222" >200</text>
<line x1="49.40" y1="400.40" x2="51.40" y2="400.40" stroke="#666" stroke-width="0.6" />
<text x="49.00" y="402.80" font-size="5.9" text-anchor="end" font-weight="normal" fill="#222" >0</text>
<line x1="49.40" y1="416.80" x2="51.40" y2="416.80" stroke="#666" stroke-width="0.6" />
<text x="49.00" y="419.20" font-size="5.9" text-anchor="end" font-weight="normal" fill="#222" >−200</text>
<line x1="49.40" y1="433.20" x2="51.40" y2="433.20" stroke="#666" stroke-width="0.6" />
<text x="49.00" y="435.60" font-size="5.9" text-anchor="end" font-weight="normal" fill="#222" >−400</text>
<line x1="51.00" y1="433.20" x2="51.00" y2="435.20" stroke="#666" stroke-width="0.6" />
<text x="51.00" y="441.20" font-size="5.9" text-anchor="middle" font-weight="normal" fill="#222" >0.1</text>
<line x1="81.50" y1="433.20" x2="81.50" y2="435.20" stroke="#666" stroke-width="0.6" />
<text x="81.50" y="441.20" font-size="5.9" text-anchor="middle" font-weight="normal" fill="#222" >1</text>
<line x1="112.00" y1="433.20" x2="112.00" y2="435.20" stroke="#666" stroke-width="0.6" />
<text x="112.00" y="441.20" font-size="5.9" text-anchor="middle" font-weight="normal" fill="#222" >10</text>
<line x1="142.50" y1="433.20" x2="142.50" y2="435.20" stroke="#666" stroke-width="0.6" />
<text x="142.50" y="441.20" font-size="5.9" text-anchor="middle" font-weight="normal" fill="#222" >100</text>
<line x1="173.00" y1="433.20" x2="173.00" y2="435.20" stroke="#666" stroke-width="0.6" />
<text x="173.00" y="441.20" font-size="5.9" text-anchor="middle" font-weight="normal" fill="#222" >1,000</text>
<line x1="51.40" y1="400.40" x2="173.00" y2="400.40" stroke="#222" stroke-width="0.7" stroke-dasharray="0.9 0.9"/>
<circle cx="58.3" cy="418.9" r="1.75" fill="#000"/>
<circle cx="63.7" cy="415.6" r="1.75" fill="#000"/>
<circle cx="66.0" cy="416.6" r="1.75" fill="#000"/>
<circle cx="65.0" cy="403.9" r="1.75" fill="#000"/>
<circle cx="67.4" cy="404.9" r="1.75" fill="#000"/>
<circle cx="69.5" cy="409.8" r="1.75" fill="#000"/>
<circle cx="79.2" cy="416.6" r="1.75" fill="#000"/>
<circle cx="86.6" cy="417.1" r="1.75" fill="#000"/>
<circle cx="92.9" cy="411.7" r="1.75" fill="#000"/>
<circle cx="96.8" cy="405.3" r="1.75" fill="#000"/>
<circle cx="99.7" cy="403.9" r="1.75" fill="#000"/>
<circle cx="101.0" cy="403.0" r="1.75" fill="#000"/>
<circle cx="102.6" cy="402.0" r="1.75" fill="#000"/>
<circle cx="110.4" cy="402.0" r="1.75" fill="#000"/>
<circle cx="110.8" cy="405.9" r="1.75" fill="#000"/>
<circle cx="124.0" cy="389.8" r="1.75" fill="#000"/>
<circle cx="131.4" cy="362.2" r="1.75" fill="#000"/>
<circle cx="138.2" cy="363.3" r="1.75" fill="#000"/>
<circle cx="132.1" cy="376.7" r="1.75" fill="#000"/>
<circle cx="131.2" cy="390.7" r="1.75" fill="#000"/>
<circle cx="129.4" cy="397.7" r="1.75" fill="#000"/>
<circle cx="136.2" cy="398.1" r="1.75" fill="#000"/>
<circle cx="143.4" cy="385.9" r="1.75" fill="#000"/>
<circle cx="144.0" cy="388.0" r="1.75" fill="#000"/>
<circle cx="143.0" cy="392.9" r="1.75" fill="#000"/>
<circle cx="147.3" cy="383.5" r="1.75" fill="#000"/>
<circle cx="148.3" cy="383.2" r="1.75" fill="#000"/>
<circle cx="147.3" cy="393.8" r="1.75" fill="#000"/>
<circle cx="152.5" cy="376.4" r="1.75" fill="#000"/>
<circle cx="152.5" cy="381.6" r="1.75" fill="#000"/>
<circle cx="155.4" cy="390.3" r="1.75" fill="#000"/>
<circle cx="155.4" cy="391.9" r="1.75" fill="#000"/>
<circle cx="158.3" cy="383.9" r="1.75" fill="#000"/>
<circle cx="159.3" cy="386.5" r="1.75" fill="#000"/>
<circle cx="159.3" cy="392.1" r="1.75" fill="#000"/>
<text x="61.5" y="364.8" font-size="5.3" fill="#222"><tspan font-style="italic">R</tspan><tspan font-size="3.4" dy="-2">2</tspan><tspan dy="2"> = 0.5044</tspan></text>
<text transform="translate(32.2,394.0) rotate(-90)" font-size="6.4" text-anchor="middle" fill="#222">Sum Bliss score</text>
<text x="110.6" y="452.3" font-size="6.7" text-anchor="middle" fill="#222">AXL RPKM (log<tspan font-size="4.4" dy="1.5">10</tspan><tspan dy="-1.5">)</tspan></text>
<line x1="206.50" y1="365.00" x2="206.50" y2="432.80" stroke="#333" stroke-width="0.7" />
<line x1="206.50" y1="432.80" x2="280.00" y2="432.80" stroke="#333" stroke-width="0.7" />
<line x1="204.50" y1="432.80" x2="206.50" y2="432.80" stroke="#333" stroke-width="0.6" />
<text x="204.10" y="434.90" font-size="5.8" text-anchor="end" font-weight="bold" fill="#222" >20</text>
<line x1="204.50" y1="417.90" x2="206.50" y2="417.90" stroke="#333" stroke-width="0.6" />
<text x="204.10" y="420.00" font-size="5.8" text-anchor="end" font-weight="bold" fill="#222" >40</text>
<line x1="204.50" y1="403.00" x2="206.50" y2="403.00" stroke="#333" stroke-width="0.6" />
<text x="204.10" y="405.10" font-size="5.8" text-anchor="end" font-weight="bold" fill="#222" >60</text>
<line x1="204.50" y1="388.10" x2="206.50" y2="388.10" stroke="#333" stroke-width="0.6" />
<text x="204.10" y="390.20" font-size="5.8" text-anchor="end" font-weight="bold" fill="#222" >80</text>
<line x1="204.50" y1="373.20" x2="206.50" y2="373.20" stroke="#333" stroke-width="0.6" />
<text x="204.10" y="375.30" font-size="5.8" text-anchor="end" font-weight="bold" fill="#222" >100</text>
<line x1="205.50" y1="432.80" x2="205.50" y2="434.80" stroke="#333" stroke-width="0.6" />
<text x="205.50" y="440.60" font-size="5.8" text-anchor="middle" font-weight="bold" fill="#222" >0.01</text>
<line x1="220.30" y1="432.80" x2="220.30" y2="434.80" stroke="#333" stroke-width="0.6" />
<text x="220.30" y="440.60" font-size="5.8" text-anchor="middle" font-weight="bold" fill="#222" >0.1</text>
<line x1="235.10" y1="432.80" x2="235.10" y2="434.80" stroke="#333" stroke-width="0.6" />
<text x="235.10" y="440.60" font-size="5.8" text-anchor="middle" font-weight="bold" fill="#222" >1</text>
<line x1="249.90" y1="432.80" x2="249.90" y2="434.80" stroke="#333" stroke-width="0.6" />
<text x="249.90" y="440.60" font-size="5.8" text-anchor="middle" font-weight="bold" fill="#222" >10</text>
<line x1="264.70" y1="432.80" x2="264.70" y2="434.80" stroke="#333" stroke-width="0.6" />
<text x="264.70" y="440.60" font-size="5.8" text-anchor="middle" font-weight="bold" fill="#222" >100</text>
<line x1="279.50" y1="432.80" x2="279.50" y2="434.80" stroke="#333" stroke-width="0.6" />
<text x="279.50" y="440.60" font-size="5.8" text-anchor="middle" font-weight="bold" fill="#222" >1,000</text>
<line x1="209.96" y1="432.80" x2="209.96" y2="433.80" stroke="#555" stroke-width="0.4" />
<line x1="212.56" y1="432.80" x2="212.56" y2="433.80" stroke="#555" stroke-width="0.4" />
<line x1="214.41" y1="432.80" x2="214.41" y2="433.80" stroke="#555" stroke-width="0.4" />
<line x1="215.84" y1="432.80" x2="215.84" y2="433.80" stroke="#555" stroke-width="0.4" />
<line x1="217.02" y1="432.80" x2="217.02" y2="433.80" stroke="#555" stroke-width="0.4" />
<line x1="218.01" y1="432.80" x2="218.01" y2="433.80" stroke="#555" stroke-width="0.4" />
<line x1="218.87" y1="432.80" x2="218.87" y2="433.80" stroke="#555" stroke-width="0.4" />
<line x1="219.62" y1="432.80" x2="219.62" y2="433.80" stroke="#555" stroke-width="0.4" />
<line x1="224.76" y1="432.80" x2="224.76" y2="433.80" stroke="#555" stroke-width="0.4" />
<line x1="227.36" y1="432.80" x2="227.36" y2="433.80" stroke="#555" stroke-width="0.4" />
<line x1="229.21" y1="432.80" x2="229.21" y2="433.80" stroke="#555" stroke-width="0.4" />
<line x1="230.64" y1="432.80" x2="230.64" y2="433.80" stroke="#555" stroke-width="0.4" />
<line x1="231.82" y1="432.80" x2="231.82" y2="433.80" stroke="#555" stroke-width="0.4" />
<line x1="232.81" y1="432.80" x2="232.81" y2="433.80" stroke="#555" stroke-width="0.4" />
<line x1="233.67" y1="432.80" x2="233.67" y2="433.80" stroke="#555" stroke-width="0.4" />
<line x1="234.42" y1="432.80" x2="234.42" y2="433.80" stroke="#555" stroke-width="0.4" />
<line x1="239.56" y1="432.80" x2="239.56" y2="433.80" stroke="#555" stroke-width="0.4" />
<line x1="242.16" y1="432.80" x2="242.16" y2="433.80" stroke="#555" stroke-width="0.4" />
<line x1="244.01" y1="432.80" x2="244.01" y2="433.80" stroke="#555" stroke-width="0.4" />
<line x1="245.44" y1="432.80" x2="245.44" y2="433.80" stroke="#555" stroke-width="0.4" />
<line x1="246.62" y1="432.80" x2="246.62" y2="433.80" stroke="#555" stroke-width="0.4" />
<line x1="247.61" y1="432.80" x2="247.61" y2="433.80" stroke="#555" stroke-width="0.4" />
<line x1="248.47" y1="432.80" x2="248.47" y2="433.80" stroke="#555" stroke-width="0.4" />
<line x1="249.22" y1="432.80" x2="249.22" y2="433.80" stroke="#555" stroke-width="0.4" />
<line x1="254.36" y1="432.80" x2="254.36" y2="433.80" stroke="#555" stroke-width="0.4" />
<line x1="256.96" y1="432.80" x2="256.96" y2="433.80" stroke="#555" stroke-width="0.4" />
<line x1="258.81" y1="432.80" x2="258.81" y2="433.80" stroke="#555" stroke-width="0.4" />
<line x1="260.24" y1="432.80" x2="260.24" y2="433.80" stroke="#555" stroke-width="0.4" />
<line x1="261.42" y1="432.80" x2="261.42" y2="433.80" stroke="#555" stroke-width="0.4" />
<line x1="262.41" y1="432.80" x2="262.41" y2="433.80" stroke="#555" stroke-width="0.4" />
<line x1="263.27" y1="432.80" x2="263.27" y2="433.80" stroke="#555" stroke-width="0.4" />
<line x1="264.02" y1="432.80" x2="264.02" y2="433.80" stroke="#555" stroke-width="0.4" />
<line x1="269.16" y1="432.80" x2="269.16" y2="433.80" stroke="#555" stroke-width="0.4" />
<line x1="271.76" y1="432.80" x2="271.76" y2="433.80" stroke="#555" stroke-width="0.4" />
<line x1="273.61" y1="432.80" x2="273.61" y2="433.80" stroke="#555" stroke-width="0.4" />
<line x1="275.04" y1="432.80" x2="275.04" y2="433.80" stroke="#555" stroke-width="0.4" />
<line x1="276.22" y1="432.80" x2="276.22" y2="433.80" stroke="#555" stroke-width="0.4" />
<line x1="277.21" y1="432.80" x2="277.21" y2="433.80" stroke="#555" stroke-width="0.4" />
<line x1="278.07" y1="432.80" x2="278.07" y2="433.80" stroke="#555" stroke-width="0.4" />
<line x1="278.82" y1="432.80" x2="278.82" y2="433.80" stroke="#555" stroke-width="0.4" />
<text x="241.2" y="449.0" font-size="6.3" text-anchor="middle" fill="#222">DTX (nmol/L)</text>
<text transform="translate(193.0,399.4) rotate(-90)" font-size="7" font-weight="bold" text-anchor="middle" fill="#111">% Cell viability</text>
<polyline points="212.56,378.76 213.30,379.21 214.04,379.77 214.78,380.45 215.52,381.28 216.26,382.28 217.00,383.47 217.74,384.89 218.48,386.53 219.22,388.42 219.96,390.55 220.70,392.89 221.44,395.42 222.18,398.09 222.92,400.82 223.66,403.55 224.40,406.21 225.14,408.74 225.88,411.07 226.62,413.19 227.36,415.07 228.10,416.71 228.84,418.11 229.58,419.30 230.32,420.29 231.06,421.11 231.80,421.79 232.54,422.34 233.28,422.79 234.02,423.15 234.76,423.44 235.50,423.68 236.24,423.86 236.98,424.01 237.72,424.14 238.46,424.23 239.20,424.31 239.94,424.37 240.68,424.42 241.42,424.46 242.16,424.49 242.90,424.51 243.64,424.53 244.38,424.55 245.12,424.56 245.86,424.57 246.60,424.58 247.34,424.58 248.08,424.59 248.82,424.59 249.56,424.59 250.30,424.60 251.04,424.60 251.78,424.60 252.52,424.60 253.26,424.60 254.00,424.60 254.74,424.60 255.48,424.60 256.22,424.60 256.96,424.60 257.70,424.60 258.44,424.60 259.18,424.60 259.92,424.60 260.66,424.60 261.40,424.60 262.14,424.60 262.88,424.60 263.62,424.60 264.36,424.60 265.10,424.60 265.84,424.60 266.58,424.60 267.32,424.60 268.06,424.60 268.80,424.60 269.54,424.60 270.28,424.60 271.02,424.60 271.76,424.60" fill="none" stroke="#000" stroke-width="1.3"/>
<line x1="212.56" y1="377.65" x2="212.56" y2="381.82" stroke="#000" stroke-width="0.5" />
<line x1="211.76" y1="377.65" x2="213.36" y2="377.65" stroke="#000" stroke-width="0.5" />
<circle cx="212.56" cy="379.73" r="1.7" fill="#000"/>
<line x1="220.30" y1="389.87" x2="220.30" y2="394.29" stroke="#000" stroke-width="0.5" />
<line x1="219.50" y1="389.87" x2="221.10" y2="389.87" stroke="#000" stroke-width="0.5" />
<circle cx="220.30" cy="392.08" r="1.7" fill="#000"/>
<line x1="227.36" y1="413.47" x2="227.36" y2="415.73" stroke="#000" stroke-width="0.5" />
<line x1="226.56" y1="413.47" x2="228.16" y2="413.47" stroke="#000" stroke-width="0.5" />
<circle cx="227.36" cy="414.60" r="1.7" fill="#000"/>
<line x1="235.10" y1="422.69" x2="235.10" y2="428.04" stroke="#000" stroke-width="0.5" />
<line x1="234.30" y1="422.69" x2="235.90" y2="422.69" stroke="#000" stroke-width="0.5" />
<circle cx="235.10" cy="425.37" r="1.7" fill="#000"/>
<line x1="242.16" y1="423.91" x2="242.16" y2="426.85" stroke="#000" stroke-width="0.5" />
<line x1="241.36" y1="423.91" x2="242.96" y2="423.91" stroke="#000" stroke-width="0.5" />
<circle cx="242.16" cy="425.38" r="1.7" fill="#000"/>
<line x1="249.90" y1="420.81" x2="249.90" y2="424.69" stroke="#000" stroke-width="0.5" />
<line x1="249.10" y1="420.81" x2="250.70" y2="420.81" stroke="#000" stroke-width="0.5" />
<circle cx="249.90" cy="422.75" r="1.7" fill="#000"/>
<line x1="256.96" y1="421.40" x2="256.96" y2="425.30" stroke="#000" stroke-width="0.5" />
<line x1="256.16" y1="421.40" x2="257.76" y2="421.40" stroke="#000" stroke-width="0.5" />
<circle cx="256.96" cy="423.35" r="1.7" fill="#000"/>
<line x1="264.70" y1="422.79" x2="264.70" y2="425.39" stroke="#000" stroke-width="0.5" />
<line x1="263.90" y1="422.79" x2="265.50" y2="422.79" stroke="#000" stroke-width="0.5" />
<circle cx="264.70" cy="424.09" r="1.7" fill="#000"/>
<line x1="271.76" y1="421.37" x2="271.76" y2="426.84" stroke="#000" stroke-width="0.5" />
<line x1="270.96" y1="421.37" x2="272.56" y2="421.37" stroke="#000" stroke-width="0.5" />
<circle cx="271.76" cy="424.10" r="1.7" fill="#000"/>
<polyline points="212.56,387.61 213.30,388.44 214.04,389.47 214.78,390.70 215.52,392.16 216.26,393.87 217.00,395.81 217.74,397.97 218.48,400.31 219.22,402.76 219.96,405.26 220.70,407.72 221.44,410.07 222.18,412.25 222.92,414.21 223.66,415.94 224.40,417.42 225.14,418.67 225.88,419.71 226.62,420.56 227.36,421.25 228.10,421.80 228.84,422.25 229.58,422.60 230.32,422.87 231.06,423.09 231.80,423.26 232.54,423.39 233.28,423.50 234.02,423.58 234.76,423.64 235.50,423.69 236.24,423.73 236.98,423.76 237.72,423.78 238.46,423.80 239.20,423.81 239.94,423.82 240.68,423.83 241.42,423.84 242.16,423.84 242.90,423.85 243.64,423.85 244.38,423.85 245.12,423.85 245.86,423.86 246.60,423.86 247.34,423.86 248.08,423.86 248.82,423.86 249.56,423.86 250.30,423.86 251.04,423.86 251.78,423.86 252.52,423.86 253.26,423.86 254.00,423.86 254.74,423.86 255.48,423.86 256.22,423.86 256.96,423.86 257.70,423.86 258.44,423.86 259.18,423.86 259.92,423.86 260.66,423.86 261.40,423.86 262.14,423.86 262.88,423.86 263.62,423.86 264.36,423.86 265.10,423.86 265.84,423.86 266.58,423.86 267.32,423.86 268.06,423.86 268.80,423.86 269.54,423.86 270.28,423.86 271.02,423.86 271.76,423.86" fill="none" stroke="#d8283a" stroke-width="1.3"/>
<line x1="212.56" y1="385.04" x2="212.56" y2="390.00" stroke="#d8283a" stroke-width="0.5" />
<line x1="211.76" y1="385.04" x2="213.36" y2="385.04" stroke="#d8283a" stroke-width="0.5" />
<rect x="210.96" y="385.92" width="3.2" height="3.2" fill="#d8283a"/>
<line x1="220.30" y1="404.63" x2="220.30" y2="406.88" stroke="#d8283a" stroke-width="0.5" />
<line x1="219.50" y1="404.63" x2="221.10" y2="404.63" stroke="#d8283a" stroke-width="0.5" />
<rect x="218.70" y="404.16" width="3.2" height="3.2" fill="#d8283a"/>
<line x1="227.36" y1="418.11" x2="227.36" y2="422.47" stroke="#d8283a" stroke-width="0.5" />
<line x1="226.56" y1="418.11" x2="228.16" y2="418.11" stroke="#d8283a" stroke-width="0.5" />
<rect x="225.76" y="418.69" width="3.2" height="3.2" fill="#d8283a"/>
<line x1="235.10" y1="423.34" x2="235.10" y2="425.47" stroke="#d8283a" stroke-width="0.5" />
<line x1="234.30" y1="423.34" x2="235.90" y2="423.34" stroke="#d8283a" stroke-width="0.5" />
<rect x="233.50" y="422.80" width="3.2" height="3.2" fill="#d8283a"/>
<line x1="242.16" y1="420.54" x2="242.16" y2="424.43" stroke="#d8283a" stroke-width="0.5" />
<line x1="241.36" y1="420.54" x2="242.96" y2="420.54" stroke="#d8283a" stroke-width="0.5" />
<rect x="240.56" y="420.88" width="3.2" height="3.2" fill="#d8283a"/>
<line x1="249.90" y1="420.29" x2="249.90" y2="425.80" stroke="#d8283a" stroke-width="0.5" />
<line x1="249.10" y1="420.29" x2="250.70" y2="420.29" stroke="#d8283a" stroke-width="0.5" />
<rect x="248.30" y="421.44" width="3.2" height="3.2" fill="#d8283a"/>
<line x1="256.96" y1="420.22" x2="256.96" y2="425.90" stroke="#d8283a" stroke-width="0.5" />
<line x1="256.16" y1="420.22" x2="257.76" y2="420.22" stroke="#d8283a" stroke-width="0.5" />
<rect x="255.36" y="421.46" width="3.2" height="3.2" fill="#d8283a"/>
<line x1="264.70" y1="421.65" x2="264.70" y2="426.85" stroke="#d8283a" stroke-width="0.5" />
<line x1="263.90" y1="421.65" x2="265.50" y2="421.65" stroke="#d8283a" stroke-width="0.5" />
<rect x="263.10" y="422.65" width="3.2" height="3.2" fill="#d8283a"/>
<line x1="271.76" y1="421.20" x2="271.76" y2="426.94" stroke="#d8283a" stroke-width="0.5" />
<line x1="270.96" y1="421.20" x2="272.56" y2="421.20" stroke="#d8283a" stroke-width="0.5" />
<rect x="270.16" y="422.47" width="3.2" height="3.2" fill="#d8283a"/>
<polyline points="212.56,402.67 213.30,403.79 214.04,405.12 214.78,406.67 215.52,408.41 216.26,410.30 217.00,412.27 217.74,414.24 218.48,416.14 219.22,417.88 219.96,419.44 220.70,420.79 221.44,421.91 222.18,422.83 222.92,423.58 223.66,424.16 224.40,424.62 225.14,424.97 225.88,425.25 226.62,425.45 227.36,425.61 228.10,425.73 228.84,425.82 229.58,425.89 230.32,425.94 231.06,425.98 231.80,426.01 232.54,426.03 233.28,426.05 234.02,426.06 234.76,426.07 235.50,426.07 236.24,426.08 236.98,426.08 237.72,426.09 238.46,426.09 239.20,426.09 239.94,426.09 240.68,426.09 241.42,426.09 242.16,426.09 242.90,426.09 243.64,426.09 244.38,426.09 245.12,426.09 245.86,426.09 246.60,426.09 247.34,426.09 248.08,426.09 248.82,426.09 249.56,426.09 250.30,426.09 251.04,426.09 251.78,426.09 252.52,426.09 253.26,426.09 254.00,426.09 254.74,426.09 255.48,426.09 256.22,426.09 256.96,426.09 257.70,426.09 258.44,426.09 259.18,426.09 259.92,426.09 260.66,426.09 261.40,426.09 262.14,426.09 262.88,426.09 263.62,426.09 264.36,426.09 265.10,426.09 265.84,426.09 266.58,426.09 267.32,426.09 268.06,426.09 268.80,426.09 269.54,426.09 270.28,426.09 271.02,426.09 271.76,426.09" fill="none" stroke="#3055a8" stroke-width="1.3"/>
<line x1="212.56" y1="400.06" x2="212.56" y2="402.45" stroke="#3055a8" stroke-width="0.5" />
<line x1="211.76" y1="400.06" x2="213.36" y2="400.06" stroke="#3055a8" stroke-width="0.5" />
<polygon points="212.56,399.26 210.76,402.66 214.36,402.66" fill="#3055a8"/>
<line x1="220.30" y1="420.01" x2="220.30" y2="422.87" stroke="#3055a8" stroke-width="0.5" />
<line x1="219.50" y1="420.01" x2="221.10" y2="420.01" stroke="#3055a8" stroke-width="0.5" />
<polygon points="220.30,419.44 218.50,422.84 222.10,422.84" fill="#3055a8"/>
<line x1="227.36" y1="422.00" x2="227.36" y2="425.75" stroke="#3055a8" stroke-width="0.5" />
<line x1="226.56" y1="422.00" x2="228.16" y2="422.00" stroke="#3055a8" stroke-width="0.5" />
<polygon points="227.36,421.88 225.56,425.28 229.16,425.28" fill="#3055a8"/>
<line x1="235.10" y1="424.00" x2="235.10" y2="427.20" stroke="#3055a8" stroke-width="0.5" />
<line x1="234.30" y1="424.00" x2="235.90" y2="424.00" stroke="#3055a8" stroke-width="0.5" />
<polygon points="235.10,423.60 233.30,427.00 236.90,427.00" fill="#3055a8"/>
<line x1="242.16" y1="424.29" x2="242.16" y2="427.84" stroke="#3055a8" stroke-width="0.5" />
<line x1="241.36" y1="424.29" x2="242.96" y2="424.29" stroke="#3055a8" stroke-width="0.5" />
<polygon points="242.16,424.07 240.36,427.47 243.96,427.47" fill="#3055a8"/>
<line x1="249.90" y1="424.48" x2="249.90" y2="428.82" stroke="#3055a8" stroke-width="0.5" />
<line x1="249.10" y1="424.48" x2="250.70" y2="424.48" stroke="#3055a8" stroke-width="0.5" />
<polygon points="249.90,424.65 248.10,428.05 251.70,428.05" fill="#3055a8"/>
<line x1="256.96" y1="422.97" x2="256.96" y2="428.59" stroke="#3055a8" stroke-width="0.5" />
<line x1="256.16" y1="422.97" x2="257.76" y2="422.97" stroke="#3055a8" stroke-width="0.5" />
<polygon points="256.96,423.78 255.16,427.18 258.76,427.18" fill="#3055a8"/>
<line x1="264.70" y1="422.56" x2="264.70" y2="428.28" stroke="#3055a8" stroke-width="0.5" />
<line x1="263.90" y1="422.56" x2="265.50" y2="422.56" stroke="#3055a8" stroke-width="0.5" />
<polygon points="264.70,423.42 262.90,426.82 266.50,426.82" fill="#3055a8"/>
<line x1="271.76" y1="421.79" x2="271.76" y2="427.75" stroke="#3055a8" stroke-width="0.5" />
<line x1="270.96" y1="421.79" x2="272.56" y2="421.79" stroke="#3055a8" stroke-width="0.5" />
<polygon points="271.76,422.77 269.96,426.17 273.56,426.17" fill="#3055a8"/>
<line x1="308.30" y1="365.00" x2="308.30" y2="432.60" stroke="#333" stroke-width="0.7" />
<line x1="308.30" y1="432.60" x2="381.40" y2="432.60" stroke="#333" stroke-width="0.7" />
<line x1="306.30" y1="432.60" x2="308.30" y2="432.60" stroke="#333" stroke-width="0.6" />
<text x="305.90" y="434.70" font-size="5.8" text-anchor="end" font-weight="bold" fill="#222" >0</text>
<line x1="306.30" y1="420.30" x2="308.30" y2="420.30" stroke="#333" stroke-width="0.6" />
<text x="305.90" y="422.40" font-size="5.8" text-anchor="end" font-weight="bold" fill="#222" >20</text>
<line x1="306.30" y1="408.00" x2="308.30" y2="408.00" stroke="#333" stroke-width="0.6" />
<text x="305.90" y="410.10" font-size="5.8" text-anchor="end" font-weight="bold" fill="#222" >40</text>
<line x1="306.30" y1="395.70" x2="308.30" y2="395.70" stroke="#333" stroke-width="0.6" />
<text x="305.90" y="397.80" font-size="5.8" text-anchor="end" font-weight="bold" fill="#222" >60</text>
<line x1="306.30" y1="383.40" x2="308.30" y2="383.40" stroke="#333" stroke-width="0.6" />
<text x="305.90" y="385.50" font-size="5.8" text-anchor="end" font-weight="bold" fill="#222" >80</text>
<line x1="306.30" y1="371.10" x2="308.30" y2="371.10" stroke="#333" stroke-width="0.6" />
<text x="305.90" y="373.20" font-size="5.8" text-anchor="end" font-weight="bold" fill="#222" >100</text>
<line x1="316.40" y1="432.60" x2="316.40" y2="434.60" stroke="#333" stroke-width="0.6" />
<text x="316.40" y="440.40" font-size="5.8" text-anchor="middle" font-weight="bold" fill="#222" >0.001</text>
<line x1="331.20" y1="432.60" x2="331.20" y2="434.60" stroke="#333" stroke-width="0.6" />
<text x="331.20" y="440.40" font-size="5.8" text-anchor="middle" font-weight="bold" fill="#222" >0.01</text>
<line x1="346.00" y1="432.60" x2="346.00" y2="434.60" stroke="#333" stroke-width="0.6" />
<text x="346.00" y="440.40" font-size="5.8" text-anchor="middle" font-weight="bold" fill="#222" >0.1</text>
<line x1="360.80" y1="432.60" x2="360.80" y2="434.60" stroke="#333" stroke-width="0.6" />
<text x="360.80" y="440.40" font-size="5.8" text-anchor="middle" font-weight="bold" fill="#222" >1</text>
<line x1="375.60" y1="432.60" x2="375.60" y2="434.60" stroke="#333" stroke-width="0.6" />
<text x="375.60" y="440.40" font-size="5.8" text-anchor="middle" font-weight="bold" fill="#222" >10</text>
<line x1="320.86" y1="432.60" x2="320.86" y2="433.60" stroke="#555" stroke-width="0.4" />
<line x1="323.46" y1="432.60" x2="323.46" y2="433.60" stroke="#555" stroke-width="0.4" />
<line x1="325.31" y1="432.60" x2="325.31" y2="433.60" stroke="#555" stroke-width="0.4" />
<line x1="326.74" y1="432.60" x2="326.74" y2="433.60" stroke="#555" stroke-width="0.4" />
<line x1="327.92" y1="432.60" x2="327.92" y2="433.60" stroke="#555" stroke-width="0.4" />
<line x1="328.91" y1="432.60" x2="328.91" y2="433.60" stroke="#555" stroke-width="0.4" />
<line x1="329.77" y1="432.60" x2="329.77" y2="433.60" stroke="#555" stroke-width="0.4" />
<line x1="330.52" y1="432.60" x2="330.52" y2="433.60" stroke="#555" stroke-width="0.4" />
<line x1="335.66" y1="432.60" x2="335.66" y2="433.60" stroke="#555" stroke-width="0.4" />
<line x1="338.26" y1="432.60" x2="338.26" y2="433.60" stroke="#555" stroke-width="0.4" />
<line x1="340.11" y1="432.60" x2="340.11" y2="433.60" stroke="#555" stroke-width="0.4" />
<line x1="341.54" y1="432.60" x2="341.54" y2="433.60" stroke="#555" stroke-width="0.4" />
<line x1="342.72" y1="432.60" x2="342.72" y2="433.60" stroke="#555" stroke-width="0.4" />
<line x1="343.71" y1="432.60" x2="343.71" y2="433.60" stroke="#555" stroke-width="0.4" />
<line x1="344.57" y1="432.60" x2="344.57" y2="433.60" stroke="#555" stroke-width="0.4" />
<line x1="345.32" y1="432.60" x2="345.32" y2="433.60" stroke="#555" stroke-width="0.4" />
<line x1="350.46" y1="432.60" x2="350.46" y2="433.60" stroke="#555" stroke-width="0.4" />
<line x1="353.06" y1="432.60" x2="353.06" y2="433.60" stroke="#555" stroke-width="0.4" />
<line x1="354.91" y1="432.60" x2="354.91" y2="433.60" stroke="#555" stroke-width="0.4" />
<line x1="356.34" y1="432.60" x2="356.34" y2="433.60" stroke="#555" stroke-width="0.4" />
<line x1="357.52" y1="432.60" x2="357.52" y2="433.60" stroke="#555" stroke-width="0.4" />
<line x1="358.51" y1="432.60" x2="358.51" y2="433.60" stroke="#555" stroke-width="0.4" />
<line x1="359.37" y1="432.60" x2="359.37" y2="433.60" stroke="#555" stroke-width="0.4" />
<line x1="360.12" y1="432.60" x2="360.12" y2="433.60" stroke="#555" stroke-width="0.4" />
<line x1="365.26" y1="432.60" x2="365.26" y2="433.60" stroke="#555" stroke-width="0.4" />
<line x1="367.86" y1="432.60" x2="367.86" y2="433.60" stroke="#555" stroke-width="0.4" />
<line x1="369.71" y1="432.60" x2="369.71" y2="433.60" stroke="#555" stroke-width="0.4" />
<line x1="371.14" y1="432.60" x2="371.14" y2="433.60" stroke="#555" stroke-width="0.4" />
<line x1="372.32" y1="432.60" x2="372.32" y2="433.60" stroke="#555" stroke-width="0.4" />
<line x1="373.31" y1="432.60" x2="373.31" y2="433.60" stroke="#555" stroke-width="0.4" />
<line x1="374.17" y1="432.60" x2="374.17" y2="433.60" stroke="#555" stroke-width="0.4" />
<line x1="374.92" y1="432.60" x2="374.92" y2="433.60" stroke="#555" stroke-width="0.4" />
<text x="344.9" y="447.9" font-size="6.3" text-anchor="middle" fill="#222"><tspan font-weight="bold">PHA-739358</tspan> (µmol/L)</text>
<text transform="translate(295.0,396.0) rotate(-90)" font-size="7" font-weight="bold" text-anchor="middle" fill="#111">% Cell viability</text>
<polyline points="316.40,373.56 317.14,373.56 317.88,373.56 318.62,373.56 319.36,373.57 320.10,373.57 320.84,373.57 321.58,373.57 322.32,373.57 323.06,373.57 323.80,373.57 324.54,373.58 325.28,373.58 326.02,373.58 326.76,373.59 327.50,373.59 328.24,373.60 328.98,373.60 329.72,373.61 330.46,373.62 331.20,373.63 331.94,373.64 332.68,373.65 333.42,373.67 334.16,373.69 334.90,373.71 335.64,373.74 336.38,373.77 337.12,373.81 337.86,373.85 338.60,373.90 339.34,373.96 340.08,374.03 340.82,374.11 341.56,374.20 342.30,374.31 343.04,374.44 343.78,374.59 344.52,374.77 345.26,374.97 346.00,375.21 346.74,375.48 347.48,375.80 348.22,376.17 348.96,376.60 349.70,377.08 350.44,377.64 351.18,378.28 351.92,379.00 352.66,379.81 353.40,380.72 354.14,381.74 354.88,382.86 355.62,384.08 356.36,385.42 357.10,386.85 357.84,388.38 358.58,389.98 359.32,391.65 360.06,393.35 360.80,395.09 361.54,396.82 362.28,398.52 363.02,400.19 363.76,401.79 364.50,403.32 365.24,404.75 365.98,406.09 366.72,407.31 367.46,408.43 368.20,409.45 368.94,410.36 369.68,411.17 370.42,411.89 371.16,412.53 371.90,413.09 372.64,413.57 373.38,414.00 374.12,414.37 374.86,414.69 375.60,414.96" fill="none" stroke="#000" stroke-width="1.3"/>
<line x1="316.40" y1="371.71" x2="316.40" y2="374.36" stroke="#000" stroke-width="0.5" />
<line x1="315.60" y1="371.71" x2="317.20" y2="371.71" stroke="#000" stroke-width="0.5" />
<circle cx="316.40" cy="373.04" r="1.7" fill="#000"/>
<line x1="323.46" y1="369.53" x2="323.46" y2="375.39" stroke="#000" stroke-width="0.5" />
<line x1="322.66" y1="369.53" x2="324.26" y2="369.53" stroke="#000" stroke-width="0.5" />
<circle cx="323.46" cy="372.46" r="1.7" fill="#000"/>
<line x1="331.20" y1="370.25" x2="331.20" y2="374.52" stroke="#000" stroke-width="0.5" />
<line x1="330.40" y1="370.25" x2="332.00" y2="370.25" stroke="#000" stroke-width="0.5" />
<circle cx="331.20" cy="372.38" r="1.7" fill="#000"/>
<line x1="338.26" y1="371.80" x2="338.26" y2="374.64" stroke="#000" stroke-width="0.5" />
<line x1="337.46" y1="371.80" x2="339.06" y2="371.80" stroke="#000" stroke-width="0.5" />
<circle cx="338.26" cy="373.22" r="1.7" fill="#000"/>
<line x1="346.00" y1="372.04" x2="346.00" y2="376.34" stroke="#000" stroke-width="0.5" />
<line x1="345.20" y1="372.04" x2="346.80" y2="372.04" stroke="#000" stroke-width="0.5" />
<circle cx="346.00" cy="374.19" r="1.7" fill="#000"/>
<line x1="353.06" y1="379.83" x2="353.06" y2="382.08" stroke="#000" stroke-width="0.5" />
<line x1="352.26" y1="379.83" x2="353.86" y2="379.83" stroke="#000" stroke-width="0.5" />
<circle cx="353.06" cy="380.95" r="1.7" fill="#000"/>
<line x1="360.80" y1="391.02" x2="360.80" y2="396.98" stroke="#000" stroke-width="0.5" />
<line x1="360.00" y1="391.02" x2="361.60" y2="391.02" stroke="#000" stroke-width="0.5" />
<circle cx="360.80" cy="394.00" r="1.7" fill="#000"/>
<line x1="367.86" y1="407.66" x2="367.86" y2="412.86" stroke="#000" stroke-width="0.5" />
<line x1="367.06" y1="407.66" x2="368.66" y2="407.66" stroke="#000" stroke-width="0.5" />
<circle cx="367.86" cy="410.26" r="1.7" fill="#000"/>
<line x1="375.60" y1="413.94" x2="375.60" y2="416.54" stroke="#000" stroke-width="0.5" />
<line x1="374.80" y1="413.94" x2="376.40" y2="413.94" stroke="#000" stroke-width="0.5" />
<circle cx="375.60" cy="415.24" r="1.7" fill="#000"/>
<polyline points="316.40,372.95 317.14,372.95 317.88,372.95 318.62,372.95 319.36,372.95 320.10,372.95 320.84,372.95 321.58,372.95 322.32,372.95 323.06,372.95 323.80,372.95 324.54,372.95 325.28,372.96 326.02,372.96 326.76,372.96 327.50,372.97 328.24,372.98 328.98,372.98 329.72,372.99 330.46,373.01 331.20,373.02 331.94,373.04 332.68,373.07 333.42,373.10 334.16,373.14 334.90,373.19 335.64,373.25 336.38,373.33 337.12,373.42 337.86,373.55 338.60,373.70 339.34,373.89 340.08,374.13 340.82,374.43 341.56,374.80 342.30,375.26 343.04,375.82 343.78,376.51 344.52,377.34 345.26,378.35 346.00,379.56 346.74,380.99 347.48,382.65 348.22,384.55 348.96,386.70 349.70,389.06 350.44,391.61 351.18,394.29 351.92,397.04 352.66,399.79 353.40,402.47 354.14,405.00 354.88,407.35 355.62,409.47 356.36,411.36 357.10,413.00 357.84,414.41 358.58,415.60 359.32,416.59 360.06,417.42 360.80,418.09 361.54,418.65 362.28,419.10 363.02,419.46 363.76,419.75 364.50,419.99 365.24,420.17 365.98,420.32 366.72,420.44 367.46,420.54 368.20,420.62 368.94,420.68 369.68,420.73 370.42,420.77 371.16,420.80 371.90,420.82 372.64,420.84 373.38,420.86 374.12,420.87 374.86,420.88 375.60,420.89" fill="none" stroke="#d8283a" stroke-width="1.3"/>
<line x1="316.40" y1="371.04" x2="316.40" y2="376.12" stroke="#d8283a" stroke-width="0.5" />
<line x1="315.60" y1="371.04" x2="317.20" y2="371.04" stroke="#d8283a" stroke-width="0.5" />
<rect x="314.80" y="371.98" width="3.2" height="3.2" fill="#d8283a"/>
<line x1="323.46" y1="370.72" x2="323.46" y2="372.89" stroke="#d8283a" stroke-width="0.5" />
<line x1="322.66" y1="370.72" x2="324.26" y2="370.72" stroke="#d8283a" stroke-width="0.5" />
<rect x="321.86" y="370.21" width="3.2" height="3.2" fill="#d8283a"/>
<line x1="331.20" y1="371.58" x2="331.20" y2="373.76" stroke="#d8283a" stroke-width="0.5" />
<line x1="330.40" y1="371.58" x2="332.00" y2="371.58" stroke="#d8283a" stroke-width="0.5" />
<rect x="329.60" y="371.07" width="3.2" height="3.2" fill="#d8283a"/>
<line x1="338.26" y1="371.29" x2="338.26" y2="374.62" stroke="#d8283a" stroke-width="0.5" />
<line x1="337.46" y1="371.29" x2="339.06" y2="371.29" stroke="#d8283a" stroke-width="0.5" />
<rect x="336.66" y="371.35" width="3.2" height="3.2" fill="#d8283a"/>
<line x1="346.00" y1="375.43" x2="346.00" y2="381.35" stroke="#d8283a" stroke-width="0.5" />
<line x1="345.20" y1="375.43" x2="346.80" y2="375.43" stroke="#d8283a" stroke-width="0.5" />
<rect x="344.40" y="376.79" width="3.2" height="3.2" fill="#d8283a"/>
<line x1="353.06" y1="398.24" x2="353.06" y2="404.24" stroke="#d8283a" stroke-width="0.5" />
<line x1="352.26" y1="398.24" x2="353.86" y2="398.24" stroke="#d8283a" stroke-width="0.5" />
<rect x="351.46" y="399.64" width="3.2" height="3.2" fill="#d8283a"/>
<line x1="360.80" y1="417.52" x2="360.80" y2="419.83" stroke="#d8283a" stroke-width="0.5" />
<line x1="360.00" y1="417.52" x2="361.60" y2="417.52" stroke="#d8283a" stroke-width="0.5" />
<rect x="359.20" y="417.08" width="3.2" height="3.2" fill="#d8283a"/>
<line x1="367.86" y1="419.21" x2="367.86" y2="421.34" stroke="#d8283a" stroke-width="0.5" />
<line x1="367.06" y1="419.21" x2="368.66" y2="419.21" stroke="#d8283a" stroke-width="0.5" />
<rect x="366.26" y="418.68" width="3.2" height="3.2" fill="#d8283a"/>
<line x1="375.60" y1="420.00" x2="375.60" y2="423.63" stroke="#d8283a" stroke-width="0.5" />
<line x1="374.80" y1="420.00" x2="376.40" y2="420.00" stroke="#d8283a" stroke-width="0.5" />
<rect x="374.00" y="420.22" width="3.2" height="3.2" fill="#d8283a"/>
<polyline points="316.40,374.18 317.14,374.18 317.88,374.18 318.62,374.19 319.36,374.19 320.10,374.19 320.84,374.20 321.58,374.20 322.32,374.21 323.06,374.21 323.80,374.22 324.54,374.23 325.28,374.25 326.02,374.26 326.76,374.28 327.50,374.31 328.24,374.34 328.98,374.37 329.72,374.42 330.46,374.47 331.20,374.54 331.94,374.63 332.68,374.73 333.42,374.86 334.16,375.01 334.90,375.20 335.64,375.43 336.38,375.71 337.12,376.05 337.86,376.46 338.60,376.95 339.34,377.55 340.08,378.26 340.82,379.11 341.56,380.10 342.30,381.27 343.04,382.62 343.78,384.17 344.52,385.91 345.26,387.85 346.00,389.98 346.74,392.26 347.48,394.67 348.22,397.16 348.96,399.67 349.70,402.16 350.44,404.57 351.18,406.86 351.92,408.99 352.66,410.94 353.40,412.70 354.14,414.25 354.88,415.61 355.62,416.78 356.36,417.79 357.10,418.64 357.84,419.36 358.58,419.96 359.32,420.46 360.06,420.87 360.80,421.21 361.54,421.50 362.28,421.73 363.02,421.92 363.76,422.07 364.50,422.20 365.24,422.30 365.98,422.39 366.72,422.46 367.46,422.51 368.20,422.56 368.94,422.60 369.68,422.63 370.42,422.65 371.16,422.67 371.90,422.69 372.64,422.70 373.38,422.71 374.12,422.72 374.86,422.73 375.60,422.73" fill="none" stroke="#3055a8" stroke-width="1.3"/>
<line x1="316.40" y1="372.53" x2="316.40" y2="375.15" stroke="#3055a8" stroke-width="0.5" />
<line x1="315.60" y1="372.53" x2="317.20" y2="372.53" stroke="#3055a8" stroke-width="0.5" />
<polygon points="316.40,371.84 314.60,375.24 318.20,375.24" fill="#3055a8"/>
<line x1="323.46" y1="372.89" x2="323.46" y2="378.36" stroke="#3055a8" stroke-width="0.5" />
<line x1="322.66" y1="372.89" x2="324.26" y2="372.89" stroke="#3055a8" stroke-width="0.5" />
<polygon points="323.46,373.62 321.66,377.02 325.26,377.02" fill="#3055a8"/>
<line x1="331.20" y1="372.20" x2="331.20" y2="378.03" stroke="#3055a8" stroke-width="0.5" />
<line x1="330.40" y1="372.20" x2="332.00" y2="372.20" stroke="#3055a8" stroke-width="0.5" />
<polygon points="331.20,373.12 329.40,376.52 333.00,376.52" fill="#3055a8"/>
<line x1="338.26" y1="373.74" x2="338.26" y2="377.25" stroke="#3055a8" stroke-width="0.5" />
<line x1="337.46" y1="373.74" x2="339.06" y2="373.74" stroke="#3055a8" stroke-width="0.5" />
<polygon points="338.26,373.50 336.46,376.90 340.06,376.90" fill="#3055a8"/>
<line x1="346.00" y1="388.06" x2="346.00" y2="392.14" stroke="#3055a8" stroke-width="0.5" />
<line x1="345.20" y1="388.06" x2="346.80" y2="388.06" stroke="#3055a8" stroke-width="0.5" />
<polygon points="346.00,388.10 344.20,391.50 347.80,391.50" fill="#3055a8"/>
<line x1="353.06" y1="409.29" x2="353.06" y2="413.67" stroke="#3055a8" stroke-width="0.5" />
<line x1="352.26" y1="409.29" x2="353.86" y2="409.29" stroke="#3055a8" stroke-width="0.5" />
<polygon points="353.06,409.48 351.26,412.88 354.86,412.88" fill="#3055a8"/>
<line x1="360.80" y1="418.79" x2="360.80" y2="423.27" stroke="#3055a8" stroke-width="0.5" />
<line x1="360.00" y1="418.79" x2="361.60" y2="418.79" stroke="#3055a8" stroke-width="0.5" />
<polygon points="360.80,419.03 359.00,422.43 362.60,422.43" fill="#3055a8"/>
<line x1="367.86" y1="419.17" x2="367.86" y2="423.20" stroke="#3055a8" stroke-width="0.5" />
<line x1="367.06" y1="419.17" x2="368.66" y2="419.17" stroke="#3055a8" stroke-width="0.5" />
<polygon points="367.86,419.18 366.06,422.58 369.66,422.58" fill="#3055a8"/>
<line x1="375.60" y1="420.51" x2="375.60" y2="425.39" stroke="#3055a8" stroke-width="0.5" />
<line x1="374.80" y1="420.51" x2="376.40" y2="420.51" stroke="#3055a8" stroke-width="0.5" />
<polygon points="375.60,420.95 373.80,424.35 377.40,424.35" fill="#3055a8"/>
<line x1="411.10" y1="363.60" x2="411.10" y2="433.40" stroke="#333" stroke-width="0.7" />
<line x1="411.10" y1="433.40" x2="479.30" y2="433.40" stroke="#333" stroke-width="0.7" />
<line x1="409.10" y1="433.40" x2="411.10" y2="433.40" stroke="#333" stroke-width="0.6" />
<text x="408.70" y="435.50" font-size="5.8" text-anchor="end" font-weight="bold" fill="#222" >20</text>
<line x1="409.10" y1="418.60" x2="411.10" y2="418.60" stroke="#333" stroke-width="0.6" />
<text x="408.70" y="420.70" font-size="5.8" text-anchor="end" font-weight="bold" fill="#222" >40</text>
<line x1="409.10" y1="403.80" x2="411.10" y2="403.80" stroke="#333" stroke-width="0.6" />
<text x="408.70" y="405.90" font-size="5.8" text-anchor="end" font-weight="bold" fill="#222" >60</text>
<line x1="409.10" y1="389.00" x2="411.10" y2="389.00" stroke="#333" stroke-width="0.6" />
<text x="408.70" y="391.10" font-size="5.8" text-anchor="end" font-weight="bold" fill="#222" >80</text>
<line x1="409.10" y1="374.20" x2="411.10" y2="374.20" stroke="#333" stroke-width="0.6" />
<text x="408.70" y="376.30" font-size="5.8" text-anchor="end" font-weight="bold" fill="#222" >100</text>
<line x1="417.30" y1="433.40" x2="417.30" y2="435.40" stroke="#333" stroke-width="0.6" />
<text x="417.30" y="441.20" font-size="5.8" text-anchor="middle" font-weight="bold" fill="#222" >0.001</text>
<line x1="432.30" y1="433.40" x2="432.30" y2="435.40" stroke="#333" stroke-width="0.6" />
<text x="432.30" y="441.20" font-size="5.8" text-anchor="middle" font-weight="bold" fill="#222" >0.01</text>
<line x1="447.30" y1="433.40" x2="447.30" y2="435.40" stroke="#333" stroke-width="0.6" />
<text x="447.30" y="441.20" font-size="5.8" text-anchor="middle" font-weight="bold" fill="#222" >0.1</text>
<line x1="462.30" y1="433.40" x2="462.30" y2="435.40" stroke="#333" stroke-width="0.6" />
<text x="462.30" y="441.20" font-size="5.8" text-anchor="middle" font-weight="bold" fill="#222" >1</text>
<line x1="477.30" y1="433.40" x2="477.30" y2="435.40" stroke="#333" stroke-width="0.6" />
<text x="477.30" y="441.20" font-size="5.8" text-anchor="middle" font-weight="bold" fill="#222" >10</text>
<line x1="421.82" y1="433.40" x2="421.82" y2="434.40" stroke="#555" stroke-width="0.4" />
<line x1="424.46" y1="433.40" x2="424.46" y2="434.40" stroke="#555" stroke-width="0.4" />
<line x1="426.33" y1="433.40" x2="426.33" y2="434.40" stroke="#555" stroke-width="0.4" />
<line x1="427.78" y1="433.40" x2="427.78" y2="434.40" stroke="#555" stroke-width="0.4" />
<line x1="428.97" y1="433.40" x2="428.97" y2="434.40" stroke="#555" stroke-width="0.4" />
<line x1="429.98" y1="433.40" x2="429.98" y2="434.40" stroke="#555" stroke-width="0.4" />
<line x1="430.85" y1="433.40" x2="430.85" y2="434.40" stroke="#555" stroke-width="0.4" />
<line x1="431.61" y1="433.40" x2="431.61" y2="434.40" stroke="#555" stroke-width="0.4" />
<line x1="436.82" y1="433.40" x2="436.82" y2="434.40" stroke="#555" stroke-width="0.4" />
<line x1="439.46" y1="433.40" x2="439.46" y2="434.40" stroke="#555" stroke-width="0.4" />
<line x1="441.33" y1="433.40" x2="441.33" y2="434.40" stroke="#555" stroke-width="0.4" />
<line x1="442.78" y1="433.40" x2="442.78" y2="434.40" stroke="#555" stroke-width="0.4" />
<line x1="443.97" y1="433.40" x2="443.97" y2="434.40" stroke="#555" stroke-width="0.4" />
<line x1="444.98" y1="433.40" x2="444.98" y2="434.40" stroke="#555" stroke-width="0.4" />
<line x1="445.85" y1="433.40" x2="445.85" y2="434.40" stroke="#555" stroke-width="0.4" />
<line x1="446.61" y1="433.40" x2="446.61" y2="434.40" stroke="#555" stroke-width="0.4" />
<line x1="451.82" y1="433.40" x2="451.82" y2="434.40" stroke="#555" stroke-width="0.4" />
<line x1="454.46" y1="433.40" x2="454.46" y2="434.40" stroke="#555" stroke-width="0.4" />
<line x1="456.33" y1="433.40" x2="456.33" y2="434.40" stroke="#555" stroke-width="0.4" />
<line x1="457.78" y1="433.40" x2="457.78" y2="434.40" stroke="#555" stroke-width="0.4" />
<line x1="458.97" y1="433.40" x2="458.97" y2="434.40" stroke="#555" stroke-width="0.4" />
<line x1="459.98" y1="433.40" x2="459.98" y2="434.40" stroke="#555" stroke-width="0.4" />
<line x1="460.85" y1="433.40" x2="460.85" y2="434.40" stroke="#555" stroke-width="0.4" />
<line x1="461.61" y1="433.40" x2="461.61" y2="434.40" stroke="#555" stroke-width="0.4" />
<line x1="466.82" y1="433.40" x2="466.82" y2="434.40" stroke="#555" stroke-width="0.4" />
<line x1="469.46" y1="433.40" x2="469.46" y2="434.40" stroke="#555" stroke-width="0.4" />
<line x1="471.33" y1="433.40" x2="471.33" y2="434.40" stroke="#555" stroke-width="0.4" />
<line x1="472.78" y1="433.40" x2="472.78" y2="434.40" stroke="#555" stroke-width="0.4" />
<line x1="473.97" y1="433.40" x2="473.97" y2="434.40" stroke="#555" stroke-width="0.4" />
<line x1="474.98" y1="433.40" x2="474.98" y2="434.40" stroke="#555" stroke-width="0.4" />
<line x1="475.85" y1="433.40" x2="475.85" y2="434.40" stroke="#555" stroke-width="0.4" />
<line x1="476.61" y1="433.40" x2="476.61" y2="434.40" stroke="#555" stroke-width="0.4" />
<text x="446.2" y="448.7" font-size="5.85" text-anchor="middle" fill="#222"><tspan font-weight="bold">Gemcitabine</tspan> (µmol/L)</text>
<text transform="translate(396.0,394.2) rotate(-90)" font-size="7" font-weight="bold" text-anchor="middle" fill="#111">% Cell viability</text>
<polyline points="417.30,373.46 418.05,373.46 418.80,373.46 419.55,373.46 420.30,373.46 421.05,373.46 421.80,373.46 422.55,373.46 423.30,373.46 424.05,373.46 424.80,373.46 425.55,373.46 426.30,373.46 427.05,373.47 427.80,373.47 428.55,373.48 429.30,373.50 430.05,373.53 430.80,373.59 431.55,373.68 432.30,373.86 433.05,374.16 433.80,374.69 434.55,375.60 435.30,377.14 436.05,379.63 436.80,383.42 437.55,388.67 438.30,395.10 439.05,401.85 439.80,407.89 440.55,412.56 441.30,415.79 442.05,417.85 442.80,419.11 443.55,419.84 444.30,420.26 445.05,420.51 445.80,420.64 446.55,420.72 447.30,420.76 448.05,420.79 448.80,420.80 449.55,420.81 450.30,420.81 451.05,420.82 451.80,420.82 452.55,420.82 453.30,420.82 454.05,420.82 454.80,420.82 455.55,420.82 456.30,420.82 457.05,420.82 457.80,420.82 458.55,420.82 459.30,420.82 460.05,420.82 460.80,420.82 461.55,420.82 462.30,420.82 463.05,420.82 463.80,420.82 464.55,420.82 465.30,420.82 466.05,420.82 466.80,420.82 467.55,420.82 468.30,420.82 469.05,420.82 469.80,420.82 470.55,420.82 471.30,420.82 472.05,420.82 472.80,420.82 473.55,420.82 474.30,420.82 475.05,420.82 475.80,420.82 476.55,420.82 477.30,420.82" fill="none" stroke="#000" stroke-width="1.3"/>
<line x1="417.30" y1="372.83" x2="417.30" y2="376.03" stroke="#000" stroke-width="0.5" />
<line x1="416.50" y1="372.83" x2="418.10" y2="372.83" stroke="#000" stroke-width="0.5" />
<circle cx="417.30" cy="374.43" r="1.7" fill="#000"/>
<line x1="424.46" y1="369.65" x2="424.46" y2="373.74" stroke="#000" stroke-width="0.5" />
<line x1="423.66" y1="369.65" x2="425.26" y2="369.65" stroke="#000" stroke-width="0.5" />
<circle cx="424.46" cy="371.69" r="1.7" fill="#000"/>
<line x1="432.30" y1="372.65" x2="432.30" y2="374.70" stroke="#000" stroke-width="0.5" />
<line x1="431.50" y1="372.65" x2="433.10" y2="372.65" stroke="#000" stroke-width="0.5" />
<circle cx="432.30" cy="373.68" r="1.7" fill="#000"/>
<line x1="439.46" y1="403.42" x2="439.46" y2="407.74" stroke="#000" stroke-width="0.5" />
<line x1="438.66" y1="403.42" x2="440.26" y2="403.42" stroke="#000" stroke-width="0.5" />
<circle cx="439.46" cy="405.58" r="1.7" fill="#000"/>
<line x1="447.30" y1="420.31" x2="447.30" y2="424.77" stroke="#000" stroke-width="0.5" />
<line x1="446.50" y1="420.31" x2="448.10" y2="420.31" stroke="#000" stroke-width="0.5" />
<circle cx="447.30" cy="422.54" r="1.7" fill="#000"/>
<line x1="454.46" y1="419.21" x2="454.46" y2="421.45" stroke="#000" stroke-width="0.5" />
<line x1="453.66" y1="419.21" x2="455.26" y2="419.21" stroke="#000" stroke-width="0.5" />
<circle cx="454.46" cy="420.33" r="1.7" fill="#000"/>
<line x1="462.30" y1="418.42" x2="462.30" y2="422.28" stroke="#000" stroke-width="0.5" />
<line x1="461.50" y1="418.42" x2="463.10" y2="418.42" stroke="#000" stroke-width="0.5" />
<circle cx="462.30" cy="420.35" r="1.7" fill="#000"/>
<line x1="469.46" y1="418.45" x2="469.46" y2="421.86" stroke="#000" stroke-width="0.5" />
<line x1="468.66" y1="418.45" x2="470.26" y2="418.45" stroke="#000" stroke-width="0.5" />
<circle cx="469.46" cy="420.16" r="1.7" fill="#000"/>
<line x1="477.30" y1="417.58" x2="477.30" y2="422.53" stroke="#000" stroke-width="0.5" />
<line x1="476.50" y1="417.58" x2="478.10" y2="417.58" stroke="#000" stroke-width="0.5" />
<circle cx="477.30" cy="420.05" r="1.7" fill="#000"/>
<polyline points="417.30,375.95 418.05,376.02 418.80,376.09 419.55,376.19 420.30,376.30 421.05,376.44 421.80,376.61 422.55,376.82 423.30,377.08 424.05,377.39 424.80,377.77 425.55,378.22 426.30,378.76 427.05,379.41 427.80,380.19 428.55,381.10 429.30,382.17 430.05,383.41 430.80,384.83 431.55,386.43 432.30,388.22 433.05,390.18 433.80,392.29 434.55,394.52 435.30,396.83 436.05,399.16 436.80,401.48 437.55,403.73 438.30,405.87 439.05,407.86 439.80,409.69 440.55,411.34 441.30,412.80 442.05,414.07 442.80,415.18 443.55,416.12 444.30,416.93 445.05,417.60 445.80,418.17 446.55,418.64 447.30,419.03 448.05,419.36 448.80,419.62 449.55,419.84 450.30,420.02 451.05,420.17 451.80,420.29 452.55,420.39 453.30,420.47 454.05,420.53 454.80,420.59 455.55,420.63 456.30,420.67 457.05,420.69 457.80,420.72 458.55,420.74 459.30,420.75 460.05,420.77 460.80,420.78 461.55,420.78 462.30,420.79 463.05,420.80 463.80,420.80 464.55,420.80 465.30,420.81 466.05,420.81 466.80,420.81 467.55,420.81 468.30,420.81 469.05,420.82 469.80,420.82 470.55,420.82 471.30,420.82 472.05,420.82 472.80,420.82 473.55,420.82 474.30,420.82 475.05,420.82 475.80,420.82 476.55,420.82 477.30,420.82" fill="none" stroke="#d8283a" stroke-width="1.3"/>
<line x1="417.30" y1="376.60" x2="417.30" y2="378.84" stroke="#d8283a" stroke-width="0.5" />
<line x1="416.50" y1="376.60" x2="418.10" y2="376.60" stroke="#d8283a" stroke-width="0.5" />
<rect x="415.70" y="376.12" width="3.2" height="3.2" fill="#d8283a"/>
<line x1="424.46" y1="374.01" x2="424.46" y2="379.86" stroke="#d8283a" stroke-width="0.5" />
<line x1="423.66" y1="374.01" x2="425.26" y2="374.01" stroke="#d8283a" stroke-width="0.5" />
<rect x="422.86" y="375.33" width="3.2" height="3.2" fill="#d8283a"/>
<line x1="432.30" y1="387.23" x2="432.30" y2="391.06" stroke="#d8283a" stroke-width="0.5" />
<line x1="431.50" y1="387.23" x2="433.10" y2="387.23" stroke="#d8283a" stroke-width="0.5" />
<rect x="430.70" y="387.54" width="3.2" height="3.2" fill="#d8283a"/>
<line x1="439.46" y1="406.89" x2="439.46" y2="410.17" stroke="#d8283a" stroke-width="0.5" />
<line x1="438.66" y1="406.89" x2="440.26" y2="406.89" stroke="#d8283a" stroke-width="0.5" />
<rect x="437.86" y="406.93" width="3.2" height="3.2" fill="#d8283a"/>
<line x1="447.30" y1="417.91" x2="447.30" y2="421.16" stroke="#d8283a" stroke-width="0.5" />
<line x1="446.50" y1="417.91" x2="448.10" y2="417.91" stroke="#d8283a" stroke-width="0.5" />
<rect x="445.70" y="417.94" width="3.2" height="3.2" fill="#d8283a"/>
<line x1="454.46" y1="418.86" x2="454.46" y2="423.24" stroke="#d8283a" stroke-width="0.5" />
<line x1="453.66" y1="418.86" x2="455.26" y2="418.86" stroke="#d8283a" stroke-width="0.5" />
<rect x="452.86" y="419.45" width="3.2" height="3.2" fill="#d8283a"/>
<line x1="462.30" y1="419.77" x2="462.30" y2="423.28" stroke="#d8283a" stroke-width="0.5" />
<line x1="461.50" y1="419.77" x2="463.10" y2="419.77" stroke="#d8283a" stroke-width="0.5" />
<rect x="460.70" y="419.93" width="3.2" height="3.2" fill="#d8283a"/>
<line x1="469.46" y1="418.75" x2="469.46" y2="420.86" stroke="#d8283a" stroke-width="0.5" />
<line x1="468.66" y1="418.75" x2="470.26" y2="418.75" stroke="#d8283a" stroke-width="0.5" />
<rect x="467.86" y="418.21" width="3.2" height="3.2" fill="#d8283a"/>
<line x1="477.30" y1="418.09" x2="477.30" y2="423.03" stroke="#d8283a" stroke-width="0.5" />
<line x1="476.50" y1="418.09" x2="478.10" y2="418.09" stroke="#d8283a" stroke-width="0.5" />
<rect x="475.70" y="418.96" width="3.2" height="3.2" fill="#d8283a"/>
<polyline points="417.30,375.04 418.05,375.07 418.80,375.10 419.55,375.15 420.30,375.20 421.05,375.27 421.80,375.35 422.55,375.45 423.30,375.58 424.05,375.75 424.80,375.95 425.55,376.20 426.30,376.52 427.05,376.91 427.80,377.39 428.55,377.98 429.30,378.69 430.05,379.55 430.80,380.59 431.55,381.81 432.30,383.23 433.05,384.86 433.80,386.70 434.55,388.73 435.30,390.93 436.05,393.24 436.80,395.61 437.55,397.99 438.30,400.30 439.05,402.50 439.80,404.54 440.55,406.39 441.30,408.03 442.05,409.46 442.80,410.69 443.55,411.73 444.30,412.60 445.05,413.32 445.80,413.91 446.55,414.39 447.30,414.79 448.05,415.10 448.80,415.36 449.55,415.57 450.30,415.73 451.05,415.86 451.80,415.97 452.55,416.05 453.30,416.12 454.05,416.17 454.80,416.21 455.55,416.25 456.30,416.28 457.05,416.30 457.80,416.31 458.55,416.33 459.30,416.34 460.05,416.35 460.80,416.35 461.55,416.36 462.30,416.36 463.05,416.37 463.80,416.37 464.55,416.37 465.30,416.37 466.05,416.37 466.80,416.38 467.55,416.38 468.30,416.38 469.05,416.38 469.80,416.38 470.55,416.38 471.30,416.38 472.05,416.38 472.80,416.38 473.55,416.38 474.30,416.38 475.05,416.38 475.80,416.38 476.55,416.38 477.30,416.38" fill="none" stroke="#3055a8" stroke-width="1.3"/>
<line x1="417.30" y1="374.30" x2="417.30" y2="377.19" stroke="#3055a8" stroke-width="0.5" />
<line x1="416.50" y1="374.30" x2="418.10" y2="374.30" stroke="#3055a8" stroke-width="0.5" />
<polygon points="417.30,373.75 415.50,377.15 419.10,377.15" fill="#3055a8"/>
<line x1="424.46" y1="373.25" x2="424.46" y2="376.21" stroke="#3055a8" stroke-width="0.5" />
<line x1="423.66" y1="373.25" x2="425.26" y2="373.25" stroke="#3055a8" stroke-width="0.5" />
<polygon points="424.46,372.73 422.66,376.13 426.26,376.13" fill="#3055a8"/>
<line x1="432.30" y1="382.51" x2="432.30" y2="386.26" stroke="#3055a8" stroke-width="0.5" />
<line x1="431.50" y1="382.51" x2="433.10" y2="382.51" stroke="#3055a8" stroke-width="0.5" />
<polygon points="432.30,382.38 430.50,385.78 434.10,385.78" fill="#3055a8"/>
<line x1="439.46" y1="401.69" x2="439.46" y2="404.10" stroke="#3055a8" stroke-width="0.5" />
<line x1="438.66" y1="401.69" x2="440.26" y2="401.69" stroke="#3055a8" stroke-width="0.5" />
<polygon points="439.46,400.90 437.66,404.30 441.26,404.30" fill="#3055a8"/>
<line x1="447.30" y1="413.78" x2="447.30" y2="417.11" stroke="#3055a8" stroke-width="0.5" />
<line x1="446.50" y1="413.78" x2="448.10" y2="413.78" stroke="#3055a8" stroke-width="0.5" />
<polygon points="447.30,413.44 445.50,416.84 449.10,416.84" fill="#3055a8"/>
<line x1="454.46" y1="413.09" x2="454.46" y2="416.84" stroke="#3055a8" stroke-width="0.5" />
<line x1="453.66" y1="413.09" x2="455.26" y2="413.09" stroke="#3055a8" stroke-width="0.5" />
<polygon points="454.46,412.96 452.66,416.36 456.26,416.36" fill="#3055a8"/>
<line x1="462.30" y1="413.71" x2="462.30" y2="416.39" stroke="#3055a8" stroke-width="0.5" />
<line x1="461.50" y1="413.71" x2="463.10" y2="413.71" stroke="#3055a8" stroke-width="0.5" />
<polygon points="462.30,413.05 460.50,416.45 464.10,416.45" fill="#3055a8"/>
<line x1="469.46" y1="414.68" x2="469.46" y2="419.28" stroke="#3055a8" stroke-width="0.5" />
<line x1="468.66" y1="414.68" x2="470.26" y2="414.68" stroke="#3055a8" stroke-width="0.5" />
<polygon points="469.46,414.98 467.66,418.38 471.26,418.38" fill="#3055a8"/>
<line x1="477.30" y1="413.05" x2="477.30" y2="416.86" stroke="#3055a8" stroke-width="0.5" />
<line x1="476.50" y1="413.05" x2="478.10" y2="413.05" stroke="#3055a8" stroke-width="0.5" />
<polygon points="477.30,412.96 475.50,416.36 479.10,416.36" fill="#3055a8"/>
<text x="242.8" y="363.4" font-size="7" font-weight="bold" text-anchor="middle" fill="#111" text-decoration="underline">MDA-MB-231</text>
<line x1="446.80" y1="378.50" x2="456.00" y2="378.50" stroke="#000" stroke-width="1.3" />
<circle cx="451.4" cy="378.5" r="1.7" fill="#000"/>
<text x="460.00" y="380.80" font-size="6.4" text-anchor="start" font-weight="bold" fill="#111" >DMSO</text>
<line x1="446.80" y1="386.30" x2="456.00" y2="386.30" stroke="#d8283a" stroke-width="1.3" />
<rect x="450.0" y="384.90000000000003" width="2.8" height="2.8" fill="#d8283a"/>
<text x="460.0" y="388.60" font-size="6.4" fill="#111"><tspan font-weight="bold">R428</tspan> (1 µmol/L)</text>
<line x1="446.80" y1="394.10" x2="456.00" y2="394.10" stroke="#3055a8" stroke-width="1.3" />
<polygon points="451.4,392.40000000000003 449.79999999999995,395.3 453.0,395.3" fill="#3055a8"/>
<text x="460.0" y="396.40" font-size="6.4" fill="#111"><tspan font-weight="bold">R428</tspan> (3 µmol/L)</text>
<g clip-path="url(#c0)"><circle cx="56.8" cy="489.8" r="17.4" fill="url(#g0)"/>
</g>
<circle cx="56.8" cy="489.8" r="16.90" fill="none" stroke="#111" stroke-width="1.1" stroke-opacity="0.85"/>
<g clip-path="url(#c1)"><circle cx="92.2" cy="489.8" r="17.2" fill="url(#g1)"/>
</g>
<circle cx="92.2" cy="489.8" r="16.70" fill="none" stroke="#111" stroke-width="1.1" stroke-opacity="0.85"/>
<g clip-path="url(#c2)"><circle cx="127.6" cy="489.8" r="17.2" fill="url(#g2)"/>
</g>
<circle cx="127.6" cy="489.8" r="16.70" fill="none" stroke="#111" stroke-width="1.1" stroke-opacity="0.85"/>
<g clip-path="url(#c3)"><circle cx="56.8" cy="533.6" r="17.4" fill="url(#g3)"/>
<rect x="39.4" y="516.2" width="34.8" height="34.8" filter="url(#nW)" opacity="0.15"/>
<rect x="39.4" y="516.2" width="34.8" height="34.8" filter="url(#nK)" opacity="0.4"/>
<rect x="39.4" y="516.2" width="34.8" height="34.8" filter="url(#gW)" opacity="0.08"/>
<rect x="39.4" y="516.2" width="34.8" height="34.8" filter="url(#gK)" opacity="0.08"/>
</g>
<circle cx="56.8" cy="533.6" r="16.90" fill="none" stroke="#111" stroke-width="1.1" stroke-opacity="0.85"/>
<g clip-path="url(#c4)"><circle cx="92.2" cy="533.6" r="17.2" fill="url(#g4)"/>
<rect x="75.0" y="516.4" width="34.4" height="34.4" filter="url(#nW)" opacity="0.2"/>
<rect x="75.0" y="516.4" width="34.4" height="34.4" filter="url(#nK)" opacity="0.28"/>
<rect x="75.0" y="516.4" width="34.4" height="34.4" filter="url(#gW)" opacity="0.08"/>
<rect x="75.0" y="516.4" width="34.4" height="34.4" filter="url(#gK)" opacity="0.08"/>
</g>
<circle cx="92.2" cy="533.6" r="16.70" fill="none" stroke="#111" stroke-width="1.1" stroke-opacity="0.85"/>
<g clip-path="url(#c5)"><circle cx="127.6" cy="533.6" r="17.0" fill="url(#g5)"/>
<rect x="110.6" y="516.6" width="34.0" height="34.0" filter="url(#nW)" opacity="0.2"/>
<rect x="110.6" y="516.6" width="34.0" height="34.0" filter="url(#nK)" opacity="0.28"/>
<rect x="110.6" y="516.6" width="34.0" height="34.0" filter="url(#gW)" opacity="0.06"/>
<rect x="110.6" y="516.6" width="34.0" height="34.0" filter="url(#gK)" opacity="0.08"/>
</g>
<circle cx="127.6" cy="533.6" r="16.50" fill="none" stroke="#111" stroke-width="1.1" stroke-opacity="0.85"/>
<g clip-path="url(#c6)"><circle cx="182.3" cy="488.4" r="17.5" fill="url(#g6)"/>
<rect x="164.8" y="470.9" width="35.0" height="35.0" filter="url(#nW)" opacity="0.15"/>
<rect x="164.8" y="470.9" width="35.0" height="35.0" filter="url(#gW)" opacity="0.04"/>
<rect x="164.8" y="470.9" width="35.0" height="35.0" filter="url(#sW)" opacity="0.15"/>
</g>
<circle cx="182.3" cy="488.4" r="17.00" fill="none" stroke="#111" stroke-width="1.1" stroke-opacity="0.85"/>
<g clip-path="url(#c7)"><circle cx="220.5" cy="488.4" r="17.6" fill="url(#g7)"/>
<rect x="202.9" y="470.8" width="35.2" height="35.2" filter="url(#nW)" opacity="0.03"/>
<rect x="202.9" y="470.8" width="35.2" height="35.2" filter="url(#gW)" opacity="0.03"/>
<rect x="202.9" y="470.8" width="35.2" height="35.2" filter="url(#sW)" opacity="0.12"/>
</g>
<circle cx="220.5" cy="488.4" r="17.10" fill="none" stroke="#111" stroke-width="1.1" stroke-opacity="0.85"/>
<g clip-path="url(#c8)"><circle cx="182.3" cy="532.4" r="17.5" fill="url(#g8)"/>
<rect x="164.8" y="514.9" width="35.0" height="35.0" filter="url(#nW)" opacity="0.2"/>
<rect x="164.8" y="514.9" width="35.0" height="35.0" filter="url(#nK)" opacity="0.25"/>
<rect x="164.8" y="514.9" width="35.0" height="35.0" filter="url(#gW)" opacity="0.08"/>
<rect x="164.8" y="514.9" width="35.0" height="35.0" filter="url(#gK)" opacity="0.08"/>
</g>
<circle cx="182.3" cy="532.4" r="17.00" fill="none" stroke="#111" stroke-width="1.1" stroke-opacity="0.85"/>
<g clip-path="url(#c9)"><circle cx="220.5" cy="532.4" r="17.6" fill="url(#g9)"/>
<rect x="202.9" y="514.8" width="35.2" height="35.2" filter="url(#nK)" opacity="0.1"/>
<rect x="202.9" y="514.8" width="35.2" height="35.2" filter="url(#gK)" opacity="0.05"/>
</g>
<circle cx="220.5" cy="532.4" r="17.10" fill="none" stroke="#111" stroke-width="1.1" stroke-opacity="0.85"/>
<g clip-path="url(#c10)"><circle cx="297.9" cy="493.6" r="18.4" fill="url(#g10)"/>
<rect x="279.5" y="475.2" width="36.8" height="36.8" filter="url(#gW)" opacity="0.02"/>
</g>
<circle cx="297.9" cy="493.6" r="17.90" fill="none" stroke="#111" stroke-width="1.1" stroke-opacity="0.85"/>
<g clip-path="url(#c11)"><circle cx="335.5" cy="493.6" r="18.4" fill="url(#g11)"/>
</g>
<circle cx="335.5" cy="493.6" r="17.90" fill="none" stroke="#111" stroke-width="1.1" stroke-opacity="0.85"/>
<g clip-path="url(#c12)"><circle cx="297.9" cy="532.1" r="18.4" fill="url(#g12)"/>
<rect x="279.5" y="513.7" width="36.8" height="36.8" filter="url(#nW)" opacity="0.12"/>
<rect x="279.5" y="513.7" width="36.8" height="36.8" filter="url(#nK)" opacity="0.15"/>
<rect x="279.5" y="513.7" width="36.8" height="36.8" filter="url(#gW)" opacity="0.06"/>
<rect x="279.5" y="513.7" width="36.8" height="36.8" filter="url(#gK)" opacity="0.05"/>
<rect x="279.5" y="513.7" width="36.8" height="36.8" filter="url(#sW)" opacity="0.12"/>
</g>
<circle cx="297.9" cy="532.1" r="17.90" fill="none" stroke="#111" stroke-width="1.1" stroke-opacity="0.85"/>
<g clip-path="url(#c13)"><circle cx="335.5" cy="532.1" r="18.4" fill="url(#g13)"/>
<rect x="317.1" y="513.7" width="36.8" height="36.8" filter="url(#nW)" opacity="0.1"/>
<rect x="317.1" y="513.7" width="36.8" height="36.8" filter="url(#nK)" opacity="0.1"/>
<rect x="317.1" y="513.7" width="36.8" height="36.8" filter="url(#gW)" opacity="0.04"/>
<rect x="317.1" y="513.7" width="36.8" height="36.8" filter="url(#gK)" opacity="0.06"/>
</g>
<circle cx="335.5" cy="532.1" r="17.90" fill="none" stroke="#111" stroke-width="1.1" stroke-opacity="0.85"/>
<ellipse cx="131" cy="490.2" rx="1.3" ry="1.8" fill="#8a8a8a" filter="url(#bl)"/><circle cx="129.6" cy="492.2" r="0.6" fill="#6a6a6a"/>
<circle cx="337" cy="492" r="1.0" fill="#8a8a8a" filter="url(#bl)"/>
<circle cx="336" cy="495" r="0.7" fill="#6a6a6a" filter="url(#bl)"/>
<circle cx="298.5" cy="531" r="0.9" fill="#8a8a8a" filter="url(#bl)"/>
<text x="56.50" y="470.60" font-size="5.6" text-anchor="middle" font-weight="normal" fill="#111" stroke="#111" stroke-width="0.12">DMSO</text>
<text x="92.30" y="470.60" font-size="5.6" text-anchor="middle" font-weight="normal" fill="#111" stroke="#111" stroke-width="0.12">Axl-FC</text>
<text x="126.50" y="470.60" font-size="5.6" text-anchor="middle" font-weight="normal" fill="#111" stroke="#111" stroke-width="0.12">R428</text>
<text x="182.50" y="469.20" font-size="5.6" text-anchor="middle" font-weight="normal" fill="#111" stroke="#111" stroke-width="0.12">DMSO</text>
<text x="221.30" y="469.20" font-size="5.6" text-anchor="middle" font-weight="normal" fill="#111" stroke="#111" stroke-width="0.12">MP-470</text>
<text x="298.20" y="473.00" font-size="5.6" text-anchor="middle" font-weight="normal" fill="#111" stroke="#111" stroke-width="0.12">NTC SiRNA</text>
<text x="335.90" y="473.00" font-size="5.6" text-anchor="middle" font-weight="normal" fill="#111" stroke="#111" stroke-width="0.12">Axl SiRNA</text>
<text transform="translate(36.0,490.4) rotate(-90)" font-size="6.0" text-anchor="middle" fill="#111" stroke="#111" stroke-width="0.18">–DTX</text>
<text transform="translate(36.0,530.0) rotate(-90)" font-size="6.0" text-anchor="middle" fill="#111" stroke="#111" stroke-width="0.18">+DTX</text>
<text transform="translate(161.8,487.8) rotate(-90)" font-size="6.0" text-anchor="middle" fill="#111" stroke="#111" stroke-width="0.18">–DTX</text>
<text transform="translate(162.2,531.4) rotate(-90)" font-size="6.0" text-anchor="middle" fill="#111" stroke="#111" stroke-width="0.18">+DTX</text>
<text transform="translate(276.6,494.0) rotate(-90)" font-size="6.0" text-anchor="middle" fill="#111" stroke="#111" stroke-width="0.18">–DTX</text>
<text transform="translate(276.6,530.3) rotate(-90)" font-size="6.0" text-anchor="middle" fill="#111" stroke="#111" stroke-width="0.18">+DTX</text>
<text x="378.40" y="473.20" font-size="5.8" text-anchor="middle" font-weight="normal" fill="#111" >NTC</text>
<text x="397.10" y="473.20" font-size="5.8" text-anchor="middle" font-weight="normal" fill="#111" >AXL</text>
<text x="405.80" y="473.20" font-size="5.8" text-anchor="start" font-weight="normal" fill="#111" >SiRNA</text>
<line x1="371.50" y1="475.00" x2="385.40" y2="475.00" stroke="#111" stroke-width="0.6" />
<line x1="390.00" y1="475.00" x2="403.40" y2="475.00" stroke="#111" stroke-width="0.6" />
<text x="374.90" y="482.60" font-size="7.0" text-anchor="middle" font-weight="normal" fill="#000" >–</text>
<text x="382.70" y="482.60" font-size="7.0" text-anchor="middle" font-weight="normal" fill="#000" >+</text>
<text x="392.70" y="482.60" font-size="7.0" text-anchor="middle" font-weight="normal" fill="#000" >–</text>
<text x="401.30" y="482.60" font-size="7.0" text-anchor="middle" font-weight="normal" fill="#000" >+</text>
<text x="405.90" y="482.40" font-size="5.8" text-anchor="start" font-weight="normal" fill="#111" >DTX</text>
<rect x="369.7" y="483.7" width="35.0" height="12.8" fill="#fff" stroke="#1a1a1a" stroke-width="0.9"/>
<rect x="369.7" y="498.7" width="35.0" height="11.8" fill="#fff" stroke="#1a1a1a" stroke-width="0.9"/>
<g filter="url(#bl)"><ellipse cx="374.6" cy="490.5" rx="4.4" ry="2.9" fill="#050505"/><ellipse cx="382.8" cy="490.5" rx="4.4" ry="2.9" fill="#050505"/><ellipse cx="375.1" cy="504.4" rx="3.9" ry="1.5" fill="#0a0a0a"/><ellipse cx="383.0" cy="504.4" rx="3.9" ry="1.7" fill="#0a0a0a"/><ellipse cx="391.6" cy="504.2" rx="3.9" ry="1.6" fill="#0a0a0a"/><ellipse cx="399.8" cy="503.9" rx="3.9" ry="1.7" fill="#0a0a0a"/></g>
<line x1="403.30" y1="488.50" x2="403.30" y2="491.50" stroke="#555" stroke-width="0.5" />
<text x="407.30" y="492.90" font-size="5.8" text-anchor="start" font-weight="normal" fill="#111" >AXL</text>
<text x="407.30" y="506.40" font-size="5.8" text-anchor="start" font-weight="normal" fill="#111" >GAPDH</text>
</svg>
</body></html>
